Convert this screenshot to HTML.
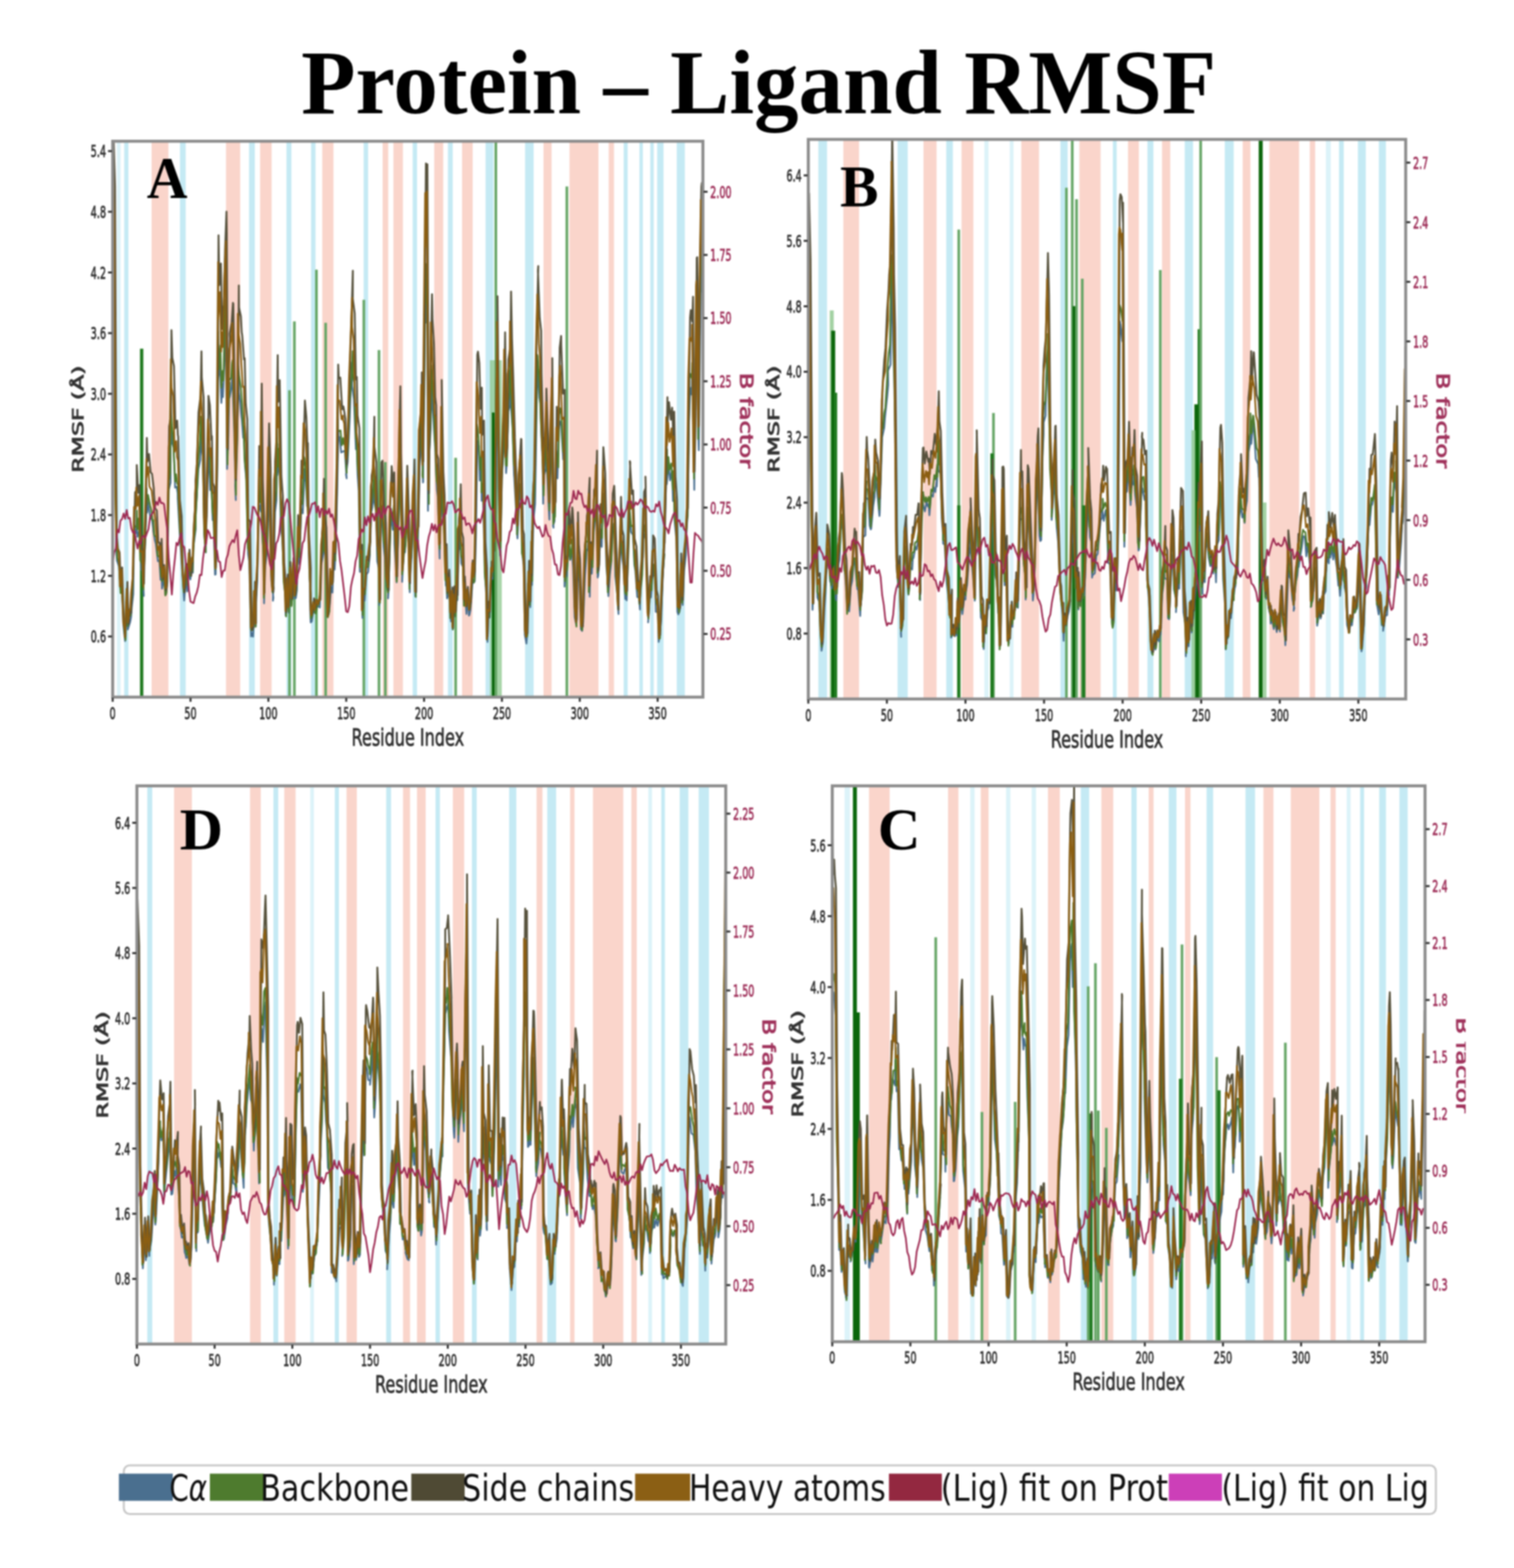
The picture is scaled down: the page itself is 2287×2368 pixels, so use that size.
<!DOCTYPE html><html><head><meta charset="utf-8"><title>Protein – Ligand RMSF</title>
<style>html,body{margin:0;padding:0;background:#fff;}svg{display:block;filter:blur(1.3px);}.t{font-family:"DejaVu Sans","Liberation Sans",sans-serif;}.b{stroke-width:1.1px;}.s{font-family:"Liberation Serif",serif;font-weight:bold;}</style></head><body>
<svg width="2287" height="2368" viewBox="0 0 2287 2368">
<rect width="2287" height="2368" fill="#fff"/>
<text class="s" x="455" y="171" font-size="137" textLength="1382" lengthAdjust="spacingAndGlyphs" fill="#000">Protein – Ligand RMSF</text>
<clipPath id="clipA"><rect x="170.2" y="213.3" width="891.6" height="839.5"/></clipPath>
<g clip-path="url(#clipA)">
<rect x="176.6" y="213.3" width="5.6" height="839.5" fill="#dcf3f9"/>
<rect x="187.6" y="213.3" width="6.4" height="839.5" fill="#c5eaf4"/>
<rect x="229" y="213.3" width="25.4" height="839.5" fill="#fad5cb"/>
<rect x="271.8" y="213.3" width="8.7" height="839.5" fill="#c5eaf4"/>
<rect x="341.4" y="213.3" width="21.4" height="839.5" fill="#fad5cb"/>
<rect x="376.2" y="213.3" width="8.7" height="839.5" fill="#c5eaf4"/>
<rect x="392.9" y="213.3" width="17.4" height="839.5" fill="#fad5cb"/>
<rect x="432.7" y="213.3" width="7.5" height="839.5" fill="#c5eaf4"/>
<rect x="469.8" y="213.3" width="6.8" height="839.5" fill="#c5eaf4"/>
<rect x="486.8" y="213.3" width="16.9" height="839.5" fill="#fad5cb"/>
<rect x="549.3" y="213.3" width="6.8" height="839.5" fill="#c5eaf4"/>
<rect x="578" y="213.3" width="8.5" height="839.5" fill="#fad5cb"/>
<rect x="594.3" y="213.3" width="14.3" height="839.5" fill="#fad5cb"/>
<rect x="623.4" y="213.3" width="6.6" height="839.5" fill="#c5eaf4"/>
<rect x="655.9" y="213.3" width="13.6" height="839.5" fill="#fad5cb"/>
<rect x="676.6" y="213.3" width="7.3" height="839.5" fill="#c5eaf4"/>
<rect x="698" y="213.3" width="16" height="839.5" fill="#fad5cb"/>
<rect x="733.5" y="213.3" width="12" height="839.5" fill="#c5eaf4"/>
<rect x="793.2" y="213.3" width="12.9" height="839.5" fill="#c5eaf4"/>
<rect x="821" y="213.3" width="12.2" height="839.5" fill="#fad5cb"/>
<rect x="860.3" y="213.3" width="43.7" height="839.5" fill="#fad5cb"/>
<rect x="919.5" y="213.3" width="8" height="839.5" fill="#fad5cb"/>
<rect x="942.1" y="213.3" width="6.1" height="839.5" fill="#c5eaf4"/>
<rect x="965.9" y="213.3" width="5.2" height="839.5" fill="#c5eaf4"/>
<rect x="982.3" y="213.3" width="5.2" height="839.5" fill="#c5eaf4"/>
<rect x="992.7" y="213.3" width="9.6" height="839.5" fill="#c5eaf4"/>
<rect x="1022.3" y="213.3" width="12.2" height="839.5" fill="#c5eaf4"/>
<rect x="211.5" y="526.6" width="5" height="526.2" fill="#1f7a1f"/>
<rect x="435.3" y="589.4" width="4" height="463.4" fill="#66a666"/>
<rect x="442.7" y="485.4" width="4" height="567.4" fill="#66a666"/>
<rect x="476" y="407.3" width="4" height="645.5" fill="#66a666"/>
<rect x="489.9" y="487.5" width="4" height="565.3" fill="#66a666"/>
<rect x="547.6" y="452.8" width="4" height="600" fill="#66a666"/>
<rect x="570.5" y="528.7" width="4" height="524.1" fill="#66a666"/>
<rect x="580.1" y="697.9" width="4" height="354.9" fill="#66a666"/>
<rect x="686.3" y="691.4" width="4" height="361.4" fill="#66a666"/>
<rect x="740" y="544" width="18" height="508.8" fill="#8cc78c" opacity="0.75"/>
<rect x="743" y="623" width="6" height="429.8" fill="#0b660b"/>
<rect x="747" y="213" width="4" height="839.8" fill="#66a666"/>
<rect x="854.3" y="281.6" width="4" height="771.2" fill="#66a666"/>
<polyline points="169.5,427.9 171.7,434.4 172.2,478.6 175.2,763.6 175.4,828.7 176.7,846.7 179.7,855.2 182.5,893.7 183.7,882.3 186.3,944 188.4,963.5 189,968.3 190.7,909.9 193.1,950.7 196.6,939.4 198,932.3 199,917.6 201.3,897 202.4,807.9 205,805.3 206.4,786.6 207.6,810.6 210.8,800.7 213.3,860.5 214.5,861 217.2,899.9 216.4,880.8 219,818.2 222,748.4 222.3,774.2 223.6,758.4 227.3,783.8 229,780.8 231.5,799.1 231.5,801.2 233.8,815.7 235.4,821.5 238.5,847.5 240.8,847.4 242.6,875.6 243.4,850 244.8,889 247.5,872.5 249.9,898.1 250.9,897.4 252.9,879.1 254.1,742.5 257.7,728.9 257.7,636 260.1,669.5 262.3,675.9 264.5,736.4 266.9,735.2 268.4,744.9 268.5,753 272,814.4 273.1,829.3 276.7,885.5 277.4,895.3 278.2,906.9 281.1,871.6 282.8,893.1 285,862.1 287.5,875.1 290,859.6 291.3,865 291.8,827.9 295.6,799.6 295.3,786.1 296.6,760.3 299.7,708.5 302.6,694.3 304,654.3 304.3,671.3 306.6,691.7 308.4,805.2 311,834.3 310.8,809.1 314.2,709.6 315.2,687.4 316.4,708.3 317.6,740.2 319.7,738.5 321.2,785.4 322.7,784.1 324.8,867.9 325.8,867.4 327.4,714.7 329.8,518.3 329.4,573.5 332.1,548.3 334.4,608.5 336,580.2 336.7,599.6 340.1,518.8 341.4,477.5 341.2,498 343,708.2 344.9,657.8 346.1,602.2 347,599.4 349.2,586.8 351.3,565.2 350.9,567.5 353.7,648.1 356.2,755.3 355.3,733.3 357.9,670.8 360.4,569.7 360.8,592.1 362.8,606.2 364.7,628.9 365.4,634.5 367.3,661.1 368.4,656.7 370.2,704.9 372.3,725.7 374.8,836.5 376.4,847.7 379.3,961.1 380.1,955.9 382.3,961.5 384.5,914.1 386.3,945.8 386.3,916.7 388.7,876.9 390.7,760.2 394.1,772.7 394.6,698.6 395.7,799.1 398.8,846.7 398.9,911.1 400,860 403.7,830.4 405.5,738.8 405.9,741.1 407.3,777.3 409.8,875.5 413,902.7 412.3,907.2 415.5,773.5 417.7,755.6 419.1,670.3 419,717.9 422.6,692.5 424.1,796.7 426.2,812.1 429.6,883.1 431.2,909.4 431.6,929.7 433.5,892.6 436.2,925.4 438.5,872.9 440.4,913.4 443.5,874.1 445,903.4 446.9,903.4 448.5,891.3 450.1,825.7 452.5,852.1 454.8,767.6 457.4,775.3 460.2,709 460.2,708.3 462.3,728.3 463.9,764.5 464.7,748.1 466.4,835.9 468,880.6 468.2,909.1 469.3,940 471,938.5 473,924.3 476.1,925.5 478.5,914.9 479.9,916.6 482.8,915.4 483.1,917.5 485,854.2 488.3,837.1 488.6,797.1 490.5,831.6 492.5,847.6 494.3,931.7 496,927.4 497.4,922.3 500.1,886.6 502.2,894.9 504.2,840.6 505.5,860.2 507.1,832.5 509.2,747 511.1,650.5 511.5,661.2 512.9,660 515.4,683.3 517.8,682.1 518.8,681.2 521,681.8 523.6,722.4 522.7,716.5 525.2,697.3 528.4,630.2 529.3,602.9 531.5,547.2 531.8,582.9 534.6,602.7 537.6,678.4 538.9,674 540.2,717.5 541.9,741.4 543.6,863.5 546.2,863.2 547.5,933.2 548.4,906.8 550.9,906.9 553.5,867.6 556.1,863.9 558.7,838.1 558.4,839.5 560.5,774.7 562.4,766.5 565.5,719.6 565.4,758.8 568,771.2 569.9,847.9 572.4,858.7 572.9,913.7 575,809.4 576.1,777.2 577.2,774.3 579.6,826.2 581.2,840.5 584.1,886.6 586.9,893.8 586.2,903.6 589,815.9 590.5,777.2 590.6,776 593.4,800.1 595.4,776.3 595.9,820.8 597.7,850.3 599.1,879.5 601.2,820 603.3,733.2 604.1,694.7 605.5,758.3 608.2,833.8 607.5,878.8 609.7,835.3 611.7,834.2 614.9,776.7 614.6,782.6 617.8,827.5 619,894.4 619.2,874.2 621.6,840.3 623.5,788.4 625.7,777.6 626,816.1 627.3,900.6 628.9,842.8 631.3,817.3 633.9,700.7 635.6,678.8 636.4,643 639,728.6 639.2,728.1 639.9,614.2 642.2,425.1 642.9,487.5 645.2,436.1 646.5,771.4 647.2,710.1 650.6,646.6 651.8,573.8 652.4,599.4 654.1,624.3 657.7,682.8 658,694.5 660,740 661.2,749.8 664.1,843.5 664.1,836.7 666.7,715.9 666.3,681 668.5,778.5 671.1,800.9 673.5,884.4 673.3,855.4 675.3,903.7 678.6,893.5 681.2,938.5 682.2,911.6 683.9,950.8 684.7,910.6 687.8,931.2 689.9,887.4 690.9,906.4 692.4,833.1 695.1,820.6 694.6,803.5 696.9,850.9 699.8,857.2 701.9,913.4 701.9,894.1 704.7,927.3 705.8,899.6 708.4,929.6 709.2,928.6 710.6,921.8 714.1,875 715.6,879.9 717.1,878 719,806.9 721.1,665.8 720.6,667.9 723.3,673.6 724.8,725.7 726.9,700.4 727.6,756.2 729.4,743.2 732.6,868.4 734.5,899.1 736.4,969.4 737.5,934.3 739.9,932.3 741.5,871.6 744,874.5 746.7,802.6 746.3,833.2 749.1,719.7 750.9,607.1 751.9,585.9 753,737.8 756,833 755.5,838.9 757.5,726.3 761,677.9 762.8,597.2 763.2,639.8 764.5,714.5 765.1,705.2 767.9,621.1 770.4,612 770.2,559.5 772.1,617.1 774.3,647.5 776.4,716.9 776.8,721 779.4,768.4 781.2,807.1 781.7,813.2 784.1,758 786.4,737.9 786.9,744 789.1,837.6 791.1,854.9 792.8,959 795.2,972 796.4,958.7 797.8,881.7 801,917 803.4,845.3 803.5,883.4 805.6,787.9 808.3,761.1 810.7,615.9 812,557.7 812.9,558.3 814.7,600.4 816.7,611.7 817.7,655.7 819.8,701.5 820.5,760.8 821.1,718.9 824.8,708 824.4,663.1 826.6,715.7 828.5,758.2 829.9,784.8 831,720.2 834.2,656.6 833.8,639.7 836.1,796.9 835.3,793.8 837.6,787.3 840.1,693.7 842.1,722.4 844.6,639.8 846.3,636.5 847.8,644 850.7,693.8 852,694.1 852.8,885.9 855,867 856.4,870.3 858.7,822.3 861.1,845.6 864.8,827 863.6,830.2 865.7,856.8 868.1,932.3 870.5,943.4 871.4,934.8 872.3,834.8 872.7,864.5 875.2,880.3 877.5,950.2 879.3,952.9 880.9,940.2 883.6,870.5 885.6,843.5 886.1,832.5 888.2,828.1 889.8,790.3 890.9,901.3 891.5,848.3 894,866.5 897,802.9 898.5,788.9 901.3,757.1 901.8,804.4 902.9,872.3 903.7,868.7 906.9,810.6 909,825.9 910.6,753.8 911.2,762.9 913.9,782.6 916,855.3 918.1,881.7 919,900.3 921.2,868.3 923.2,850.4 924.7,803.6 926.5,802.2 928.2,798.7 929.4,870 932.3,897.1 934.3,927.3 934.1,897.3 936.3,846.8 937.4,813.2 940,844 941.5,854.3 944.5,904.6 945.9,877 946.7,906.8 948.3,834 951.2,776.5 950.9,776 953.4,803.7 956.1,807.9 958.3,853.2 959.7,861.5 962.6,901.5 965.4,902.7 966.7,920.4 966.9,891.7 969.3,871.9 971.5,815.2 974.8,804.8 975.1,796.8 977.6,886.4 979.3,936 979,940 981.6,901.6 983.3,902.2 986.8,858 987.1,868.3 989.3,870.7 990.6,924 994,924.4 995,969.4 996,962.3 998.7,935.7 1000.7,875.2 1003.4,837.1 1002.9,835.5 1004.9,771.1 1007.1,696.5 1007.2,731.2 1010.1,699.4 1012.1,725.4 1015.1,710.2 1016.6,756.6 1018.8,722.9 1018.8,784.4 1021.8,816.2 1023.2,924 1024.7,927.8 1027,921.1 1028.9,878.5 1031.2,913.8 1033.3,862.7 1036.1,837.9 1037,799.7 1038,787.6 1040.6,639 1042.5,593.8 1043.5,585.8 1044.9,595.9 1045.4,563.8 1048.2,681.6 1048.8,739.8 1049.2,670.3 1052,520 1053,508.8 1054.5,640 1055.6,680 1057.4,513.5 1059.1,394.6 1059.7,391.5 1060.8,440.6 1061.7,431.9" fill="none" stroke="#4a6f8f" stroke-width="2.6" stroke-linejoin="round"/>
<polyline points="169.5,397.8 170.9,396.4 172,443.5 174.2,750.3 176.3,822.6 177.1,842.8 179.9,849.8 182.2,895.8 183.6,881.2 187.2,945.1 188.3,958 189.7,966.4 191.2,901.6 192.9,945.4 195.9,926.7 197.3,929.5 198.5,915.4 200.5,883.2 202.9,794.5 206.2,795.8 206.7,771.1 207.3,799.7 209.6,782.9 211.9,846.6 214.5,850.7 216.8,890.3 217.1,868.4 219.7,810.8 221.5,737.9 221.9,762.5 223.7,747.5 226.9,763.7 228.5,770.2 230.6,786.7 231.6,785.5 233.1,808.2 236.3,811.7 238,839.1 241.2,841.2 243.4,870.6 242.9,837.7 244.7,877.6 247.5,864 249.8,899.3 251.3,894.9 252.7,871.5 255.2,726.1 257.2,713.8 257.8,612.2 259.6,643.4 261.2,658.5 264.7,727.4 265.9,716.2 267.7,730.2 268.9,732.4 271.9,802.3 273.6,819.8 276.7,884.1 277.5,894.1 278.4,894.4 281.1,861.2 283.1,884 284.9,847.7 287.3,869.6 290,855 290.8,863.1 293.1,812.6 295.4,795.9 295.8,774.9 297.4,748.8 299.4,695.9 301.5,673.8 303.6,629.3 304.7,659.8 306.3,683.8 308.5,805.8 310.6,833.9 311.1,804 313.4,698.9 314.1,675 316.7,686.8 318.1,722.2 318.5,720.2 321.2,774.4 322.6,780.5 325.1,857.9 325.6,859.5 328.2,700 329.6,500.6 330.7,557.6 333.1,521.7 334.3,585.4 336.6,559.8 337.4,574.4 339.3,489.4 340.7,452.8 342.1,476.8 343.7,701.3 344.2,640.2 346.7,578 346,574.7 349.1,570.5 350.5,548.8 351.4,544.1 354,639.9 356.4,747.4 356.5,728.2 358.4,662.4 359.6,548.4 361.3,568.3 363.8,584.2 365,602.3 365.6,610.7 367.1,641 368.2,646.5 369.3,692.2 371.7,713.7 374.3,827 377.6,837.3 379.1,951.1 379.7,951.8 381.5,951.4 384.4,905.5 386.1,946.5 386,919.5 388.2,867.1 390.7,748.1 393,758.7 394.5,685.3 395.9,788.3 397.5,830.3 398.7,903 400.1,850.9 403.7,822.1 405,721.1 405.1,727.5 408.4,764.5 410.1,869 411.5,893.7 412.3,894.9 414.7,764.2 417.6,742 418,648.4 419.8,704.6 421.3,677.5 424.7,780.6 426.3,798 428.5,878.5 431.8,904.8 432.2,930.9 433.4,887.3 435.9,924.2 437.8,874.3 440.3,915.3 443.3,867.7 445.5,900 446.9,894.8 447.5,889.5 449.8,821.5 452.2,841.4 455.3,756.5 456.8,761.1 458.7,688.9 460.1,692.7 461.3,704.6 463.9,752 463.5,730.1 467.3,831.7 467.8,872 469.3,898.5 469.5,934 471.8,928.4 473.5,918.7 476.7,926.5 479.1,915.6 481.2,912.5 481.6,910.5 482.8,905.9 485.3,840.5 487.8,831.7 488.3,786.8 489.4,826.9 493,841.3 494.4,926.6 495.3,932.2 497.4,923.8 499.1,875 501.1,881.8 503.8,832.7 506.5,846.4 505.9,827.7 508.4,729.7 510,632.4 510.5,651.4 514.4,650.1 516.4,672.5 518.4,661.5 519.4,670.3 521,672 523.7,713.9 523.3,706.3 525.1,684.2 527.8,611.3 530.4,579.6 532.8,530.4 532.6,564.8 535.3,577.9 537.6,662.5 538.3,657.6 540.2,704.2 542.1,720.8 543.9,856.8 545.9,852.8 547.9,928.9 548.6,899 551.3,897.1 552.9,857.7 555.7,856 558.7,828.7 558.3,838.1 561,761 562.5,751.9 565.3,711.3 566,743.7 567.5,763.2 570.8,838.5 573.2,858.4 574,910.5 574.5,808.5 574.8,761.8 577.2,767.6 579.5,816.7 581.3,825.3 584.3,884.2 586.1,894.7 586.8,892.2 589.6,808.1 590.2,771.2 590.7,768.4 593.3,786.9 595,763.2 596.5,807.3 598.1,835 599.2,878.3 601.3,809.7 602.8,723.2 603.2,680.1 604.6,747 607.4,817.6 607.4,867.5 610.4,834.7 612.6,823.2 615,757.1 614,772.8 617.1,819.5 618.7,889.7 618.8,868.9 621.5,835.1 624.9,777.6 626.1,762.2 627,802.6 628.1,901.4 628.4,828.9 630.6,811.3 633.4,688.6 635.9,664.1 636,627.5 638.8,721.4 638.1,718.4 640.9,594.4 642.9,398.5 643,459.2 645.2,399.4 647.9,761.1 648.1,694.3 650.6,630.4 651.2,551.9 652.5,572.5 655.3,611.6 656.9,663.5 657.7,672.3 659.4,725.5 661.9,734.8 663.9,827 664.1,828.9 667.1,702.8 667.4,663.5 668.1,760.6 670.4,795.1 672.8,876.4 673.7,850.1 675.5,896.5 678.5,879.8 680.1,933.8 683.2,905.3 684.1,950.1 685,904.7 687.7,930.7 690.4,888.5 690.5,904.6 691.6,827.3 694.2,808.7 695.3,787.9 696.3,838.9 699,844.9 700.8,914.9 701.2,890.7 704.7,915.1 705.9,899.9 709.6,918 709.9,915.6 710.6,917 713.1,870.8 715.7,880 716.8,874.9 718.1,798.5 720.1,640.3 721.1,644.8 722.5,657.7 725.5,709.2 727.4,686.5 727.1,743.7 730.5,726.8 732.2,865.6 734.7,891.4 735.3,965.7 736.6,927.7 739.2,931.5 741.5,871.1 743.3,870.1 746.5,794.1 747.3,831.6 748.1,707.8 751.7,582.9 751,561.1 754.1,727.2 755.7,827.5 756,827.2 758.1,718.3 761.2,664 762.7,578 762.5,631.5 764,702.6 765.7,703.2 768,607.4 769.6,592.7 771,542.6 772.5,599.1 774.1,638.5 776.3,702.8 777.6,700.4 780,754.2 781.7,798.7 780.9,806.9 783.3,747.5 786.2,731.9 786.9,729.6 788.4,835.1 791.9,849.6 794,956.7 795.1,961.2 796.4,960.7 797.8,881.4 800.4,913.7 802.6,835.3 803.9,877.5 804.6,775.4 807.1,748.4 810.7,599.3 811.5,535.9 812.1,537.9 814.9,577.3 815.7,595.5 816.7,631.6 819.6,688.4 821.2,748.3 822.2,705.3 823.7,689.1 824.8,649.5 826.3,703.6 829.2,741.3 829.8,770.8 831.5,706.1 833.9,636.6 833.2,625.8 835.8,791.3 836.4,787 838.4,779.8 840.2,680.2 843.4,705.7 844.5,627.2 846.3,616.6 847.5,618.4 850.7,682.4 852.6,680.4 853.3,877.7 855.3,862.3 856.6,860.8 859.8,816.3 861.7,844.4 864.4,822.2 863.5,814.7 867,850.7 869.4,926 870.8,946.3 870.7,932.4 872.3,830.7 874.2,864 876.5,875.5 877.6,943.9 879.3,951.6 880.3,936.5 882.7,858.5 885,836.4 885.1,818.1 887.9,817.9 889.4,781.1 889.5,894.2 891.9,842.3 895.1,856.7 897,789.4 899,784.4 901.2,743.4 902.4,794.2 902.4,865.2 903.5,859.5 906.9,799.1 909.4,812.6 911.3,745.8 911.6,749.3 913.1,772.6 916.4,839.8 917.5,875.3 918.1,894.5 921.1,857.2 923.5,846.3 926,797.6 927.3,791.5 928.1,789.3 929.8,856.5 931.8,886.3 934,920.7 933.8,886.7 936.4,830.6 938.4,801.7 940,834 942.4,849.7 944.3,896.3 946.7,869.6 946.7,898.6 949.4,828.6 951.5,762.9 950.3,760.7 953.3,794.6 956,793.6 958.7,852.1 959.9,858.7 963.6,892.4 964.6,891.2 966,912.3 968,887.7 970.1,868.5 972.3,804.4 974.1,794.1 975,791.5 977,872.2 979,930.5 979.6,933.9 981.8,890.2 984.2,891.6 985.6,851 988.2,854 988.3,860.8 991.4,910.4 994.2,917.6 996.3,964.8 996.9,963.9 998,930.7 1001,868.1 1003.4,837.4 1002.1,832.6 1004.8,761 1007.6,678.8 1008.1,715.8 1009.7,690.4 1011.5,709.4 1014.1,699.9 1016.4,738.9 1017.4,711.4 1019,781.8 1021.7,799.3 1023.9,917.5 1024.6,916.3 1026,924.9 1028.1,866.1 1030.5,910.4 1032.9,851 1035.2,821.9 1037.8,786.6 1038.8,779.9 1041,622.8 1041.4,567.1 1042.5,564.6 1044.9,571.3 1045.7,548.1 1047.9,665.4 1048.3,722.8 1049.1,657.1 1052.5,497.5 1053.5,494.5 1054.8,617.8 1054.6,663.1 1056.1,496.4 1059.3,367.3 1059.9,366.2 1061,418 1061,409.8" fill="none" stroke="#4e7b2e" stroke-width="2.6" stroke-linejoin="round"/>
<polyline points="171.1,212.6 171.8,214.7 173.7,281.3 175.7,712 176.4,809.1 178.2,828.8 180.6,834.2 182.6,885.1 184.5,856.9 186.9,936.6 189.4,959 189.2,960.6 192.5,878.8 194.1,942.1 196.9,918.9 198.2,925.4 199.1,893.3 201.1,865.1 204.1,743.7 206.6,740.3 206.6,702.4 208.9,744.4 210.8,732.7 213.7,824.4 215.5,829.8 217.5,881.5 217.9,855.4 220.5,766.1 221.8,661.5 222.7,697.2 225.1,685.7 227.6,713.3 229.6,715.7 232.3,737.6 232.5,744.7 234.3,767.5 236.9,770.8 239.1,819.2 241,819.4 243.6,856.6 244.1,813.9 246.4,874.8 248.1,853.3 250.6,891.5 251.9,885.5 252.8,849.2 255.5,644.1 258.2,627.9 259,498.7 260.3,540.2 262.8,553.1 265,646.8 267.6,635.2 268.7,657 269.2,659.4 271.7,755.5 274.4,779.3 276.2,870.3 278.3,885.6 278.9,894.3 281.6,851.3 283.6,874.6 286.3,830.1 288.9,869.7 290.9,844.3 291,850 293.1,789.5 295.6,751.9 295.4,725.3 297.4,700.7 299.9,622.6 303.1,597 304.3,530.7 304.8,569.8 307.6,600.8 309.8,780.4 310.5,816.3 312.3,779.7 314.8,623 314.9,597.8 317,611.6 319.5,664.5 320.1,658.6 321.4,729.2 323.6,734.9 326,857.3 326.4,847 328.8,634 330.1,355.5 331.3,430.6 333.7,398 335.6,497.2 337.1,462.8 337.5,486.3 340,377.5 342.1,319.7 342.6,353.8 344.2,678.4 344.6,600.4 347.4,511 347,503.8 349.9,487.4 351.9,457.5 352.4,458.8 354.4,576.2 356.5,725.1 356.7,702.9 359.5,596.8 360.8,431.2 361,464.2 363.9,477.9 365.1,501.6 365.9,506.7 368.6,542.9 369.6,540.9 371.2,609.2 373.6,633.4 375,783.9 377.7,787.3 380.5,951.6 380.6,950 383,948 385.3,878.6 386.8,941.3 386.9,901.2 389.8,832.2 391.6,673.7 394.5,692.6 395.4,579.5 397,726 399.4,792.1 399.4,895.1 401.2,817.4 403.9,786 406.5,639.5 406.6,644.3 408.7,705.2 410.5,851.5 413.4,888.3 412.9,894.1 415.6,696.1 417.8,661.9 419.5,536.4 420.1,606.8 422.5,574.1 425,718.7 427.2,748.9 429.5,851.2 431.9,884.8 432.1,924.9 434.7,867.7 436.5,915.4 438.6,848.6 441.5,904.7 443.4,842.6 446.1,897.8 447.6,883 448.4,881 450.3,778 453.4,814.5 455.4,695.6 458,702.5 460.6,605 460.7,606.3 462.7,629.5 465.2,694.8 465.1,669.2 466.8,804.6 469.4,858.2 469.2,891.3 470.3,928.4 472.2,923.8 474.3,903.7 476.8,917.6 479.2,906.6 481.2,910.4 483,900.2 484.1,905.6 486.5,805.4 488,786.3 489.5,723.1 490.4,775.8 493.1,796.7 495.9,928.4 495.6,917.6 497.4,917.4 500.6,863.3 502.8,879.7 505,817 506.6,835.9 507.6,806 509.9,683.4 510.9,550.6 511.8,571.1 514,570.2 516.9,618.1 518.7,613.8 520.1,621.9 521.7,633 524,700.7 523.9,689.7 525.7,649.8 528.9,546.5 530.5,493.7 533,409 532.9,451.1 535.8,473.1 537.6,573.1 539,569.4 540.1,627.5 542.9,646.4 544.9,829 547,822.8 547.9,919.1 549.5,889.4 551.4,889.3 553.9,840.5 557.1,847.1 559.3,817.3 559.4,819.4 561.4,718.2 564,704.2 565.5,629.5 565.6,674.8 568.6,698.2 570.6,808 573.1,828.8 574.5,905.4 575.1,749.5 576.2,698.3 577.8,695.8 580.4,765.6 582.8,788.8 584.8,864.2 586.9,878.5 587.2,891.7 589.3,766.3 591.5,708.8 591.6,704 594.2,737.1 595.5,713.4 596.5,770.6 598.8,814.4 600,870.5 600.9,770.2 603.2,649.8 604.8,583.3 605.7,685.4 608.6,791.1 608.6,856.8 611,801.3 613.5,793.9 615.2,703.3 615.9,722.2 618,786 619.4,880.9 620.2,855.2 622.2,805.5 625.3,721.9 626.1,693.8 626.9,755 628.7,894.2 629.4,806 632.3,794.8 634.2,637 636.9,609.1 637.2,562.5 638.8,697 639.5,696.5 641.1,525.6 643.4,246.8 643.3,335.2 645.6,248.1 647.9,745.1 648.8,657.9 650.4,553.9 652.6,444.3 653.3,481.6 655.6,520.6 657.4,599.1 658.9,612.2 659.8,685.4 662,692.9 664.7,820.4 664.7,814.3 667.7,626.8 667.2,574 669.7,712.4 671.6,748 673.9,867.6 674.7,821.9 676.1,894.7 678.8,860.5 681.6,931.6 683.5,887.2 684.2,948.2 686.5,885.4 688.7,923.4 690.9,868.5 691.2,898.7 693.3,784.1 695,764.4 696,731.4 697.3,802.7 699.8,812.5 701.8,907.8 702.2,870.6 704.5,915.7 706.8,886.4 709.3,920.7 710.9,908.8 711.5,909.2 714.1,846.5 716.3,868.3 717.4,861.7 718.8,764.7 721,535.6 722,531 724,547.8 726,617.4 727.8,585.5 728.3,656.8 731,635.1 733.3,818.1 735.6,858.1 736.6,960.7 738.1,908.7 740,924 742.9,848 744.8,860.9 747.1,764.3 747.5,813.4 749.1,639.7 751.8,476 751.5,447.4 753.8,675 756.3,816.1 756.1,817.1 759.2,669.3 761.6,604.8 763,502 763.9,573 764.6,688.6 766.4,674 768,543.2 771.1,522.4 772,440.3 773.4,511.9 775.2,567.3 777.8,660.3 777.7,659.6 780.4,731.7 782,786.5 782.2,792.9 784.5,704.8 787.1,662.8 787.6,663.6 789.9,799.6 791.5,807 794.4,951.1 795.2,957.5 796.9,956.7 799.3,846.8 801.2,908.1 803.5,801.8 803.6,869.1 805.8,734.5 807.9,701.4 810.8,496.4 813.1,401.8 812.6,408.7 815.3,480.2 817.5,499.9 818.1,564.3 820.1,643.7 821.5,729.7 822.2,670.3 825,644.1 825.4,587 827.6,656 829.7,716.3 830.1,759 831.6,657.3 834.3,567.5 834.3,540.8 836.2,774 836.5,770 839.3,757.4 841,614.3 843.9,646.6 845.5,525.1 847.6,507.3 847.8,521.8 850.6,594.5 853,588.7 853.8,867.4 855.4,840.2 857.2,844.1 859.6,770.8 862.4,808.8 864.4,766.4 865,770 867.4,813.6 869.4,918 870.9,936.1 871.8,918.7 873.1,773.7 874.3,822 876.2,845 879.3,938.2 880.3,946.2 880.8,931.7 883.5,824.6 886.1,800.5 886.6,779.3 888.2,769.7 890.8,721.6 890.6,884.9 893.3,818.8 895.1,837.3 897.5,740.1 900.2,734.4 901.9,680.7 901.9,751.4 903.9,862 905.2,852 907.3,761.4 909.6,778.8 911.4,675.5 912,683.9 914.2,714.8 916.4,815.3 918.8,861.3 918.7,886 921.4,837.7 923.9,812.9 925.6,745.6 927.8,733.7 927.9,735 931,825.9 932.9,866.5 934.2,920.8 935.1,866.4 937.4,790.8 938.1,750.5 939.9,800.3 942,808.7 944.9,884.3 946.6,855.8 947.2,892.3 949.6,788.2 952,698.2 951.4,696.5 954.6,746.2 956.3,740.6 958.6,813.7 961.4,825 964,877.8 965.9,878 966.4,910.5 968.4,863.1 970.9,841.3 973.1,742.8 975.4,736.6 975,720 977.2,847.8 979.7,923.1 979.6,931.1 982.2,870.1 985.2,871.5 986.6,808.7 988,811.2 989,813.5 991.9,891.4 993.9,899.6 996.3,958.3 997.1,959.1 998.7,921.2 1001.5,862.4 1003.5,822.5 1004,819.1 1006.1,726 1008.2,600 1008,647.6 1010.6,607.5 1013.4,633.8 1015.3,615.7 1017.6,670.1 1018.4,621.7 1020.4,719.8 1022.7,755.2 1024.4,914.3 1025.4,914.5 1027.3,918.1 1029,835.8 1031.6,906 1033.7,832.5 1036.4,813.3 1038.1,772.6 1039.1,767.1 1041.4,545.7 1042.4,479.6 1043.5,468.5 1045.7,485.5 1046.9,448.2 1047.8,615.8 1049.1,712.1 1050.9,624.6 1052.5,389.4 1053.3,388.4 1055.1,585.3 1055.7,643.3 1057.2,427.1 1059.4,282.4 1060.1,276.5 1062.6,385 1062.7,366.3" fill="none" stroke="#57523d" stroke-width="2.8" stroke-linejoin="round"/>
<polyline points="169.7,259.7 170.9,266.3 172.4,327.9 174.4,721.7 175.3,806.4 177.2,826.7 179.5,834.2 181,885.8 183.5,859.8 186.2,940.9 188.8,952.4 188.4,962 191.2,889.2 193.1,940.4 195.3,921.4 196.6,921.5 198,895.1 200.3,873.3 202.4,765.5 205.4,768.6 205.8,736.4 207.6,763.9 209.9,748.9 211.9,833.1 214.7,832.2 216.2,886.3 216.8,854.1 218.9,781.5 221.1,692.9 221.4,721 224.1,705.2 225.8,734.8 229,740.6 230.9,758.5 232,763.2 233.5,776.1 235.1,788.8 238,830.7 240.1,825.4 242.3,855.6 242.6,824.1 244.9,872.2 247.7,855.6 250.1,888.3 251.2,886.5 251.8,855 254.9,675.1 256.4,661.4 257.9,542.5 259.2,586 261.7,598 263.8,682.3 266.2,666.1 267.3,689.6 268.8,695.5 271.3,769.7 272.7,797.2 275.9,867 277.7,887.4 277.6,888.4 280.7,852.6 283,874.5 285,835.3 287.2,862.1 289.9,842 290.7,848.1 292.5,801.5 294.3,772.3 294.6,745.8 296.4,722.1 299.1,655.7 301.8,628 303.3,576 303.9,602.7 305.8,635.8 308.1,781.6 310.2,820.9 311,787.2 313.6,650.2 314,633.4 315.1,640.2 317.6,689 318.9,677.1 320.7,741 322.9,746.5 325.3,858.3 324.7,846.6 327.3,660.5 329.4,395.7 329.6,482 332.4,441 334.1,531 335.3,501.7 336.6,524.2 338.9,419.5 341.2,364.1 340.9,402 342.8,676.2 344.2,618.7 346.1,531.2 346.1,528.9 348.8,515.8 350.7,490.3 350.9,488 353.3,594.6 355.8,722.4 355.9,699.8 358.2,615.7 359.2,473.9 360.3,503.8 362.9,518.6 364.2,540.4 364.5,548.1 366.8,584.5 368.4,583.8 369.5,639.2 371.7,669.8 374.8,796.2 376.2,811.3 378.8,948.1 379.4,944.9 381.8,945.4 383.5,892.5 385.9,942.1 385.7,898.6 388.6,847 391.2,709.6 393.3,718.6 393.9,621.6 395,749 398.2,806.1 398.7,898.1 400.4,829.8 402.5,800.6 404.8,677.8 405,675.4 406.9,729.6 409.3,857.1 411.3,891.1 411.6,890.1 414,724.1 416.9,699.6 418,583 419.1,645.7 420.9,615.1 423.7,744.6 425.7,774.3 428.3,856.5 430.4,894.4 431.1,922.6 433.5,873.1 435.3,917.2 438.2,857.1 439.8,903.1 442.6,849.9 444.8,899.7 446.3,882.9 447.4,884.6 449.8,795.9 451.8,826.2 454.6,718.1 456.5,722.2 458.5,639.1 459.8,641.5 461.6,658.6 463.8,713.8 463.3,693.9 466.1,817.8 467.7,855.7 468.6,892.6 469.1,921.4 470.3,929.2 473,909.3 475.3,921.1 477.6,905.5 480.3,912.8 482.2,903.4 482.7,907.3 485,822.6 487.5,798.2 488,745.1 490.1,796.5 491.5,821.3 494.6,930.9 494.9,924.9 496.4,914.3 498.7,859 501.5,882.8 503.3,818.6 505.9,833.9 505.7,806.9 508.5,698 509.8,581.5 510.4,603.8 513,605.2 515.9,633.3 518.2,627.7 518.3,634 519.9,639 522.5,692.9 522.9,683.7 525.2,659.5 527.2,571.7 529.1,522.7 531.9,449.8 531.8,493.3 534.1,512.5 536.5,613 538.7,610 538.5,653.5 541.5,677.5 544.1,835.6 546.1,831.9 546.5,921.7 548.5,891.1 551.1,887.8 553.5,845.8 555.1,843.6 558,819.5 558,824.2 560.1,734.1 562.5,720.5 564.7,661.4 564.9,703 567,723.6 569.6,821.9 571.6,834.3 573.2,908.7 574.4,773.6 574.9,726 576.4,724.6 578.6,782.6 581.5,802.4 583.2,871.9 586.4,885.7 585.7,887 588.2,781 590.2,728.5 590.9,729.4 593.4,750.3 594.6,729.6 595.5,783.5 597.8,819.1 598.5,869.8 599.9,781.1 602.6,676.7 603.4,619.3 604.6,710.7 607.1,804.2 608,861.6 609.7,811.6 612.1,805.9 614.5,722.5 614.3,739.1 616.3,794.4 618.1,878.5 619.2,862 621.2,810.7 623.2,744.8 625,717.6 625.5,778.7 626.8,893.7 628.2,817.7 630.7,796.3 632.6,649.7 635.2,629.9 636.2,581 638.2,702.3 638.1,701.1 639.6,545.2 642.2,291.5 642.2,373.3 644.9,288.8 646.9,739.5 647.4,665.9 649.7,582.2 650.6,486.7 652.1,512.3 653.9,556.7 656.4,626.2 657.9,629.6 659.1,697.3 661,713.5 663.1,822.4 664.2,814.8 666,660.5 666.4,614.4 668.4,730.5 670.5,761.2 672.3,864.8 672.6,825 675.8,892.5 677.8,872.4 679.9,925 682.6,891.8 683.3,947.2 684.9,897.7 687.2,924.9 689.8,869 689.6,890.3 691.4,798.7 694.4,789.3 694.5,752.8 696.5,818.7 698.7,825.9 700.6,904.5 701.2,880.3 703.5,915.4 705.5,890.4 708.5,921.1 709.5,909.8 710.3,908.6 713.4,850.3 714.9,871.8 716.1,861 717.6,774.7 719.9,577.1 720.5,577.8 722.5,597.7 724.9,654 726.8,629.2 727.4,689.9 729.4,681.7 731.8,831.2 734.4,872.8 735.2,965.3 736.7,920.9 739.1,923 741.7,857.6 744,863.5 745.9,769.5 746.5,817.7 748.5,667.5 751.1,523.5 750.6,486.1 753.4,698.9 755,817 755.4,817.7 757.7,687.9 760.1,623.5 761.5,527.7 762.3,590 763.4,690.4 765.1,674.2 766.7,564.9 769.9,546.2 770.3,485.3 772.2,539.5 773.9,594.7 776.6,671.6 776.7,671.8 778.5,733.5 780.8,787.1 781.2,793.8 783.2,716.3 785.6,688 786,694.3 788.2,807.3 790.5,828.2 792.7,951.3 794.7,961.9 795.4,953.6 798.1,862.8 800.2,906.9 802.5,817.9 802.4,865.3 804.9,746.5 806.6,721.8 809.3,536.5 811.6,444.5 812.2,453.4 814,518.9 815.7,540.9 816.7,584.9 818.7,662.7 820.7,731.9 821.3,684.6 823.4,655.3 825,607.1 825.6,674.6 828.3,724 829,758.3 830.2,674.1 833.1,593.5 833.5,571 834.9,774.5 835.2,772.9 837.9,761.3 840.1,645.5 842.6,665.7 844.8,568.7 846.1,552.4 846.6,562.1 849.2,632.7 851.7,630.5 852.4,871.5 854.6,846 856.7,848.4 858.7,793.9 861.6,821.3 863.1,792.2 863.9,793.8 865.9,821.9 867.9,916.3 870,939.4 870.8,924.3 872.3,789.3 872.5,832.5 875.7,858.4 877.3,940.4 878.3,946.4 880,933.3 882.5,837.9 885.1,809.4 885.5,788.9 887.2,791 889.3,745.7 889.4,884.7 892,821.9 894.4,844.9 896.9,754.6 898.4,746.7 900.1,702 900.9,763.1 902.4,856.1 903.3,854.8 906.3,777 907.7,789.7 911.1,704.4 910.9,712.3 912.7,742.9 915.4,825.1 917.6,869.5 917.4,882.2 920.4,849.2 921.9,823.9 924.6,761.9 926,756.6 927.5,758.6 929.1,835.6 931.3,876.3 933.1,914 933.9,875.3 936.5,809.6 937.3,775.4 939,815.6 940.9,822.5 943.1,883.2 945.9,854.7 945.5,893.2 948.4,797.9 950.2,731.8 950.3,723.3 952.8,768.4 955.5,762.5 957.9,828.4 959.5,832.3 961.9,889.2 964.2,879.6 965.7,906.6 967.2,867.6 969.1,845.1 971.5,767.7 974.2,764.4 974.4,752.6 976,852.8 978.1,925.6 978.8,929.6 981.6,883.1 983.1,876.9 985.4,831.8 986.8,832.3 988.7,829.1 990.5,902.6 992.7,908 995.2,964.1 996.3,954.2 997.3,928.4 1000.2,862.3 1002.6,822.3 1002.5,818.6 1004.4,735.7 1006.3,630 1007.4,672.4 1009.4,638.1 1011.3,667.4 1014.4,646.7 1016.6,703.9 1017.5,658.9 1019,746.4 1021.1,776.2 1023.4,916.2 1023.8,910.1 1026,918.2 1028.5,850.3 1030.3,900.8 1032.7,838 1035.3,812.1 1037,772.3 1037.4,767.3 1039.6,570.2 1041.4,512.1 1042.2,509.7 1044.9,515.6 1045.5,490.2 1046.6,628.8 1047.5,713 1049.4,637.2 1051.4,431 1052,424.2 1053.6,592.5 1054.8,644.7 1056.3,449.9 1058.6,307.8 1058.6,301.8 1060.7,386 1061.5,374.1" fill="none" stroke="#8b5e12" stroke-width="2.6" stroke-linejoin="round"/>
<polyline points="170.2,850.9 172.6,833.9 174.9,828.9 177.3,799.6 179.6,804 182,786.4 184.3,784 186.7,775.5 189,783.6 191.4,770.3 193.7,782.9 196.1,782.1 198.4,798.2 200.8,804.4 203.1,802.1 205.5,816.8 207.8,828.5 210.2,816.8 212.5,821.2 214.9,810.9 217.2,809.1 219.6,812.1 221.9,805.3 224.3,799 226.6,781.4 229,776.7 231.4,773.7 233.7,766.1 236.1,757.9 238.4,762.5 240.8,751.4 243.1,759.6 245.5,759.5 247.8,761.5 250.2,781.4 252.5,798.3 254.9,843.2 257.2,867.2 259.6,898 261.9,864.7 264.3,843 266.6,819.7 269,823.3 271.3,813.1 273.7,805.4 276,823.7 278.4,826.3 280.7,851 283.1,860.7 285.4,891.1 287.8,908.6 290.2,909.8 292.5,910.8 294.9,900.8 297.2,895.1 299.6,885.2 301.9,868.1 304.3,868.6 306.6,844.1 309,826.2 311.3,821.3 313.7,800.5 316,804.3 318.4,812.6 320.7,812.3 323.1,811.9 325.4,828.7 327.8,831.3 330.1,847.7 332.5,848.8 334.8,871.4 337.2,861.9 339.5,861.7 341.9,843.9 344.2,837.8 346.6,824.6 349,819.8 351.3,815.6 353.7,819.1 356,809.3 358.4,800.8 360.7,837.9 363.1,861 365.4,852 367.8,842.1 370.1,821.9 372.5,815 374.8,810.4 377.2,801.9 379.5,790.2 381.9,765.4 384.2,766.2 386.6,772.5 388.9,778.2 391.3,780.7 393.6,786.8 396,799.5 398.3,806.7 400.7,810.9 403,823.4 405.4,837.5 407.8,852 410.1,859.7 412.5,845.9 414.8,844.4 417.2,820.6 419.5,816.7 421.9,806.1 424.2,782.1 426.6,781.2 428.9,779.2 431.3,759.9 433.6,753.9 436,759.6 438.3,779.2 440.7,807 443,830.3 445.4,857.9 447.7,882.2 450.1,866.6 452.4,859.2 454.8,840.2 457.1,820 459.5,816.3 461.8,796.3 464.2,780.3 466.6,779.1 468.9,771 471.3,760.8 473.6,760.6 476,758.4 478.3,774 480.7,764.5 483,781.1 485.4,768.3 487.7,769 490.1,778.1 492.4,771.1 494.8,775.9 497.1,768.2 499.5,780.5 501.8,776.8 504.2,786.4 506.5,800.1 508.9,810.7 511.2,819.7 513.6,846.9 515.9,860.8 518.3,881 520.6,900.7 523,923.4 525.4,924.5 527.7,915.2 530.1,886.3 532.4,874.8 534.8,865.7 537.1,847.5 539.5,839.2 541.8,813.7 544.2,808.6 546.5,799.7 548.9,803 551.2,781.4 553.6,793.3 555.9,779.8 558.3,789.2 560.6,781.1 563,776.1 565.3,786.2 567.7,775.2 570,779.5 572.4,767.2 574.7,780 577.1,782 579.4,765.6 581.8,776.4 584.2,767.2 586.5,764.3 588.9,767.5 591.2,773.3 593.6,783.9 595.9,789.9 598.3,795.2 600.6,793.8 603,799.6 605.3,796.1 607.7,811.5 610,804.2 612.4,794.5 614.7,798 617.1,780.1 619.4,771.8 621.8,770.8 624.1,781.9 626.5,801.1 628.8,816.2 631.2,816 633.5,837.5 635.9,856 638.2,873 640.6,859.1 643,847.3 645.3,823.7 647.7,810.4 650,802.8 652.4,791 654.7,801.1 657.1,792.6 659.4,803.9 661.8,794.2 664.1,792.3 666.5,793.1 668.8,784.1 671.2,775.8 673.5,776.1 675.9,758.9 678.2,759.6 680.6,759.7 682.9,757 685.3,762.1 687.6,773.9 690,772.3 692.3,768.9 694.7,771.1 697,775.5 699.4,783.9 701.8,781.3 704.1,793.1 706.5,790.8 708.8,790.5 711.2,796 713.5,805.4 715.9,794.7 718.2,790.2 720.6,788.2 722.9,783.8 725.3,789.6 727.6,781.3 730,771.3 732.3,760.7 734.7,752.7 737,748.2 739.4,763.1 741.7,768.9 744.1,769.4 746.4,787.3 748.8,790.3 751.1,812.5 753.5,823.5 755.8,833.4 758.2,859.1 760.6,864.4 762.9,845.4 765.3,823.9 767.6,817.7 770,803.4 772.3,800.4 774.7,783.1 777,790.7 779.4,769.7 781.7,769.2 784.1,768 786.4,760 788.8,753.6 791.1,760 793.5,761.1 795.8,749.5 798.2,753.5 800.5,766.1 802.9,763.3 805.2,775.1 807.6,789.7 809.9,794.5 812.3,797.8 814.6,795.5 817,803.2 819.4,810.5 821.7,808.4 824.1,792.9 826.4,803.4 828.8,809.5 831.1,810.4 833.5,828.8 835.8,836.2 838.2,852.4 840.5,852.8 842.9,867.5 845.2,868.5 847.6,854.2 849.9,820 852.3,797.9 854.6,775.3 857,777.4 859.3,769.6 861.7,759.4 864,758.6 866.4,741.2 868.7,752.8 871.1,753.9 873.4,741.1 875.8,746.1 878.2,745.5 880.5,759.3 882.9,766 885.2,763.5 887.6,772.1 889.9,768 892.3,775.9 894.6,769.7 897,781.5 899.3,771 901.7,762.4 904,763.2 906.4,773.8 908.7,779.2 911.1,781 913.4,778.2 915.8,797 918.1,792 920.5,777.6 922.8,778.9 925.2,780.8 927.5,766.4 929.9,764.7 932.2,768 934.6,776.7 937,780.1 939.3,769.1 941.7,780.9 944,773.7 946.4,768.7 948.7,757.2 951.1,758.8 953.4,757.1 955.8,766.6 958.1,763.9 960.5,758.6 962.8,762.1 965.2,759.1 967.5,754.1 969.9,756.7 972.2,762.7 974.6,767.6 976.9,764.5 979.3,766.6 981.6,771.9 984,773.1 986.3,771.3 988.7,772.9 991,761.4 993.4,764.8 995.8,757.4 998.1,772.7 1000.5,780.9 1002.8,791.7 1005.2,796.3 1007.5,798.8 1009.9,805.5 1012.2,792.5 1014.6,784.6 1016.9,777.6 1019.3,774.1 1021.6,780.4 1024,787.1 1026.3,785.7 1028.7,794.9 1031,790.3 1033.4,799.3 1035.7,802.3 1038.1,811.9 1040.4,842.7 1042.8,879.6 1045.1,879.6 1047.5,837.2 1049.8,804.8 1052.2,807.5 1054.6,809 1056.9,813.1 1059.3,816.1 1061.6,820.6" fill="none" stroke="#9e2a52" stroke-width="2.6" stroke-linejoin="round"/>
</g>
<rect x="170.2" y="213.3" width="891.6" height="839.5" fill="none" stroke="#8c8c8c" stroke-width="4.5"/>
<rect x="163.2" y="959.7" width="6" height="3" fill="#333"/>
<text class="t b" x="137.1" y="970.2" font-size="25" fill="#333" stroke="#333" textLength="23.1" lengthAdjust="spacingAndGlyphs">0.6</text>
<rect x="163.2" y="868.1" width="6" height="3" fill="#333"/>
<text class="t b" x="137.1" y="878.6" font-size="25" fill="#333" stroke="#333" textLength="23.1" lengthAdjust="spacingAndGlyphs">1.2</text>
<rect x="163.2" y="776.4" width="6" height="3" fill="#333"/>
<text class="t b" x="137.1" y="786.9" font-size="25" fill="#333" stroke="#333" textLength="23.1" lengthAdjust="spacingAndGlyphs">1.8</text>
<rect x="163.2" y="684.8" width="6" height="3" fill="#333"/>
<text class="t b" x="137.1" y="695.3" font-size="25" fill="#333" stroke="#333" textLength="23.1" lengthAdjust="spacingAndGlyphs">2.4</text>
<rect x="163.2" y="593.2" width="6" height="3" fill="#333"/>
<text class="t b" x="137.1" y="603.7" font-size="25" fill="#333" stroke="#333" textLength="23.1" lengthAdjust="spacingAndGlyphs">3.0</text>
<rect x="163.2" y="501.6" width="6" height="3" fill="#333"/>
<text class="t b" x="137.1" y="512.1" font-size="25" fill="#333" stroke="#333" textLength="23.1" lengthAdjust="spacingAndGlyphs">3.6</text>
<rect x="163.2" y="410" width="6" height="3" fill="#333"/>
<text class="t b" x="137.1" y="420.5" font-size="25" fill="#333" stroke="#333" textLength="23.1" lengthAdjust="spacingAndGlyphs">4.2</text>
<rect x="163.2" y="318.3" width="6" height="3" fill="#333"/>
<text class="t b" x="137.1" y="328.8" font-size="25" fill="#333" stroke="#333" textLength="23.1" lengthAdjust="spacingAndGlyphs">4.8</text>
<rect x="163.2" y="226.7" width="6" height="3" fill="#333"/>
<text class="t b" x="137.1" y="237.2" font-size="25" fill="#333" stroke="#333" textLength="23.1" lengthAdjust="spacingAndGlyphs">5.4</text>
<rect x="1062.8" y="955.9" width="6" height="3" fill="#333"/>
<text class="t b" x="1072.8" y="966.4" font-size="25" fill="#a0335c" stroke="#a0335c" textLength="32.3" lengthAdjust="spacingAndGlyphs">0.25</text>
<rect x="1062.8" y="860.5" width="6" height="3" fill="#333"/>
<text class="t b" x="1072.8" y="871" font-size="25" fill="#a0335c" stroke="#a0335c" textLength="32.3" lengthAdjust="spacingAndGlyphs">0.50</text>
<rect x="1062.8" y="765.1" width="6" height="3" fill="#333"/>
<text class="t b" x="1072.8" y="775.6" font-size="25" fill="#a0335c" stroke="#a0335c" textLength="32.3" lengthAdjust="spacingAndGlyphs">0.75</text>
<rect x="1062.8" y="669.7" width="6" height="3" fill="#333"/>
<text class="t b" x="1072.8" y="680.2" font-size="25" fill="#a0335c" stroke="#a0335c" textLength="32.3" lengthAdjust="spacingAndGlyphs">1.00</text>
<rect x="1062.8" y="574.3" width="6" height="3" fill="#333"/>
<text class="t b" x="1072.8" y="584.8" font-size="25" fill="#a0335c" stroke="#a0335c" textLength="32.3" lengthAdjust="spacingAndGlyphs">1.25</text>
<rect x="1062.8" y="478.9" width="6" height="3" fill="#333"/>
<text class="t b" x="1072.8" y="489.4" font-size="25" fill="#a0335c" stroke="#a0335c" textLength="32.3" lengthAdjust="spacingAndGlyphs">1.50</text>
<rect x="1062.8" y="383.5" width="6" height="3" fill="#333"/>
<text class="t b" x="1072.8" y="394" font-size="25" fill="#a0335c" stroke="#a0335c" textLength="32.3" lengthAdjust="spacingAndGlyphs">1.75</text>
<rect x="1062.8" y="288.1" width="6" height="3" fill="#333"/>
<text class="t b" x="1072.8" y="298.6" font-size="25" fill="#a0335c" stroke="#a0335c" textLength="32.3" lengthAdjust="spacingAndGlyphs">2.00</text>
<rect x="168.7" y="1053.8" width="3" height="6" fill="#333"/>
<text class="t b" x="165.6" y="1085.8" font-size="25" fill="#333" stroke="#333" textLength="9.2" lengthAdjust="spacingAndGlyphs">0</text>
<rect x="286.3" y="1053.8" width="3" height="6" fill="#333"/>
<text class="t b" x="278.6" y="1085.8" font-size="25" fill="#333" stroke="#333" textLength="18.4" lengthAdjust="spacingAndGlyphs">50</text>
<rect x="403.9" y="1053.8" width="3" height="6" fill="#333"/>
<text class="t b" x="391.6" y="1085.8" font-size="25" fill="#333" stroke="#333" textLength="27.7" lengthAdjust="spacingAndGlyphs">100</text>
<rect x="521.5" y="1053.8" width="3" height="6" fill="#333"/>
<text class="t b" x="509.2" y="1085.8" font-size="25" fill="#333" stroke="#333" textLength="27.7" lengthAdjust="spacingAndGlyphs">150</text>
<rect x="639.1" y="1053.8" width="3" height="6" fill="#333"/>
<text class="t b" x="626.8" y="1085.8" font-size="25" fill="#333" stroke="#333" textLength="27.7" lengthAdjust="spacingAndGlyphs">200</text>
<rect x="756.7" y="1053.8" width="3" height="6" fill="#333"/>
<text class="t b" x="744.4" y="1085.8" font-size="25" fill="#333" stroke="#333" textLength="27.7" lengthAdjust="spacingAndGlyphs">250</text>
<rect x="874.3" y="1053.8" width="3" height="6" fill="#333"/>
<text class="t b" x="862" y="1085.8" font-size="25" fill="#333" stroke="#333" textLength="27.7" lengthAdjust="spacingAndGlyphs">300</text>
<rect x="991.9" y="1053.8" width="3" height="6" fill="#333"/>
<text class="t b" x="979.6" y="1085.8" font-size="25" fill="#333" stroke="#333" textLength="27.7" lengthAdjust="spacingAndGlyphs">350</text>
<text class="t b" x="531" y="1125.8" font-size="36" fill="#333" stroke="#333" textLength="170" lengthAdjust="spacingAndGlyphs">Residue Index</text>
<text class="t b" font-size="23" fill="#333" stroke="#333" textLength="162" lengthAdjust="spacingAndGlyphs" transform="translate(126.2,633) rotate(-90)" x="-81" y="0">RMSF (Å)</text>
<g>
<text class="t b" font-size="26" fill="#a0335c" stroke="#a0335c" textLength="144" lengthAdjust="spacingAndGlyphs" transform="translate(1117.5,635) rotate(90)" x="-72" y="0">B factor</text>
</g>
<text class="s" x="221.8" y="298" font-size="89" textLength="61.5" lengthAdjust="spacingAndGlyphs" fill="#000">A</text>
<clipPath id="clipB"><rect x="1221" y="210.5" width="902.4" height="845.1"/></clipPath>
<g clip-path="url(#clipB)">
<rect x="1236.2" y="210.5" width="13.1" height="845.1" fill="#c5eaf4"/>
<rect x="1273.9" y="210.5" width="23.7" height="845.1" fill="#fad5cb"/>
<rect x="1355.8" y="210.5" width="15.4" height="845.1" fill="#c5eaf4"/>
<rect x="1395" y="210.5" width="19.7" height="845.1" fill="#fad5cb"/>
<rect x="1429.4" y="210.5" width="10" height="845.1" fill="#c5eaf4"/>
<rect x="1452.5" y="210.5" width="17.8" height="845.1" fill="#fad5cb"/>
<rect x="1486.9" y="210.5" width="6.4" height="845.1" fill="#dcf3f9"/>
<rect x="1525.3" y="210.5" width="5.7" height="845.1" fill="#dcf3f9"/>
<rect x="1542.7" y="210.5" width="26.8" height="845.1" fill="#fad5cb"/>
<rect x="1601.8" y="210.5" width="10.9" height="845.1" fill="#c5eaf4"/>
<rect x="1630.5" y="210.5" width="32" height="845.1" fill="#fad5cb"/>
<rect x="1681.1" y="210.5" width="5.7" height="845.1" fill="#c5eaf4"/>
<rect x="1703.9" y="210.5" width="16.4" height="845.1" fill="#fad5cb"/>
<rect x="1733.3" y="210.5" width="9" height="845.1" fill="#c5eaf4"/>
<rect x="1755.4" y="210.5" width="12.3" height="845.1" fill="#fad5cb"/>
<rect x="1789.6" y="210.5" width="12.6" height="845.1" fill="#c5eaf4"/>
<rect x="1850.1" y="210.5" width="13.5" height="845.1" fill="#c5eaf4"/>
<rect x="1877.2" y="210.5" width="11.6" height="845.1" fill="#fad5cb"/>
<rect x="1917.5" y="210.5" width="44.9" height="845.1" fill="#fad5cb"/>
<rect x="1978.5" y="210.5" width="8.1" height="845.1" fill="#fad5cb"/>
<rect x="2002.8" y="210.5" width="7.4" height="845.1" fill="#dcf3f9"/>
<rect x="2022.7" y="210.5" width="7.1" height="845.1" fill="#c5eaf4"/>
<rect x="2051.2" y="210.5" width="11.9" height="845.1" fill="#c5eaf4"/>
<rect x="2082.8" y="210.5" width="10.7" height="845.1" fill="#c5eaf4"/>
<rect x="1253.4" y="468.8" width="6" height="586.8" fill="#8cc78c" opacity="0.8"/>
<rect x="1255.6" y="499.4" width="6" height="556.2" fill="#0b660b"/>
<rect x="1259.6" y="593.1" width="5" height="462.5" fill="#1f7a1f"/>
<rect x="1446.3" y="346.7" width="4" height="708.9" fill="#66a666"/>
<rect x="1445.8" y="763.2" width="5" height="292.4" fill="#1f7a1f"/>
<rect x="1498.7" y="623.7" width="4" height="431.9" fill="#66a666"/>
<rect x="1496" y="684.7" width="5" height="370.9" fill="#1f7a1f"/>
<rect x="1608.9" y="283.5" width="4" height="772.1" fill="#66a666"/>
<rect x="1617.7" y="211" width="4" height="844.6" fill="#66a666"/>
<rect x="1620.2" y="462.3" width="6" height="593.3" fill="#0b660b"/>
<rect x="1624.2" y="300.9" width="4" height="754.7" fill="#66a666"/>
<rect x="1632.9" y="420.9" width="4" height="634.7" fill="#66a666"/>
<rect x="1634.6" y="763.2" width="5" height="292.4" fill="#1f7a1f"/>
<rect x="1750.7" y="407.8" width="4" height="647.8" fill="#66a666"/>
<rect x="1809.1" y="497.2" width="5" height="558.4" fill="#1f7a1f"/>
<rect x="1811.7" y="211" width="4" height="844.6" fill="#66a666"/>
<rect x="1804.2" y="610.6" width="6" height="445" fill="#0b660b"/>
<rect x="1799.8" y="649.8" width="6" height="405.8" fill="#8cc78c" opacity="0.8"/>
<rect x="1901.4" y="211" width="6" height="844.6" fill="#0b660b"/>
<rect x="1907.1" y="758.9" width="6" height="296.7" fill="#8cc78c" opacity="0.8"/>
<polyline points="1221.5,501.7 1221.2,505.6 1222.9,565.8 1226.2,792.8 1227.3,913.9 1227.4,921 1230.2,844 1232.1,833.7 1232.7,830.3 1234.8,902.5 1237.5,908.7 1240,962.9 1241,982.8 1243.1,969.2 1245.5,917.1 1247,894.6 1249.4,839.1 1250.1,837.7 1252.1,848.3 1254,878.5 1254.9,879.6 1256.5,888.8 1258.3,873 1262.1,898 1262.3,903.2 1263.2,906.5 1266.8,851.9 1268.2,845 1270.4,792 1271.5,790.2 1273.4,800.8 1276.3,863.3 1277.5,880.7 1279.9,922.4 1280.8,920.3 1282.8,923.3 1285.1,886.6 1287.2,877.8 1289.7,847.3 1291.8,848.6 1291.8,851.7 1295.1,889.8 1296.2,889.5 1299.4,930.2 1299.8,919.8 1301.6,896.1 1303.4,811.1 1307.2,808.7 1308.4,736.9 1308.2,751.3 1311.7,754.4 1313.7,793.6 1315.3,799.5 1316,798.3 1319.1,764 1321.2,750.6 1321.8,720.5 1323.8,731.6 1325,742.8 1328.5,779.3 1328.9,774 1329.6,747.9 1332.5,664.1 1332.4,661.2 1335.7,646 1336.8,631.2 1340.4,596.8 1341.8,581.2 1341.4,559.7 1345.2,550.7 1346,423.2 1346.7,413.7 1348.9,513.1 1350.7,570.3 1351.6,622.4 1354.4,822.4 1354.2,855.6 1357,886.6 1358.9,873.9 1361.3,961.8 1360.8,956 1362.9,945.9 1365.6,854.2 1368,837.4 1368.7,839.7 1371.3,881.3 1372.1,896.7 1372.3,898.2 1374.7,856.3 1377.9,860.2 1378.9,842.9 1379.8,843 1383,825.9 1384.6,829.9 1387.2,813.6 1388,813.2 1390,906.2 1389.9,902.6 1391.7,790.4 1393.6,756.7 1394.2,761.2 1397.1,772.3 1399.6,757.5 1401.6,765 1402.9,761.5 1403.9,778.2 1406.5,747.2 1409.3,750 1410.5,735.7 1412.9,743.2 1415.7,719 1415.1,734.8 1417.4,684.7 1417.3,709.6 1421.1,715.9 1422.5,782.7 1424.3,805 1424.7,821 1427,822.7 1430.1,881.1 1432,895.9 1434.8,930.3 1436.3,921.8 1436.7,963 1439.7,957.5 1442.5,960.9 1444.3,944.1 1445.5,959.7 1447,921.3 1448.9,946.6 1452,900.4 1453.8,927.4 1456.4,904 1458.4,905.4 1459,893.9 1460.9,883 1463.8,837.9 1466.1,822.6 1465.1,813.4 1468,849.6 1470.2,876.5 1472.5,907.1 1472.3,873.4 1473.9,748.5 1475.4,749.8 1477.4,832.7 1479.3,839.1 1481.7,932.4 1484.8,938.8 1485.9,980.1 1487.4,942.7 1489.5,956.6 1491.5,923.4 1493.5,917.2 1493.4,918.3 1496.7,841.7 1497.9,771.5 1498.5,795.6 1500.5,801.4 1503.2,868.4 1505.6,877.5 1507.8,925.6 1509,914.3 1510,975.5 1509.9,972.6 1512.8,865.6 1513.7,800 1515,801.5 1515.9,800.4 1517.7,884 1520.8,870.8 1523.2,971.7 1524,971.8 1524.1,968.6 1526.9,929.4 1529.4,946.8 1529.6,935.5 1531.6,929.1 1534,895.5 1537,915.2 1537.6,918 1539.5,855.2 1540.4,766 1540.7,782.8 1544.3,785.4 1546.6,850.7 1548.9,871.8 1549.3,905.4 1551.2,820.2 1551.8,775.4 1553.6,784 1556.4,838 1558.7,854 1560.2,907 1561.2,897.9 1562.3,856.9 1565,764 1566.7,734.4 1567.6,725.6 1570.1,808.9 1571.4,817.1 1572.8,815.7 1574.6,692.3 1576.4,656.1 1576.5,637.8 1579.4,627.8 1581.3,541.9 1582.2,532.1 1583.5,580.7 1587.2,714.6 1588.8,758.7 1588.6,785.1 1591.6,744.3 1593.7,720.6 1593,717.3 1596.2,795.9 1598.3,818.3 1601.3,888.3 1602.2,898.2 1603.9,917 1605.1,928.6 1606.7,967.8 1607.5,939.3 1610.9,944.8 1612.4,931.1 1614.6,923.3 1615.9,913.6 1616.9,877.2 1619.3,789.4 1619.3,805.6 1621.9,821.6 1625.2,888.5 1626.4,884.8 1629.1,920.3 1629.7,888.3 1631.1,914 1634.5,900.1 1635.7,900 1637.7,899.6 1639.1,871.9 1641.3,805.4 1643.5,772 1643.9,754.3 1646.5,811.3 1648.2,818.3 1649.7,872.4 1650.3,868.7 1653.8,865.7 1656,839.7 1658.1,836.3 1659.2,821.8 1659.9,815.3 1662.6,786 1664.7,782 1664.9,767.8 1667.3,786.6 1670,770.9 1671.8,780.9 1671.7,781.2 1674,849.6 1676.6,852.4 1679.9,940.4 1681.1,945.7 1681.4,941.2 1684.2,867.8 1686.4,892 1687.6,875.4 1689.1,806.4 1691.6,496.6 1691.6,485.2 1692.7,491.1 1695.4,515.6 1696.3,492.8 1698.4,825.8 1699.9,744.9 1702.4,742.2 1705,699.3 1705.1,715.7 1707.6,759.1 1707.9,762.8 1709.7,726.7 1712.5,732.1 1712.7,710.4 1714.8,747.9 1717.3,767.1 1719.8,831.5 1720.5,830.2 1721.4,810.3 1724.7,732.6 1724.6,736.4 1725.9,737.9 1728.9,755 1731.2,747.7 1732,805.6 1732.8,875 1734.1,890 1735.5,904.4 1739.2,972.4 1739.7,985.3 1740.2,987.2 1743.1,965 1745.4,981 1747.4,963.1 1751.1,968.7 1752.9,953.4 1753.1,958.1 1755.5,898.2 1757,886.9 1758.4,856 1759.2,873.7 1762.8,874.1 1764.5,933.9 1766.1,935.2 1766.6,922.2 1770.1,849.2 1769.7,837.6 1771.9,841.1 1773.4,890 1777.3,908.8 1776.4,924.5 1779,879.9 1781.3,889.2 1783.4,820.4 1785.4,812.1 1785.4,825.3 1787.7,924.8 1791,945.5 1791.2,991.1 1792.7,948.5 1795.5,976.1 1797.9,927.1 1800.1,955.2 1803.3,912.8 1802.3,934.8 1805.4,900 1807,878.6 1809.2,798.6 1812.9,801.6 1813.8,751.4 1816.5,897 1816.4,874.5 1819.9,879.2 1821.2,828.4 1824.1,819.2 1823.8,817.4 1825.9,842.7 1828.3,854.9 1829.3,852.5 1830.7,851.4 1832.7,866.1 1835.7,847.6 1836.9,879.5 1838.1,823.2 1841.1,815.8 1843.4,739 1844.1,743.7 1845.5,764.8 1847.6,874.4 1850.7,917 1851.3,980.6 1852.5,958.1 1854.3,964.4 1856.8,932.6 1859.4,933.6 1862.5,899.5 1862.8,906.9 1865.1,888.1 1866.1,885.1 1866.7,872.3 1869.8,863 1871.2,786.4 1874.6,761.1 1873.2,750 1876.6,781.7 1878.5,775.9 1880,789.7 1880.4,774.8 1883.7,756.1 1885.8,682.4 1888.3,671.1 1889.6,643.2 1890.2,670.1 1892.5,640.5 1893.4,640.2 1895,660.5 1896.9,693 1900.5,700.9 1901.5,720.8 1901.9,719.2 1904.1,821.4 1906,876 1907.3,876.7 1909.2,875.2 1912.6,904.4 1914.9,896 1917.3,923.2 1918.9,928.3 1919.4,941.8 1921.2,933.9 1924.1,950.1 1925.9,936.1 1928.6,954.6 1930.5,937 1933.5,954 1932.5,946.1 1934.7,914.6 1935.3,916 1937.8,940.3 1940.5,946.8 1941.6,974.5 1943.4,933.3 1945.4,879.6 1945.7,852.1 1947.7,870.4 1949.7,874.6 1952.2,904.7 1955.2,918.7 1954.1,922.5 1956.6,883.3 1959.7,869.3 1961.7,848 1961.8,856.6 1964.3,839.3 1966.5,826.3 1968.3,811.3 1969.2,809.7 1971.1,811.2 1973.3,840.2 1975.6,821.1 1978.4,850.5 1978.8,837.5 1981.1,915.1 1980,916.6 1983.3,904.1 1985.1,873.1 1988,864.2 1989.4,939.4 1989.7,945 1993.1,923.8 1994.9,934.1 1997.4,916.2 1998.8,926.6 1999.6,898.7 2002.5,892.6 2003.7,841.8 2007.2,850.8 2007.7,825.6 2009.5,842.2 2012,826.8 2013.9,845 2015.1,828.5 2016,834.5 2019.4,857.5 2021.7,884.4 2022.7,878.7 2024.2,900 2026.1,877 2028.3,864.4 2029.3,852.3 2031.1,886.7 2033.2,895.8 2034.9,943.9 2037.8,955 2038.4,953.5 2040,937.7 2042.2,944.4 2045.2,917.9 2047.4,924.3 2048.1,921.5 2049.8,919 2052.6,871.4 2052.9,869.1 2054.1,899.9 2056.6,983.8 2057.7,978.3 2059.7,947.7 2061.1,902.6 2064.1,885.9 2063.5,876 2065.5,830.6 2068.1,778.5 2068.8,793.2 2071.5,762.7 2072.7,762.4 2075.7,747.1 2077.3,745.6 2078,792 2080,914.2 2080.3,914.4 2082.6,928 2085.6,913.1 2087.2,944.2 2089.6,943.6 2089.3,952.6 2092.7,929.4 2095.3,929.1 2097.4,887.8 2098.2,899.5 2099.2,824.2 2101.4,770.9 2102,758.6 2104.1,773.1 2106,723.6 2109.5,745.1 2109.4,708.5 2111.7,872.6 2111.3,872.5 2113.7,856.4 2116.6,818.2 2117.8,792.1 2119,788 2119.9,756.5 2120.9,730.4 2122.7,635.4 2123,626.8" fill="none" stroke="#4a6f8f" stroke-width="2.6" stroke-linejoin="round"/>
<polyline points="1221.3,480.3 1221.5,475.8 1223.1,549 1225.6,779.2 1228.2,908 1228.3,911.8 1230.6,840.6 1231.8,821.8 1232.5,825.9 1234.5,893.7 1237.2,899.9 1239.8,961.2 1241.2,976.6 1242,963.6 1244.5,912.4 1246.7,887.8 1249.8,833.3 1250.1,828.5 1251.3,837.9 1254.3,875.9 1254.4,864.3 1255.8,883.9 1258.2,869.5 1262,897.3 1263.3,891.1 1264.2,896.5 1265.7,842.5 1268.3,831.2 1270.9,780.8 1271.9,777.4 1273.3,794.5 1275.5,860.6 1277.8,869.6 1279.6,927.2 1280.9,916.8 1283,913 1284.7,878.7 1287,870 1289.7,844.8 1291.2,842.9 1292.2,843.3 1294.8,885.2 1297.2,885.4 1299.8,921.1 1299.3,920.9 1302.5,892.2 1303.7,797.7 1306.5,794 1308.7,726.7 1308.1,737.8 1311.2,739.7 1314.3,779.7 1315.7,792.2 1315.3,795.7 1319,747.2 1321.5,740.5 1322,702.6 1322.3,717.7 1325.6,727.1 1328.2,769.2 1328.1,760 1329.9,730.8 1332.4,644.6 1333.5,647.5 1335.7,623.5 1337.4,615.7 1339.9,574 1340.8,553.5 1342.5,533.8 1344.4,520.3 1346.1,391.7 1347.6,384.7 1350,489.1 1350.5,551.1 1351.6,602.2 1354.5,823.6 1355.1,852.2 1357,881.2 1358.9,866.2 1361.5,951.1 1361.1,952.9 1363.2,944.8 1365.3,848.5 1367.1,825.3 1367.7,837.8 1370.8,880.1 1372.3,897.3 1373.3,891.8 1375.8,846.8 1377,846.3 1378.1,834.3 1380.4,834 1382.3,819.7 1385.6,816.8 1387.4,803.7 1387.9,806.6 1390.2,893.2 1389.1,905 1392.6,784.5 1394.6,743.4 1394,743.1 1397.3,758.1 1398.9,750.9 1400.7,757.4 1403,750.3 1404.6,767.2 1406.8,739.2 1408.7,741.9 1411.4,717.5 1413.2,723.8 1415.9,701.2 1416,720.1 1417.4,665.1 1418.8,701.6 1420.1,699.7 1422.9,772.3 1424.8,799.2 1424.4,815.1 1427.4,817.1 1430.4,867.7 1432.1,890.2 1435.1,932.9 1436.9,914.4 1437.1,960.6 1440.1,947.7 1441.4,955.6 1444.8,945.7 1445.4,956.8 1446,920.1 1449,946.9 1451.1,890.1 1453.2,921 1455.6,892.4 1458.6,898.8 1459.1,890.3 1460.6,877.9 1462.9,821.2 1465.1,812.1 1465.7,797.1 1468.1,838.2 1470.4,864.8 1473,904.5 1472.7,861.9 1474.1,739.2 1474.8,735.2 1477,825.5 1479.7,832.8 1481.5,921.8 1485,932.9 1485,977 1487.7,940 1489.7,956.4 1491.4,911.1 1494.6,911.6 1494.7,910.1 1496.1,840.4 1498.7,760.1 1499.2,775.2 1500.5,783.6 1504,868.4 1505.8,875.5 1507.5,917.7 1507.6,910.9 1510,980.9 1511.3,968.1 1513.6,859.3 1513.4,786.2 1515.1,786.9 1515.1,791 1517.5,878.2 1519.9,864.5 1523.3,975.2 1523.8,966.4 1524.8,964.1 1527.2,918.9 1529,942.6 1530.4,934.4 1532,934.6 1535.1,889.9 1536.3,917 1536.2,906.2 1539.1,850.1 1540.7,756 1541.6,774.1 1543.3,767.4 1545.8,842.5 1548.1,865.9 1549.8,902.2 1550.9,813.1 1552.9,766.5 1554.1,767.6 1556.1,828.7 1558.3,844.1 1559.7,895.8 1561.3,889.9 1563.2,856.7 1565.3,748.6 1566.5,717.7 1568.1,717.7 1570.4,798.1 1572.1,808.3 1572.7,809.7 1575.1,677.3 1575.3,640 1576.9,613.6 1579.2,605.2 1582.6,525.4 1582.6,504.3 1584,554.3 1586.1,708.7 1589.2,754 1588.5,780.5 1591,736.1 1592.9,703.3 1593.3,701.4 1595.3,780.9 1599.2,807.8 1601.6,890.6 1601.8,895.9 1603.5,913.1 1605.6,920.3 1606,955.3 1607.2,932.8 1610.6,944 1612.5,924.1 1615.8,912.2 1615.8,906.6 1617.5,861.8 1619.6,769 1619.1,800.9 1622.6,808.2 1624.2,888.4 1627,883.4 1628.8,917.9 1630.1,885.5 1632.2,915.5 1633.5,898 1636.6,903.6 1636.5,896.8 1638.2,866.9 1641.3,788.6 1643.7,755.7 1644.2,742.9 1645.7,794.8 1648.6,805.4 1650.3,865 1650.6,863.1 1653.1,856.7 1654.7,830.9 1658.5,829.6 1658.4,822.9 1660.3,807.6 1661.9,774.6 1665.6,769.2 1665.8,753.4 1667,767.5 1669.7,759.3 1672.3,768.2 1671.5,769.5 1674.8,845.6 1677.4,837.5 1679.9,943.1 1680.7,948.1 1682.3,939.8 1684.4,866.5 1686.5,879.9 1687.7,873.5 1688.4,802.4 1690.8,467.4 1691.3,460.9 1692.9,465.6 1695.6,485 1696.3,462.2 1698.2,817.1 1700.4,732.7 1702.5,725.6 1704.6,687.5 1705.7,708.2 1707.2,744.8 1708.3,755.1 1710.2,717.6 1711.7,716.5 1713,702.7 1714.9,740.4 1717.7,754.6 1718.8,819.6 1720.7,827.4 1721.5,801.5 1724.9,721.2 1724.1,722.6 1727.3,720.1 1729.4,743.2 1730.8,737.7 1730.8,792.3 1733.6,865.8 1733.3,886 1736.9,899 1738,968.5 1739.8,980.9 1741.2,989.1 1742.9,963.1 1746.2,978.8 1748.4,956.6 1750.9,958.7 1752.2,948.8 1753,953.4 1755.4,893.9 1757.7,880.2 1758.9,843.1 1760.6,863.8 1762.8,861.9 1765,931.6 1766.3,933.1 1767,909.9 1769.2,839.4 1769.5,826.4 1772.3,832.7 1773.7,888.2 1776.2,902.9 1776.4,917.9 1779.4,865.8 1781.1,881 1784.3,801.3 1784.7,802.9 1785.4,807.2 1788.9,910.3 1790.2,945.4 1792.2,986.2 1792.8,949.5 1795.6,971.2 1797.6,922.8 1800.5,952.7 1802.6,905.4 1802.4,929.5 1804.2,893.6 1807.5,868 1810.2,792.5 1812.6,792.1 1815,740.2 1815.6,886.8 1817.2,874.8 1819.3,873.3 1821.4,820.7 1823.1,807.4 1823.4,805 1826.5,840.7 1828.1,846.8 1828.6,852 1830.7,841.8 1832.7,863 1835.2,846.2 1836.3,864.7 1838.4,811.3 1840.6,805.8 1842.5,727.6 1843.5,732.9 1844.7,749.2 1848,866.3 1850.7,907.7 1851.8,980 1853.2,958.4 1855.2,962.4 1856.5,932.3 1859.5,924.6 1862,898.1 1863.7,906.4 1863.9,886 1866.4,881.4 1867.3,866.2 1869.5,851.4 1871.9,774.5 1874.4,750.4 1873.2,737.6 1875.8,768.1 1879,769.7 1880.1,788.2 1881.4,764.1 1882.6,744.3 1885.8,669.4 1888.2,653.4 1888.9,624.3 1890.6,654.5 1892.8,627.6 1893.5,628.9 1894.5,638.8 1898,676.6 1900.2,681 1902.5,709.9 1903.1,704.2 1904.1,811.4 1906.5,870.4 1907.5,871.5 1909.7,864.3 1911.5,902.1 1914.5,888.8 1917.4,922 1919.5,925.9 1920,937.6 1921.1,927.2 1924.5,946.4 1926.1,932.1 1928.9,949.5 1931.1,943 1933.4,950.7 1933.1,940.6 1935.4,912.6 1935.1,904.5 1938.3,943.3 1939.5,948.4 1941.7,967.5 1942.3,932.2 1944.3,876.5 1946.1,844.2 1947.6,862.5 1949.6,869.5 1952.6,898.7 1954.2,908.7 1953.9,913.7 1957.3,881.9 1958.6,866.6 1961,846.2 1961.3,847.8 1964.4,828.3 1965.9,813.7 1968.3,800 1969.1,802 1971.8,803.8 1974.2,824.3 1975.8,820.5 1978.2,842.3 1978.8,820.9 1980.5,916.2 1981.3,908.7 1982.5,907.5 1985.4,865.9 1987.1,857.4 1990,937.7 1989.6,940.5 1993,914.2 1994.8,930.8 1996.8,911.3 1997.8,925.3 1999.6,895.5 2001.8,886.6 2003.8,841.4 2006.6,842.6 2006.6,821.9 2008.9,836.7 2011.1,821.4 2014.4,834.2 2015.6,817.6 2016.6,826.3 2019.3,848.1 2021.6,872.6 2023.8,881.2 2023.9,889 2025.6,871.9 2027.4,858.2 2029.3,843.9 2029.8,876.2 2032.4,883.6 2035,934.8 2037.9,949.4 2038.2,955.8 2039.7,934.6 2042,938.8 2044.7,917.1 2046.4,925.5 2048.1,919.2 2050.1,916.3 2051.6,861.8 2053.2,864.3 2054.8,890.4 2057.2,979.4 2056.8,977.8 2058.4,944 2062.2,897.5 2063.2,879.7 2064.3,870.3 2066,824.4 2068.3,762.9 2068.9,778.8 2071.5,751.7 2073.6,755.9 2075.9,738.4 2076.7,732.1 2077.5,781.4 2080,912.8 2081.7,907 2082.6,917 2085,906.2 2087.6,940.9 2089.9,945.5 2090.2,942.8 2092,924.9 2094.8,919.3 2097.4,881.7 2098.5,891.3 2099.8,816 2100.9,754.2 2102.1,751 2103.6,762.1 2106.1,713.5 2108.3,727.1 2108.8,695.7 2110.7,870.2 2111.3,869.6 2113.2,843.7 2115.4,810.3 2118,789.5 2117.8,782.8 2120.6,749 2120.9,715.8 2122.5,614.4 2123.6,612.5" fill="none" stroke="#4e7b2e" stroke-width="2.6" stroke-linejoin="round"/>
<polyline points="1221.6,290.2 1222.1,292.8 1224.4,392.2 1226.8,720 1228.4,906 1228.7,911.1 1230.9,801.2 1233,774.5 1233.2,776.8 1235.7,869.8 1238.4,865.7 1240.4,949.7 1242.1,972.7 1242.9,962.1 1245.5,891.9 1248,861.6 1249.7,792.2 1250.3,795.1 1252.6,807.8 1255,863 1255.4,861.7 1257.7,869.7 1260,854.9 1261.7,884.8 1264,883.6 1264.8,886.4 1267.1,812.9 1268.7,799.8 1271.6,714.3 1272.2,718.5 1273.4,740.3 1276.7,831.5 1278.7,845.4 1281.1,916.9 1281.4,912.1 1283.3,908.2 1286.2,857.1 1288,851.8 1291,798.4 1291.6,803.9 1293.3,802.9 1295.2,865.2 1297.9,863.9 1299.9,914.5 1300.4,913.3 1302.3,877.6 1304.9,760.3 1307.1,757 1309.2,659.9 1310,679.9 1311.6,692.8 1314.6,752.4 1315.6,777.2 1316.7,777.2 1319,721.6 1321.2,709.7 1322.1,663.8 1323.4,683.3 1326.4,696.3 1329,753 1329.5,743.9 1330.6,703.3 1333.1,585.1 1333,586 1335.7,544.5 1337.6,525.9 1340.1,468.3 1342.2,438.5 1343.2,414.3 1345.3,393.5 1347.7,204.9 1347.8,199.3 1350,343.7 1350.5,414.5 1352.2,493.7 1354.9,797.1 1355.6,838.7 1357.3,873.7 1359.3,839.7 1361.3,950.5 1361.5,945.4 1364.6,934.6 1366,802.4 1368.8,779 1368.9,789.5 1371.6,855.2 1373,888.7 1373.3,882.8 1375.6,821.5 1378,823 1379.1,795.9 1380.4,802.9 1383.1,777.4 1385.5,777.5 1387.5,760.1 1387.9,760.4 1390.6,890.8 1390,897.4 1392.5,728.9 1394.1,676.6 1395.1,675.8 1396.9,700.1 1399.3,681.9 1402.3,697.4 1403.2,692.6 1404.7,716 1406.6,680.8 1409,685.7 1412,655.2 1414,671 1416.6,643.2 1416.2,662.6 1418.1,590.9 1419,636.3 1421.1,651 1423.4,743.9 1425.3,786.8 1426,798.6 1428.2,791.3 1430.2,860.7 1433.3,872.4 1435.4,928.8 1438,890.3 1438,957.5 1440.3,943.4 1442.9,956.3 1445.4,936.5 1446.8,950 1446.8,903.4 1449.4,936.5 1451.5,873 1454.6,916.9 1457.1,887.3 1459.1,891.6 1460,878 1461.9,861 1464.2,791.8 1466.4,766.3 1466.1,752.5 1468.8,809.5 1471.2,840.1 1472.7,900.2 1473.5,838.2 1475.6,653.7 1475.4,649.9 1478.4,770.5 1480.1,782.4 1482.9,900.6 1485,906.4 1486.2,969.5 1488.1,930.2 1490.3,946 1491.9,905.2 1494.8,910.8 1494.8,902.6 1496.7,798.9 1499.4,693.8 1499.3,716.4 1502.1,725.2 1504.2,832.6 1506.5,845 1507.9,913.5 1508.7,901.8 1511.4,974.4 1511.5,969.3 1513.7,806.6 1514.2,705.2 1515.6,704.6 1516.3,708.5 1518,835.7 1520.9,809 1522.8,967.3 1524.1,960 1525.8,964.5 1528.3,908.6 1529.8,933.3 1530.8,923 1533.1,921.7 1535.1,864.4 1537.9,907 1537.9,899.3 1540.3,814.8 1542.2,679.7 1542.6,711.8 1544.3,712 1546.9,813.8 1549.8,843.7 1550.9,887.2 1551.3,767.8 1552.5,702.6 1553.8,707.8 1556.9,787.1 1558.3,818.2 1561.3,891.8 1561.5,881.6 1563.5,839.5 1566.1,697.1 1567.6,658.9 1568.6,647 1570.5,766.8 1572.7,801.5 1573,793.6 1575.6,612.9 1576.3,552.6 1578.1,526.5 1579.8,509.9 1582.6,401.2 1583,382.2 1584.7,445 1586.8,656.9 1589.3,726.2 1589.4,765.9 1592.4,698.6 1594.1,643.6 1594.7,642.9 1596.4,748.7 1598.9,777.8 1601.8,878.7 1603,884.8 1604.4,911.1 1606.3,910.5 1607.1,955.1 1608.5,926.4 1611.5,938.1 1613.4,915.4 1616.2,907.9 1615.6,902.1 1618.6,839.7 1620.4,709.9 1620.6,744.3 1623,755.6 1625.8,862.6 1628,857.4 1629.6,907.6 1629.6,864.2 1632,908.2 1634.9,887.7 1636.8,891 1638.3,883.4 1639.6,853.2 1642.2,743.1 1644.3,700.5 1643.9,676.6 1646.7,752.4 1648.6,771.1 1650.6,858.1 1651.5,855 1653.3,846.7 1656.3,817.6 1658.9,814.4 1659.2,806.5 1661.3,793 1663.4,732 1665.8,720.9 1666.4,703.4 1667.8,725.7 1670.6,705 1672.5,710.2 1672.3,708 1675.4,805.2 1677.9,803.2 1679.6,932.2 1681.4,934.5 1681.8,936.4 1685,842.9 1686.9,876.5 1687.6,861.2 1689.5,763.4 1691.3,302.5 1692.5,293.3 1694.4,297.5 1696.4,335.7 1696.4,306.1 1699.3,805.2 1701.2,697.9 1703.8,692.2 1705.5,637 1706.4,665.5 1707.6,726.4 1708.7,735.7 1710.8,675.6 1712.8,677 1713.8,649.3 1715.1,705 1717.7,718.7 1720.5,807.4 1721.2,816.8 1722.3,772.8 1725.4,653.6 1724.8,660.6 1727.3,664.6 1729.3,686.1 1731.6,680.5 1732.4,752.2 1733.4,861.2 1734.3,881.6 1736.4,889.5 1739.2,963.7 1740,982.1 1742,984.6 1744.4,952.5 1746,973.8 1748.4,952 1750.9,960.4 1753.4,946.6 1753.8,948.9 1755.5,863.5 1758.5,847.7 1760.3,794.3 1760.6,824 1763.2,831 1765.7,926.1 1766.5,922.3 1767.2,900.5 1770.4,799.7 1771,770.3 1772.7,782.1 1774.7,869.5 1777.6,885.4 1777.3,915.3 1779.3,842.5 1781.5,851.3 1784.1,736.9 1786.5,741 1786.9,741.4 1789.4,889.7 1791.7,921.1 1792.6,979 1793.9,932.9 1796.4,966.3 1798.9,907.4 1800.8,945.6 1803,887 1803.8,922 1805.6,867.1 1808.3,843.9 1810.5,729.2 1812.4,738.8 1815.5,666.7 1816.8,881 1817.1,858.3 1819.5,862.8 1822.3,788.7 1824.7,777.9 1825.2,771.9 1827.1,826.5 1829,834.8 1829,842 1831.4,834.8 1834.2,858.8 1836.4,825.6 1837.5,858.1 1839,776.1 1840.9,755.6 1843.4,646.1 1844.4,641.6 1846.3,668.4 1848.9,826.1 1850.6,876.3 1853,972.1 1853.2,945 1855.5,960.6 1858.4,920 1859.8,926 1862.5,888.6 1863.4,890.2 1865.1,872.7 1867.3,873.4 1868.4,863 1869.4,837 1871.9,735.5 1874.5,700.9 1874.7,685.9 1877.4,743.5 1879.1,738 1881.1,770.8 1881.5,739.2 1883.9,707.7 1885.9,601.3 1889.2,566.9 1890,530.4 1891.2,573.1 1893.7,532 1894.1,532.7 1895.5,553.9 1898.1,595.8 1901.1,606.3 1902.9,637 1902.8,636.5 1905.6,785.5 1907.1,861 1907.4,865.2 1910,845.1 1912.3,897.1 1914.8,871 1916.8,918.7 1919.8,914.7 1920.7,928.9 1921.9,922 1924.8,936 1927.1,924.4 1929.3,950.5 1931.7,926.6 1933.8,946.6 1933.8,924.5 1935.9,884.5 1936.6,885.5 1938.5,925.3 1941.1,931.1 1942.6,967 1943.2,912.1 1945.9,837.1 1946.1,801 1948.5,826.5 1950.3,837.4 1952.6,887.7 1955.4,904.2 1955.2,906.4 1957.2,860.4 1960.4,841.8 1961.4,806.4 1962.3,816.5 1964.7,780.3 1966.8,771.5 1969.5,745.8 1970.2,744.5 1972.3,744 1974,779.7 1976.2,767.6 1979.3,800.2 1979.7,781.7 1980.9,904.3 1981.1,902.2 1984.1,892.3 1985.9,832.1 1988.9,827.3 1990.3,927.7 1991,930.8 1993.7,904.6 1995.5,931.1 1998.4,892.7 1998.6,920 2000.3,875.2 2003,862 2005.2,792.6 2007.5,802 2007.3,773.3 2009.9,796.5 2012.4,774.6 2015.1,798.5 2016.6,777.7 2017.1,791 2019,814 2022,857.6 2024,861 2025.5,882.9 2026.3,856.1 2028.6,830.2 2029.3,814.2 2031.1,855.6 2033.4,860.8 2035.6,931.2 2038.3,949.7 2038.1,953.6 2040.3,929.5 2043.2,933.1 2045.6,900.8 2048.2,917.2 2048.9,914.3 2050.7,905.8 2053,820.5 2053.7,822.5 2054.8,858.1 2057.3,975.8 2057.3,971.8 2060.1,943.9 2062.2,887.9 2064.1,865.6 2064.8,858.5 2067,790.1 2068.8,707.8 2069.7,728.6 2071.5,687.1 2073.7,686.1 2076.6,658.5 2076.9,655.5 2079,725.4 2081.6,901.1 2081.7,900.7 2083.9,919.6 2085.9,898.1 2088,934.3 2090.4,940.3 2090.1,945 2093,921.1 2095.6,914.5 2097.3,869.1 2099.3,887.5 2099.7,770.4 2101,695 2102.2,683.4 2104.8,709.6 2106.7,636.6 2109.4,661 2110.4,613.3 2112.1,855.8 2112.2,856.8 2114.3,834.8 2116.9,802.5 2119.2,774.6 2119.1,760.9 2120.6,719.1 2121.3,675.7 2122.7,524.2 2123.4,528.2" fill="none" stroke="#57523d" stroke-width="2.8" stroke-linejoin="round"/>
<polyline points="1221,339.2 1221.3,343.3 1222.8,433.5 1225.6,750.1 1227.5,901.8 1227.5,910.8 1230.4,811.8 1232,794.4 1232.1,797.8 1234.7,882.5 1237.4,874.6 1239.1,951.3 1241.2,969.2 1242,964.1 1244.1,903.4 1246.6,867.6 1249.5,810.8 1249.6,805.6 1251.3,821.4 1253.7,868.6 1253.9,855.2 1256.4,872.5 1258.9,857.9 1260.6,890.7 1262.9,888.4 1263.4,888.9 1265.8,824.2 1268.2,814.7 1270.8,741.5 1270.8,738.8 1272.5,763.5 1275.3,842.7 1277.2,860.1 1279.9,920.8 1280,908.7 1281.8,910.3 1284.3,863.5 1287.2,854.2 1288.9,818.5 1290.8,815 1291.9,819.1 1294.6,864 1296.2,870.3 1299,915.4 1299.1,915.9 1301.2,880.9 1303.5,776.5 1305.7,765.4 1308.2,679.1 1308.1,706.2 1310.3,709.5 1313.3,757.4 1315,781.5 1315.2,780.2 1317.7,726.2 1320.3,712.3 1321,672.5 1322.7,695.9 1325.1,701.6 1327.7,750.7 1328.2,745.5 1329.8,709.5 1331.9,604.4 1332.1,602.5 1334.2,573.1 1337.1,560.9 1339.3,512.1 1341.4,483.6 1341.5,456.7 1343.6,431.7 1346.8,249.2 1346.6,244.1 1348.5,389.7 1349.6,466.4 1351.2,535.4 1353.1,802.6 1353.8,841.6 1355.7,873.2 1358.4,853.2 1360.9,947.5 1360.3,948.4 1363,935.5 1365.3,824.5 1367,796.6 1368,811.2 1370.3,865.9 1371.3,887.2 1372.8,878.2 1375.1,831.6 1376.8,831.7 1377.6,807.2 1379.4,813.1 1382.4,797.8 1384,790.2 1386.9,781.1 1387.2,782.4 1389.3,888.8 1389,894.5 1391.5,754.5 1393.4,703.4 1393.7,700.3 1396,728.3 1398.7,711.4 1400.5,720.7 1401.7,712.9 1403.4,731.6 1405.2,699.7 1407.9,706.9 1410.5,680.7 1413.1,691.6 1415.1,667.7 1414.8,682.5 1416.9,614.5 1417.6,655.5 1419.4,671.6 1422,750.3 1423.7,789.2 1425.1,805.7 1426.7,796.3 1429.4,860.3 1432.2,873.2 1433.8,928.8 1436.3,898.8 1436.9,958.2 1439.4,949.8 1441.4,959.9 1443.4,933 1445.1,945.6 1446,907.6 1448.4,940.1 1450.6,876.9 1453,917.1 1456,882.7 1458.3,892.6 1458.6,880.2 1459.8,869.1 1462.4,801.4 1465,780 1465.7,772.9 1467.8,825.4 1469.5,848.7 1471.6,902.9 1471.7,844.1 1473.7,689.7 1474.2,685.3 1476.8,793.5 1479.1,803.5 1481.9,910.7 1483.8,914.7 1484.4,969.2 1486.2,928.1 1488.4,944.6 1490.7,905.4 1493.5,906.4 1493.7,905 1496.2,809 1497.9,717.4 1498.3,741.1 1500.9,750.7 1503.2,848.8 1505,858.4 1507.1,910 1508.1,901 1510,974.6 1510.4,970.1 1512.2,827.1 1513.5,739.6 1514.7,737.3 1515.2,740.4 1516.8,856.8 1519.4,831.8 1521.6,967.7 1523,959.4 1524.6,962.7 1527.1,913.9 1529,935.4 1529.4,929.2 1531.4,929.8 1533.9,876.1 1536.1,909.8 1536.5,901.3 1538.7,821.3 1540.7,713.9 1540.7,736.9 1543.7,739 1545.8,831.3 1547.9,851.2 1549,891 1550.7,783.4 1551.6,732.4 1553.4,730.2 1555,803.6 1557.1,828.3 1559.7,894.3 1560.1,886.4 1562.8,844.3 1564.5,723.6 1567.2,682.6 1566.6,670.8 1570,775.6 1571.7,793.9 1572.3,796.5 1574,638.3 1575.4,584.1 1576.3,562 1579,544.2 1581.2,438.9 1581.7,421.2 1583.5,489.7 1586.5,673.6 1588.6,734.3 1589,767.3 1590.7,712.4 1593.3,665.2 1593.3,664 1595.7,761.8 1598,785.5 1600.6,879.8 1601.5,888.1 1603,904.8 1604.9,910.2 1606.1,954 1607.5,930.5 1609.9,943.2 1611.8,917.7 1614.4,910 1615.1,904.9 1616.7,845.2 1618.8,734.1 1619.8,764.9 1621.7,773.1 1624,871.4 1626.1,864.6 1628,907.4 1628.4,872 1631.1,905.8 1634,889.1 1635.6,894.4 1636.4,889 1638.6,856.6 1640.6,765.8 1643.2,717.6 1643,704.4 1645.7,770.1 1647.3,786.4 1650,861 1650.2,856.4 1652.3,849.1 1655.1,818.3 1657,816.1 1658.7,805.2 1660.1,791.2 1662.5,746.9 1664.9,740.3 1664.7,722.5 1666.6,743.3 1669.2,728.7 1671.6,731.9 1672,730.5 1674.3,820.2 1676.3,817.6 1678.9,932.8 1680.1,933.4 1681.4,929.3 1683.3,843 1686.3,873.7 1687.2,862.4 1687.9,772.9 1690.1,353.3 1691.1,343.3 1692.5,347.4 1695.2,377.8 1695.5,352.5 1697.6,805 1700.3,711.1 1702.8,700.5 1704.5,655.7 1704.9,672.9 1706.1,724.6 1706.8,744.3 1709.2,691 1712,686.4 1712.7,671.3 1714.7,714.5 1716.4,735.3 1719.1,805.6 1719.5,810.7 1721,781 1724,678.2 1724.3,685.6 1726.3,686.8 1728.3,701.7 1730.4,701.3 1730.8,761.8 1732.9,859 1733.2,877.9 1735.4,890.6 1737.8,967.5 1738.7,981.5 1740.1,980.6 1743,957.4 1744.8,969.3 1747.8,952.8 1749.9,963.1 1751.8,944.6 1752.6,952.3 1754.9,870.9 1757,860.7 1759.1,816.9 1759.6,837.1 1762.2,837.9 1764.6,923.5 1765,928 1767,901.1 1768.6,818 1769.1,791.1 1771.3,797.7 1773.7,870.4 1776.3,894.5 1775.9,916.1 1778.6,850.1 1780.5,863.7 1782.8,770.9 1785.4,764.6 1785.1,771.3 1788,895.7 1789.9,933.2 1791.8,982.6 1792.9,939.1 1795,969.5 1797,909.6 1800.2,940.6 1802,888.7 1802.2,919.7 1804.7,874 1807.3,856.9 1809.7,758.2 1811.3,766.4 1814.3,700 1815.7,878 1816.1,863.8 1819.1,859.8 1821.2,800.7 1823.2,788.6 1823.7,780.2 1825.5,831.5 1827.7,830.5 1828.3,836.7 1831.1,831.5 1832.9,856.8 1835.4,824.9 1836.8,854.6 1838.2,792 1840.6,773.2 1842,677.7 1843.3,685.3 1845.1,698.7 1847.6,848.1 1850,888.4 1851.3,973.2 1852.5,943.6 1854.8,959.7 1856.4,922.3 1859.2,924.1 1861.8,890.9 1862.5,893.6 1864.2,871.9 1865.7,867.4 1867.1,854.7 1868.2,844.1 1871.1,748 1873.6,718.4 1873.7,698.8 1876,751.5 1878.5,747.2 1880.2,775.8 1880.7,738.8 1882.9,715.6 1884.7,630.3 1887.7,601.6 1888.3,567.6 1889.5,603.4 1892.2,567.6 1892.7,574.7 1894.8,586.6 1897.3,627.6 1899.8,636.3 1901.6,662.8 1901.7,669.1 1903.8,787.3 1906.5,863.9 1907,869.8 1909.2,857.6 1911.3,892.6 1914.2,875.4 1915.9,913.5 1918.4,910.8 1919.1,928.8 1921.3,923.3 1923.6,940.2 1925.8,920.7 1928.4,943.4 1930.6,929.8 1932.4,949.7 1932.6,926.6 1934.6,891.2 1935,895.1 1937.7,929.9 1939.9,938.1 1941.1,958.9 1941.7,916.2 1944.7,849.7 1944.9,823.7 1947.2,840.1 1949.5,854.7 1951.5,892.2 1953.8,900.1 1954,913.3 1956.5,867.9 1958.8,847.2 1960.6,821.3 1961.4,829.3 1963.9,800 1965.7,783.9 1967.9,764.6 1969.7,762.9 1970.9,772.3 1972.8,796.3 1975.2,791.5 1977.6,817 1978.2,801.4 1979.8,907.4 1980.3,906.4 1982.7,895.8 1984.7,840.6 1987.5,838.4 1988.8,932.2 1990.1,929.7 1992.2,908.9 1994.3,926.1 1996.9,900.8 1998,921.4 1998.8,888 2001.4,867.2 2003.6,813.8 2005.9,814.4 2006.8,788.9 2008.3,810.1 2011.3,796.2 2013.9,815.6 2015.5,791.8 2016.1,806.6 2018,825.9 2020.4,863.8 2023.1,864.5 2024.1,884.4 2025.5,856 2027.9,840.7 2028.1,823.2 2030.4,860.9 2032.5,872.5 2034.6,932.9 2036.8,942 2037.1,955.4 2039.2,928.9 2042.4,932.5 2044,901.5 2046.5,919.1 2047.6,911.8 2049,907.5 2051.9,838 2052.3,834.8 2054,869.6 2055.7,979.7 2056.3,973.6 2058.5,939.4 2061,893.3 2062.6,871 2063.4,858.2 2065.8,794.2 2067.3,725.9 2068.4,744.2 2070.6,710.7 2072.5,716.3 2075.6,693.4 2076.3,688.1 2078,745.5 2079.7,906.7 2080.9,907.2 2082.4,913.3 2084.8,894.4 2087.5,932.8 2089.3,939.9 2089.4,942.7 2092.1,917.2 2094.4,914.3 2096.9,869.5 2097.5,888.7 2099,786.8 2100.3,717.1 2101.4,707.4 2104.1,727.7 2105.9,669.8 2108.3,686.4 2108.6,640.3 2110.4,859.6 2110.7,861.1 2113.5,834.2 2115.4,799.2 2118,768.3 2117.6,765.7 2119.6,721.9 2120,688 2121.9,557.3 2123,560" fill="none" stroke="#8b5e12" stroke-width="2.6" stroke-linejoin="round"/>
<polyline points="1221,863 1223.4,858.5 1225.7,851.2 1228.1,844.4 1230.5,836.9 1232.9,843.8 1235.2,832.7 1237.6,825.5 1240,832.1 1242.4,836.1 1244.7,845.1 1247.1,840.1 1249.5,841.1 1251.9,858.4 1254.2,853.6 1256.6,871.4 1259,872.2 1261.4,870.4 1263.7,878.9 1266.1,875.7 1268.5,858.1 1270.9,863.6 1273.2,839.7 1275.6,833.6 1278,833.9 1280.3,827.7 1282.7,825.5 1285.1,830.6 1287.5,816.9 1289.8,813.4 1292.2,821.6 1294.6,817.6 1297,820.6 1299.3,825.4 1301.7,838.9 1304.1,836.6 1306.5,853.4 1308.8,860.4 1311.2,855.3 1313.6,866.6 1316,854.8 1318.3,855.6 1320.7,854.2 1323.1,864.5 1325.5,865.5 1327.8,860.8 1330.2,871.2 1332.6,898.8 1335,913.1 1337.3,934.9 1339.7,944.7 1342.1,940.9 1344.4,942.2 1346.8,941.8 1349.2,928.5 1351.6,900.2 1353.9,888.4 1356.3,882.2 1358.7,881.2 1361.1,863.5 1363.4,867.6 1365.8,855.6 1368.2,873.8 1370.6,862.1 1372.9,874.4 1375.3,881.8 1377.7,878.1 1380.1,882.4 1382.4,873.1 1384.8,884.7 1387.2,880.4 1389.6,865.1 1391.9,870.1 1394.3,868.8 1396.7,852.1 1399,853.7 1401.4,862.9 1403.8,861.8 1406.2,870.3 1408.5,867.3 1410.9,874.7 1413.3,876.8 1415.7,885.5 1418,892.8 1420.4,878.2 1422.8,886.1 1425.2,877.5 1427.5,860.2 1429.9,842.4 1432.3,823.9 1434.7,820.2 1437,830.6 1439.4,830.5 1441.8,828.3 1444.2,826.7 1446.5,849.2 1448.9,850.9 1451.3,855.2 1453.7,860.2 1456,853.9 1458.4,846.6 1460.8,841 1463.1,842.5 1465.5,848.6 1467.9,854.8 1470.3,846.6 1472.6,846.3 1475,834.6 1477.4,827 1479.8,836.1 1482.1,824.1 1484.5,814.6 1486.9,811.9 1489.3,825.6 1491.6,822.8 1494,839 1496.4,836.1 1498.8,849.6 1501.1,849.9 1503.5,846.1 1505.9,837.9 1508.3,846.8 1510.6,846.8 1513,852.2 1515.4,865.7 1517.8,858.3 1520.1,839.4 1522.5,834.5 1524.9,824 1527.2,829.1 1529.6,821.3 1532,825.7 1534.4,833.1 1536.7,838.1 1539.1,846.2 1541.5,834.4 1543.9,828.4 1546.2,835.3 1548.6,844.9 1551,832.7 1553.4,842.2 1555.7,845.6 1558.1,851.8 1560.5,853.3 1562.9,871.4 1565.2,890.6 1567.6,903.8 1570,907.6 1572.4,914.6 1574.7,931.3 1577.1,943.8 1579.5,954 1581.8,951.1 1584.2,934 1586.6,928.1 1589,909.7 1591.3,897.9 1593.7,886 1596.1,884.6 1598.5,869.8 1600.8,868.2 1603.2,864.9 1605.6,862.7 1608,860.6 1610.3,868.3 1612.7,857.9 1615.1,855.9 1617.5,850.9 1619.8,851.1 1622.2,853.6 1624.6,845.9 1627,843.4 1629.3,838.7 1631.7,835 1634.1,834.7 1636.5,831.6 1638.8,834.4 1641.2,829.2 1643.6,837.2 1645.9,841.7 1648.3,835 1650.7,848.1 1653.1,844.2 1655.4,849.7 1657.8,850 1660.2,860.4 1662.6,862.1 1664.9,855.9 1667.3,859.2 1669.7,847.5 1672.1,849.5 1674.4,836.1 1676.8,829.8 1679.2,835.9 1681.6,862.5 1683.9,856.4 1686.3,868.3 1688.7,891.9 1691.1,888.7 1693.4,907.9 1695.8,897.3 1698.2,886.3 1700.5,872.8 1702.9,863.1 1705.3,849.7 1707.7,843.9 1710,844.7 1712.4,839.3 1714.8,842.5 1717.2,851.4 1719.5,861 1721.9,851.5 1724.3,859.3 1726.7,861.2 1729,846.3 1731.4,833.4 1733.8,818 1736.2,812.3 1738.5,816.1 1740.9,824.3 1743.3,815.2 1745.7,824.1 1748,832.3 1750.4,820.4 1752.8,828.4 1755.2,833.5 1757.5,840.3 1759.9,847.3 1762.3,851 1764.6,851.4 1767,854.4 1769.4,859 1771.8,852.1 1774.1,856.6 1776.5,845.4 1778.9,842.5 1781.3,840 1783.6,833.6 1786,830.6 1788.4,830.5 1790.8,826.2 1793.1,830.2 1795.5,819.2 1797.9,827.4 1800.3,840.7 1802.6,842.6 1805,854.6 1807.4,867.9 1809.8,883.5 1812.1,901.3 1814.5,901.5 1816.9,901.6 1819.2,898.4 1821.6,902 1824,892.3 1826.4,872.4 1828.7,871.1 1831.1,860.6 1833.5,842.9 1835.9,839.1 1838.2,830.5 1840.6,833.6 1843,833.2 1845.4,824.7 1847.7,824.1 1850.1,820.6 1852.5,808.7 1854.9,816.8 1857.2,832.9 1859.6,848 1862,851.2 1864.4,853.6 1866.7,857.4 1869.1,857.6 1871.5,867.8 1873.8,870.9 1876.2,865.2 1878.6,860.4 1881,863.9 1883.3,871.6 1885.7,872.8 1888.1,866.1 1890.5,881.1 1892.8,883.2 1895.2,887.7 1897.6,894.4 1900,908.3 1902.3,905.9 1904.7,882.1 1907.1,873 1909.5,862.3 1911.8,851.2 1914.2,830.3 1916.6,838.9 1919,828.7 1921.3,820.7 1923.7,813.4 1926.1,819.9 1928.5,823.4 1930.8,820.3 1933.2,823.6 1935.6,824.7 1937.9,821.7 1940.3,811.6 1942.7,819 1945.1,828.6 1947.4,830.3 1949.8,831.5 1952.2,829.6 1954.6,843.9 1956.9,840.4 1959.3,833.7 1961.7,836.8 1964.1,846.4 1966.4,840.4 1968.8,856.3 1971.2,856.3 1973.6,867.1 1975.9,859.5 1978.3,856.5 1980.7,840.6 1983.1,837.4 1985.4,833.1 1987.8,832.7 1990.2,842.6 1992.6,842 1994.9,841.3 1997.3,838.6 1999.7,829.9 2002,831.8 2004.4,832.2 2006.8,818.9 2009.2,823.1 2011.5,821.9 2013.9,813.6 2016.3,815.9 2018.7,822.8 2021,814.6 2023.4,817.8 2025.8,818.3 2028.2,818.3 2030.5,834.3 2032.9,837.5 2035.3,833.3 2037.7,826.4 2040,829.6 2042.4,827.6 2044.8,823.2 2047.2,824.6 2049.5,817.6 2051.9,819.6 2054.3,832.9 2056.6,850.3 2059,872.8 2061.4,882.4 2063.8,896.9 2066.1,894.1 2068.5,878.2 2070.9,866.7 2073.3,855 2075.6,843.3 2078,847.4 2080.4,852.4 2082.8,851.6 2085.1,841.2 2087.5,845.8 2089.9,848.5 2092.3,853.2 2094.6,872.4 2097,896.4 2099.4,910.1 2101.8,921.2 2104.1,918.6 2106.5,896.4 2108.9,871.8 2111.2,845.7 2113.6,861 2116,868.7 2118.4,869.7 2120.7,881.5 2123.1,882.5" fill="none" stroke="#9e2a52" stroke-width="2.6" stroke-linejoin="round"/>
</g>
<rect x="1221" y="210.5" width="902.4" height="845.1" fill="none" stroke="#8c8c8c" stroke-width="4.5"/>
<rect x="1214" y="955.3" width="6" height="3" fill="#333"/>
<text class="t b" x="1187.9" y="965.8" font-size="25" fill="#333" stroke="#333" textLength="23.1" lengthAdjust="spacingAndGlyphs">0.8</text>
<rect x="1214" y="856.4" width="6" height="3" fill="#333"/>
<text class="t b" x="1187.9" y="866.9" font-size="25" fill="#333" stroke="#333" textLength="23.1" lengthAdjust="spacingAndGlyphs">1.6</text>
<rect x="1214" y="757.6" width="6" height="3" fill="#333"/>
<text class="t b" x="1187.9" y="768.1" font-size="25" fill="#333" stroke="#333" textLength="23.1" lengthAdjust="spacingAndGlyphs">2.4</text>
<rect x="1214" y="658.7" width="6" height="3" fill="#333"/>
<text class="t b" x="1187.9" y="669.2" font-size="25" fill="#333" stroke="#333" textLength="23.1" lengthAdjust="spacingAndGlyphs">3.2</text>
<rect x="1214" y="559.9" width="6" height="3" fill="#333"/>
<text class="t b" x="1187.9" y="570.4" font-size="25" fill="#333" stroke="#333" textLength="23.1" lengthAdjust="spacingAndGlyphs">4.0</text>
<rect x="1214" y="461.1" width="6" height="3" fill="#333"/>
<text class="t b" x="1187.9" y="471.6" font-size="25" fill="#333" stroke="#333" textLength="23.1" lengthAdjust="spacingAndGlyphs">4.8</text>
<rect x="1214" y="362.2" width="6" height="3" fill="#333"/>
<text class="t b" x="1187.9" y="372.7" font-size="25" fill="#333" stroke="#333" textLength="23.1" lengthAdjust="spacingAndGlyphs">5.6</text>
<rect x="1214" y="263.4" width="6" height="3" fill="#333"/>
<text class="t b" x="1187.9" y="273.9" font-size="25" fill="#333" stroke="#333" textLength="23.1" lengthAdjust="spacingAndGlyphs">6.4</text>
<rect x="2124.4" y="964.1" width="6" height="3" fill="#333"/>
<text class="t b" x="2134.4" y="974.6" font-size="25" fill="#a0335c" stroke="#a0335c" textLength="23.1" lengthAdjust="spacingAndGlyphs">0.3</text>
<rect x="2124.4" y="874.1" width="6" height="3" fill="#333"/>
<text class="t b" x="2134.4" y="884.6" font-size="25" fill="#a0335c" stroke="#a0335c" textLength="23.1" lengthAdjust="spacingAndGlyphs">0.6</text>
<rect x="2124.4" y="784.1" width="6" height="3" fill="#333"/>
<text class="t b" x="2134.4" y="794.6" font-size="25" fill="#a0335c" stroke="#a0335c" textLength="23.1" lengthAdjust="spacingAndGlyphs">0.9</text>
<rect x="2124.4" y="694.1" width="6" height="3" fill="#333"/>
<text class="t b" x="2134.4" y="704.6" font-size="25" fill="#a0335c" stroke="#a0335c" textLength="23.1" lengthAdjust="spacingAndGlyphs">1.2</text>
<rect x="2124.4" y="604.1" width="6" height="3" fill="#333"/>
<text class="t b" x="2134.4" y="614.6" font-size="25" fill="#a0335c" stroke="#a0335c" textLength="23.1" lengthAdjust="spacingAndGlyphs">1.5</text>
<rect x="2124.4" y="514.1" width="6" height="3" fill="#333"/>
<text class="t b" x="2134.4" y="524.6" font-size="25" fill="#a0335c" stroke="#a0335c" textLength="23.1" lengthAdjust="spacingAndGlyphs">1.8</text>
<rect x="2124.4" y="424.1" width="6" height="3" fill="#333"/>
<text class="t b" x="2134.4" y="434.6" font-size="25" fill="#a0335c" stroke="#a0335c" textLength="23.1" lengthAdjust="spacingAndGlyphs">2.1</text>
<rect x="2124.4" y="334.1" width="6" height="3" fill="#333"/>
<text class="t b" x="2134.4" y="344.6" font-size="25" fill="#a0335c" stroke="#a0335c" textLength="23.1" lengthAdjust="spacingAndGlyphs">2.4</text>
<rect x="2124.4" y="244.1" width="6" height="3" fill="#333"/>
<text class="t b" x="2134.4" y="254.6" font-size="25" fill="#a0335c" stroke="#a0335c" textLength="23.1" lengthAdjust="spacingAndGlyphs">2.7</text>
<rect x="1219.5" y="1056.6" width="3" height="6" fill="#333"/>
<text class="t b" x="1216.4" y="1088.6" font-size="25" fill="#333" stroke="#333" textLength="9.2" lengthAdjust="spacingAndGlyphs">0</text>
<rect x="1338.2" y="1056.6" width="3" height="6" fill="#333"/>
<text class="t b" x="1330.5" y="1088.6" font-size="25" fill="#333" stroke="#333" textLength="18.4" lengthAdjust="spacingAndGlyphs">50</text>
<rect x="1456.9" y="1056.6" width="3" height="6" fill="#333"/>
<text class="t b" x="1444.6" y="1088.6" font-size="25" fill="#333" stroke="#333" textLength="27.7" lengthAdjust="spacingAndGlyphs">100</text>
<rect x="1575.6" y="1056.6" width="3" height="6" fill="#333"/>
<text class="t b" x="1563.3" y="1088.6" font-size="25" fill="#333" stroke="#333" textLength="27.7" lengthAdjust="spacingAndGlyphs">150</text>
<rect x="1694.3" y="1056.6" width="3" height="6" fill="#333"/>
<text class="t b" x="1682" y="1088.6" font-size="25" fill="#333" stroke="#333" textLength="27.7" lengthAdjust="spacingAndGlyphs">200</text>
<rect x="1813" y="1056.6" width="3" height="6" fill="#333"/>
<text class="t b" x="1800.7" y="1088.6" font-size="25" fill="#333" stroke="#333" textLength="27.7" lengthAdjust="spacingAndGlyphs">250</text>
<rect x="1931.7" y="1056.6" width="3" height="6" fill="#333"/>
<text class="t b" x="1919.4" y="1088.6" font-size="25" fill="#333" stroke="#333" textLength="27.7" lengthAdjust="spacingAndGlyphs">300</text>
<rect x="2050.4" y="1056.6" width="3" height="6" fill="#333"/>
<text class="t b" x="2038.1" y="1088.6" font-size="25" fill="#333" stroke="#333" textLength="27.7" lengthAdjust="spacingAndGlyphs">350</text>
<text class="t b" x="1587.2" y="1128.6" font-size="36" fill="#333" stroke="#333" textLength="170" lengthAdjust="spacingAndGlyphs">Residue Index</text>
<text class="t b" font-size="23" fill="#333" stroke="#333" textLength="162" lengthAdjust="spacingAndGlyphs" transform="translate(1177,633) rotate(-90)" x="-81" y="0">RMSF (Å)</text>
<g>
<text class="t b" font-size="26" fill="#a0335c" stroke="#a0335c" textLength="144" lengthAdjust="spacingAndGlyphs" transform="translate(2170.4,635) rotate(90)" x="-72" y="0">B factor</text>
</g>
<text class="s" x="1269" y="311.1" font-size="89" textLength="58" lengthAdjust="spacingAndGlyphs" fill="#000">B</text>
<clipPath id="clipD"><rect x="206.8" y="1186.8" width="889.5" height="843"/></clipPath>
<g clip-path="url(#clipD)">
<rect x="222.5" y="1186.8" width="7.5" height="843" fill="#c5eaf4"/>
<rect x="262.9" y="1186.8" width="27" height="843" fill="#fad5cb"/>
<rect x="377.7" y="1186.8" width="16.2" height="843" fill="#fad5cb"/>
<rect x="413" y="1186.8" width="7.3" height="843" fill="#c5eaf4"/>
<rect x="429.4" y="1186.8" width="17.1" height="843" fill="#fad5cb"/>
<rect x="468.6" y="1186.8" width="5.6" height="843" fill="#dcf3f9"/>
<rect x="505.7" y="1186.8" width="6.3" height="843" fill="#c5eaf4"/>
<rect x="523.5" y="1186.8" width="15.5" height="843" fill="#fad5cb"/>
<rect x="583.4" y="1186.8" width="7.3" height="843" fill="#c5eaf4"/>
<rect x="608.8" y="1186.8" width="10.6" height="843" fill="#fad5cb"/>
<rect x="629.9" y="1186.8" width="13.1" height="843" fill="#fad5cb"/>
<rect x="657.9" y="1186.8" width="6.6" height="843" fill="#c5eaf4"/>
<rect x="684.1" y="1186.8" width="17.1" height="843" fill="#fad5cb"/>
<rect x="712.8" y="1186.8" width="7.3" height="843" fill="#c5eaf4"/>
<rect x="769.1" y="1186.8" width="10.8" height="843" fill="#c5eaf4"/>
<rect x="810.5" y="1186.8" width="8.9" height="843" fill="#fad5cb"/>
<rect x="826.7" y="1186.8" width="13.4" height="843" fill="#c5eaf4"/>
<rect x="861.2" y="1186.8" width="6.6" height="843" fill="#fad5cb"/>
<rect x="895.7" y="1186.8" width="45.8" height="843" fill="#fad5cb"/>
<rect x="953.7" y="1186.8" width="8.2" height="843" fill="#fad5cb"/>
<rect x="979.3" y="1186.8" width="5.6" height="843" fill="#dcf3f9"/>
<rect x="998.8" y="1186.8" width="5.6" height="843" fill="#c5eaf4"/>
<rect x="1026.7" y="1186.8" width="13.1" height="843" fill="#c5eaf4"/>
<rect x="1055.4" y="1186.8" width="15.5" height="843" fill="#c5eaf4"/>
<polyline points="207,1487.4 207,1514.9 209.1,1577.4 211.3,1800.5 213.5,1849.1 214,1872.3 215.5,1908.4 215.8,1915.4 218.4,1869 220.3,1903.5 223.1,1864.8 225.6,1896.8 225.6,1889.6 228.7,1873.5 230.9,1835.8 232.2,1814 232.1,1814.6 234.7,1849.5 235.5,1842.3 237.1,1807.6 240.1,1733.4 241,1712.4 242.5,1708.1 243.9,1722.2 246.8,1713.3 247.9,1807.3 249.1,1790.8 251.3,1769.1 254.5,1738.4 255.5,1725 256.2,1710.2 258.6,1796 258.7,1804 260.3,1803.1 263.7,1768.5 265.1,1775.9 267,1761 268.6,1781.9 270.3,1806.5 272.5,1855.4 272.4,1849.3 274.6,1869.2 277.3,1867.2 279,1891.3 280.1,1893.9 281.3,1899.9 284.2,1897 286.1,1909.9 287.5,1906.1 289.3,1884.2 291.9,1780.8 293.3,1753.6 293.6,1736.5 296.6,1889.5 296.4,1863 299,1860.7 300.7,1791.9 302.9,1765.5 302.7,1774.9 305.8,1813.2 307,1827.4 309.3,1850.9 309.8,1850.5 312.9,1869.9 314,1874.9 314.2,1876.9 317.9,1851.9 319,1858.2 322,1832.3 322,1845.3 324.4,1810.7 326.2,1784 328.2,1734.9 328.7,1748.5 331.3,1740.7 334.1,1762.8 335.1,1754.8 335.3,1814.4 337.2,1872.9 338.3,1870.6 341,1850.6 343.5,1840.1 344.7,1819.9 347.2,1815 347.7,1809.8 350.3,1779.7 351.2,1766.7 352.2,1786.7 355.1,1789.2 357.6,1805 356.9,1786.5 360.1,1761.1 360.8,1715.5 362.3,1725.8 363.4,1735 366.8,1776.2 368.1,1793.9 368.4,1763.9 369.7,1715.4 371.3,1700.6 372.9,1668.2 375.1,1645.5 377.2,1628.4 378.9,1660.5 381.3,1667.1 383.4,1737.6 383.8,1726.4 385.2,1713.9 388.1,1666.5 388,1678 389.8,1732.1 391.3,1787.2 391.7,1734 394.2,1559.8 395.1,1553.2 397.3,1573.6 399.1,1529.4 401.1,1513.5 401.5,1548.5 403.5,1628.2 405.3,1832.7 406.3,1847.8 408.2,1865.7 411.6,1908.1 414.2,1916.7 413.8,1940.1 416.2,1893.6 418,1926.7 420,1896.6 422.3,1909.3 422,1874.7 424.9,1874.3 427.8,1808.2 429.6,1804.3 430.7,1765 432.5,1804.2 434.2,1844.7 435.2,1885.8 437.6,1793.5 437,1763.9 438.5,1758.5 441.1,1809.9 444.7,1814.3 444.6,1824.7 446.7,1716.8 448.2,1646.2 448.5,1648.1 450.7,1648.9 453.5,1637.6 454.9,1645.7 457.6,1788.8 457.4,1800 461,1759.9 461,1770.5 463.5,1795.7 465.6,1866.7 468.2,1907.1 468.6,1942.1 469.5,1917.2 471.8,1923.5 474.9,1896.4 477,1893.5 478.9,1869 478.7,1880 482,1807.8 483.6,1774.2 483.5,1742.8 486.3,1697 488,1613.6 488.4,1653.8 491.1,1665.5 492.4,1692.9 493.6,1703.9 495.3,1763.4 498.6,1770.7 500.1,1804.6 500.1,1821.1 500.9,1922.1 502.1,1916.6 505.6,1930.2 506.5,1927.1 508.1,1935.3 508,1927.1 510.1,1901.1 512.7,1856.6 515.2,1851.7 515.6,1832 517.2,1886.9 516.9,1896.6 518.6,1870.1 521.4,1787.5 524.1,1772.1 524.3,1755.6 525.5,1904 526.5,1902.4 528.8,1881.7 530.3,1805.1 532.8,1793.7 533.1,1790.7 534.4,1909.3 535.3,1887.1 538,1902.7 540.6,1881.2 542.3,1898.1 543.8,1894.9 545.1,1830.2 547.9,1709.5 548.7,1678.1 549,1725.3 550.1,1745 551.8,1618.1 552.7,1609.4 554.8,1615.5 556.2,1630.9 559,1631.6 559,1638.2 561.7,1608 562.8,1586.5 563,1588.9 565.3,1687.6 566.8,1664.6 568.2,1628.2 569.6,1570.9 570.2,1600.6 572.9,1630.9 575.6,1697.7 577,1809.4 578.5,1829.2 580,1845 582.4,1889 585.6,1897 584.8,1917 587.8,1863.9 589.9,1841.8 591.8,1782.4 591.6,1796.6 593.3,1818.3 594.5,1824 596.4,1781 599.1,1758.7 599.8,1729 600.6,1767.3 603.1,1797.7 605.3,1847.8 606.5,1850.7 608.4,1871.8 610.1,1868.4 613.1,1888.3 612.6,1891.8 615.6,1901.9 618.1,1892.4 617.5,1903.3 619.7,1790.2 622.8,1721.4 621.7,1716.1 625.4,1759.5 626.6,1739.3 629.5,1774.8 630.8,1854 631.6,1858.6 634.3,1845.2 636.1,1865.9 637.3,1859.6 639.1,1768.6 639.6,1702 641.4,1723.7 643.3,1738.6 645.2,1789.6 648.7,1816.2 647.9,1814.7 650,1780.7 650.2,1781.5 653.6,1801 655.6,1852.8 657.9,1854.8 658.7,1879.7 660.3,1853.9 663,1815.1 663.3,1787.3 664,1779.2 667.2,1745.5 668.4,1746.7 668.9,1657.1 671.2,1584.2 672.4,1532.5 673.5,1528.2 677,1514.8 677,1511.4 678.3,1557.2 681.2,1594.9 681.8,1593.4 684.1,1677.3 685.3,1707.9 686.3,1718.4 688.6,1662.6 689.2,1640.3 691.3,1662.8 692.3,1724.4 692.9,1711.6 694.8,1690.5 698.2,1660.8 699.2,1654.8 699.4,1685.4 700.9,1708.4 701.9,1604.9 705.1,1529.6 704.5,1485.9 707,1795.5 706.7,1789 710,1833 712.1,1831.9 713.6,1913.8 715.6,1934.3 716.2,1938.4 718.4,1875.2 721.5,1902.2 722.7,1830.5 725.2,1866.2 726.8,1850.6 728.6,1773.4 728.8,1676.2 731.1,1746.9 732.6,1756.3 735.5,1857.6 735,1854 736.8,1729.5 737.5,1697.2 740.4,1753.4 742.5,1759.2 743.9,1806.5 744,1787 747,1708.9 749.8,1583.7 750,1539 751.2,1586.1 752.7,1792.3 753.2,1752.5 756.8,1789.7 758.5,1740.3 760.2,1752 761.1,1748.7 762.5,1810 766.1,1819.5 765.9,1854.7 767.9,1846.5 769.9,1915.5 772.6,1944.9 772.6,1948.3 775.1,1915.4 777,1913.1 779,1864.6 780.9,1874.9 782.1,1840.4 784.3,1852.5 786.2,1804 787.5,1825.6 789.3,1719.7 791.5,1622.5 792,1517.7 793.5,1548.9 794.7,1514.2 795.8,1639.3 797.5,1732.1 798.8,1730.4 800.7,1714.2 801.5,1729 803.9,1653.9 805.6,1619.4 805.2,1620.8 805.5,1618.9 807.1,1669.6 810.1,1776.5 810.7,1769.6 813,1756.2 814.5,1727.3 815.4,1734.9 816.8,1735.2 820,1756 820.6,1854.8 821.9,1862 824.4,1866 826.9,1901.9 828.3,1889.2 831.5,1939.7 831.7,1939.9 833.9,1937.6 835.4,1884.1 838,1893.6 837.9,1890.7 841.1,1871.3 843.5,1808.6 845.2,1805.6 845.1,1786.1 847.9,1700.4 847.1,1708.9 850.7,1744.1 852.1,1735.1 852.2,1765.1 854.1,1803.3 856.6,1835.3 856.9,1784.8 860.1,1738.5 860.7,1703 861.4,1706.2 864.8,1681.6 865.8,1702.1 869.1,1661.3 868.7,1664.8 871.3,1674.9 872.9,1764 876.2,1786.5 877.1,1840.8 878.4,1822.3 881.1,1771.7 881.5,1712.6 882.8,1733.9 884.9,1733.8 887.5,1779.7 889.3,1795.1 890.3,1806.1 892.9,1805.7 895.2,1826.2 897.2,1820.2 899.5,1833.8 899.2,1825.8 902.3,1884.5 904.1,1912.6 903.6,1915.4 907.1,1912.8 908.3,1929.4 910.7,1933.7 913.9,1949.5 915.1,1958.2 916.3,1952.7 918.8,1930.6 921.2,1942.5 921.2,1933.7 922.5,1910.4 925.7,1841.3 926.2,1834 927.2,1838.2 929.7,1873.7 930.3,1874.8 932.8,1832 934.7,1766.2 936.5,1730.1 937.3,1733.5 938.7,1769.6 939.5,1771 942.2,1772.6 943.5,1766.3 945.6,1763.3 946.4,1779 949.3,1829.7 951.4,1846.6 952.7,1869 952.7,1860.2 956.4,1885.3 958.8,1881.2 961.1,1901 961.2,1902 962.1,1850.6 965.5,1777.9 965.4,1789.3 966.8,1858.8 968.7,1925.4 970.1,1902.4 973,1877.1 973.6,1845.6 974,1853.5 977.5,1859.9 979.3,1873.6 981,1876.9 981.8,1892.4 984,1860.4 986.6,1852.6 987,1833.9 988.6,1854.1 991.1,1841.6 993.3,1851.3 995.8,1840.1 998.3,1841.2 998.1,1840.8 999.7,1924.8 999.8,1913.4 1002.2,1930.6 1005.3,1927.4 1007.8,1930 1009.3,1923.1 1010.8,1925.2 1012.8,1881.3 1012.4,1865.8 1014.6,1863.2 1016.5,1866.8 1019.3,1858.6 1021.3,1871.7 1022.5,1901.7 1023.1,1910.9 1025.6,1913 1028.9,1933.9 1030.4,1939.4 1031.6,1942.1 1034,1886.5 1034.9,1876.2 1037.2,1852.3 1038,1839.1 1040.3,1722.1 1041.1,1686.2 1042.2,1689.3 1044.4,1711.4 1047.6,1714 1050.1,1737.5 1050.1,1733.6 1051.9,1796.1 1054.3,1830.8 1057.2,1893.8 1057.1,1883.9 1059.4,1835.4 1058.7,1833.9 1061.7,1880.9 1064.6,1882.7 1065.3,1919 1065.7,1897.5 1068.3,1899.4 1071.3,1863.7 1073.3,1845.1 1074.7,1908.4 1075.3,1899.7 1078.2,1871.8 1080.5,1866 1082,1839.1 1084.2,1829.9 1085,1868.7 1087.1,1856.7 1089.9,1794.3 1091.5,1808.8 1092.7,1726.6 1093.6,1521.4 1096.4,1331.3 1096.4,1365.9 1097.5,1371.4" fill="none" stroke="#4a6f8f" stroke-width="2.6" stroke-linejoin="round"/>
<polyline points="207.2,1457.3 206.4,1494.6 209.9,1556.5 211.8,1789.6 212.7,1839.4 214.3,1871.4 215,1910.1 215.7,1908.4 218.2,1859.4 220.7,1897 223.5,1862.7 226.2,1889.5 226.1,1886 228.2,1870.4 229.9,1833.8 233.3,1813.9 233,1798 234.5,1846 234.8,1834.7 237.5,1792.7 240.3,1720.5 241.9,1693.3 241.9,1699.6 243.6,1717.8 246.7,1702.9 248.1,1799.4 248.8,1775.4 251.4,1762.9 254.4,1724.9 256.5,1715.8 256.8,1690.3 258.3,1786.5 259.2,1793.5 261.4,1786.3 263,1752.8 266.2,1762.3 267,1747.3 268.5,1773.9 270.3,1798.6 271.7,1851.9 272.4,1844.4 275.7,1862.7 276.7,1859.2 280.1,1886.5 280.2,1883.2 282.4,1895.5 284,1883.8 287,1911.6 287,1902.8 288.3,1878.5 290.6,1773 293.2,1739.3 294.4,1719.4 295.8,1885 295.5,1861.5 298.9,1858.4 300.8,1773.8 303,1754.2 302.4,1761.1 305.8,1801.8 307.1,1821 309.5,1846.3 309.7,1851.6 313.1,1870.9 313.7,1865.6 314.1,1869.9 317.6,1845.9 320,1852.1 321.1,1826.4 321.7,1845.6 324.6,1805.5 326.7,1773.1 328,1724.4 329.5,1733 330.5,1727.7 333,1751 334.9,1739 335.4,1798.3 336.9,1872.7 338.2,1864.6 341.1,1846.2 342.5,1834.6 345,1812.1 347.3,1813.2 348.6,1799.8 350.2,1772.6 350.1,1756.8 352.2,1775.9 355.4,1782.1 356.8,1792.2 356.5,1777.4 360.1,1749.1 361.9,1698.7 362.4,1711.7 363.6,1720.3 366.5,1773.3 367.6,1778.4 369.5,1755.5 370.3,1701.7 371.1,1693.9 373,1650.9 375.8,1625.1 377.2,1608.1 378.1,1641.6 380.6,1659.9 382.7,1724.9 383.9,1720.8 385.6,1704.5 387.8,1655.5 387,1666.9 389.5,1722.2 392.5,1786 391.7,1723.9 394.7,1541.4 393.9,1529.9 396.9,1547.6 398.9,1497.2 401,1491.9 402.2,1527.2 403.9,1617.9 405.8,1818.7 406.6,1842.3 408,1862.4 411.8,1901.8 412.9,1917.7 414.4,1934.8 416.4,1888.7 418,1925.5 420.4,1893.6 422.4,1904 422.2,1869 424.4,1870.9 427.7,1798.9 429.1,1798.2 430.4,1758.4 431.8,1794.7 435.3,1836.4 436.1,1881.1 437.2,1786.7 437.1,1756.1 438.7,1748.5 441.9,1804 443.5,1797.9 444.7,1822.9 446.8,1705.2 449.1,1633.2 448.4,1627.7 450.2,1636.6 452.6,1620.2 455.9,1626.4 457.2,1779.5 457.6,1789.8 460.6,1747.3 462,1757.5 462.9,1783.2 465.4,1858.1 467.5,1910.2 468,1943.1 469.8,1907.1 472.8,1922.9 474.2,1898.1 477.1,1892.9 479.3,1868.4 479.5,1875 481.1,1797.5 483.6,1765.3 483.8,1724.8 486.3,1687.5 488.5,1598.7 488.7,1639.9 491.5,1645.8 492,1673.6 493.2,1688.4 496.4,1753.5 497.3,1768 499.9,1792.3 501,1815.1 501.4,1913.6 502.3,1911.8 504.3,1924.7 506.4,1928.9 507.7,1926.5 508.2,1922 509.1,1901.3 511.7,1851.2 514.3,1845.5 515.3,1821.9 517.4,1880 517.6,1894.4 519.7,1868.5 522.2,1781.3 524.5,1756 523.8,1733.6 525.5,1896.7 525.7,1894 529.2,1871.1 530.5,1787.1 532,1783.7 534,1785.1 535.3,1904.2 535.9,1879.3 538.3,1898.8 539.6,1870.1 542.4,1894.5 543.8,1888.9 545.2,1819.9 546.5,1695.5 548,1668.6 548.9,1714.4 550.8,1744.1 552.2,1598.9 552.6,1595.1 555,1601.1 555.9,1608.5 558.3,1615.5 558.7,1622.5 560.9,1588.3 562.7,1574.7 564.1,1573.3 564.9,1673.7 565.4,1651.3 568.7,1610.1 570.2,1547.9 570,1586.2 572.6,1610.4 574.7,1685.4 576.2,1802.5 577.6,1821.5 580.3,1836.6 582.7,1884.7 584.6,1893.8 585.3,1908.2 586.4,1861.6 590,1831.8 591.5,1775.3 591.1,1782.5 594.6,1814.2 594.8,1814.4 597.1,1763.6 599.2,1749 600.9,1724.6 600.9,1758.4 603.2,1793 604.2,1848.4 606.4,1848.8 608.2,1867.6 611.1,1866.9 612.5,1887 614.1,1883.2 615.1,1894.1 617.4,1894.7 617.3,1899.2 620.5,1786.2 622.6,1707.7 621.8,1701.7 624.8,1739.7 627.4,1733.4 629.8,1761.6 630.5,1851.5 632.3,1858.9 633.7,1838.9 637,1857.5 637.1,1857.1 638.3,1755.1 640,1687 641.3,1714.5 643.5,1727.2 645.7,1780.9 648.1,1801.7 647.5,1808.2 650.1,1767.7 650.5,1776.5 652.9,1801.8 655.6,1846.4 658.2,1855 659.4,1873.3 660.1,1855.8 661.8,1813.8 663.7,1781.6 665,1766.6 666.9,1739.1 667.4,1745.1 669.8,1648.2 671.8,1560.9 672.9,1507.9 673.8,1514.8 675.7,1491.8 676.3,1495.3 678.1,1535.5 681.6,1580.5 681,1575.2 683.1,1664.2 685.7,1694.4 686.2,1701.2 688.5,1650.7 690.4,1630.4 690.9,1651.4 692.4,1713.3 692.1,1695.9 695.5,1681.5 697.8,1646 698.8,1641.5 699.7,1671.7 700.6,1696.1 702,1588.2 705.3,1505.2 705.4,1458.9 706.7,1787.4 707.5,1777.1 710,1827 711.3,1817.6 713.7,1906.2 715.7,1938.7 715.8,1935.9 718.1,1862.9 720.9,1900.2 723.5,1827.2 726,1856.3 727,1839.9 728.6,1764 729.5,1660 730.1,1741 733.5,1745.6 734.8,1844.7 735.3,1843.5 737.9,1724.5 738.2,1679.3 740,1747.5 741.9,1748.2 744,1806.2 745.1,1778.4 747.5,1702.8 748.9,1564.8 751.2,1515.8 752.2,1558.7 753.3,1780.8 753.6,1743.5 755.6,1774.6 759,1729.2 760.2,1743.1 761.6,1731.2 762.9,1794.6 764.8,1809.9 765.9,1848.2 768.2,1840.3 770.5,1908.7 772.7,1934.7 772,1939 775.4,1909.6 777.3,1905.2 779.1,1856.5 781,1867 782.6,1831.3 784.6,1847.5 787.5,1792.2 788,1820.5 789.2,1709.2 791.3,1603.7 792.9,1498.8 794.2,1522.8 795.3,1487.9 796,1623.6 797.3,1722.8 798.2,1720.5 801.6,1704.8 801.4,1721.6 803.8,1638.8 804.7,1602.2 806,1597.3 806.5,1599.5 807.3,1661.7 810.1,1770.2 809.5,1762.1 813,1745 815.4,1710.2 814.6,1720.6 817.5,1727.3 820.2,1743.3 820.6,1843.4 821.8,1851.2 823.6,1860.8 826.5,1901 828.2,1886.8 832,1936.3 831.8,1935.3 834.3,1932.6 836.6,1878.6 838,1889.6 839,1883.2 840,1862.9 843.8,1809.6 844.8,1798 846,1785.2 846.7,1688.1 847.9,1697.1 850.6,1735.4 851.9,1724.6 852.2,1764.4 855.2,1798 856.7,1831.2 857.1,1774.4 859.9,1718.9 861.1,1685.8 862.6,1688.9 864.5,1668.3 866.2,1685.3 869.7,1647.1 868.8,1642.2 871.9,1657.9 873.8,1750.2 876.4,1785.6 877.4,1832.9 878.5,1807.3 880.9,1758.4 881.9,1701.7 883.4,1720.4 885.6,1717.8 887.9,1764.5 890.9,1782.7 890.9,1800.3 892.7,1801.3 894.1,1821.7 897.1,1806.8 899.3,1822.8 899.6,1815.5 901.7,1876.6 904.5,1905.5 904.6,1912.7 907.3,1907 908.4,1935.3 911.7,1931.2 912.8,1948.5 915.2,1953.5 915.7,1956.8 917.8,1923.8 921.3,1945.8 921.5,1939.6 923.6,1904.1 925.1,1835 926.4,1822.8 927.2,1827.4 930,1870.5 930.5,1869.5 933.1,1821.2 934.9,1760.9 936.4,1725.8 937.1,1719.3 939.2,1765.6 939.4,1758.8 941.2,1759 943.7,1762 945.5,1755.9 947.1,1764.7 948,1826.5 950.5,1837.2 952.8,1859.8 952.8,1855 956.5,1882.6 958.1,1870.7 961.2,1900.3 961.3,1901.7 963.6,1841.8 964.4,1769.7 964.4,1775.9 967.8,1850.3 970.2,1923.4 969.6,1899.6 972.4,1875.9 974.4,1837.1 974.7,1847.2 977,1856 979.9,1865.1 981.7,1874.6 982.4,1889.6 984.7,1855.9 986.2,1843.6 987.5,1827.3 989.1,1840 990.5,1824.9 993.7,1842.3 996,1833 997.3,1837.2 997.5,1833.6 1000.2,1923 999.8,1912 1003.5,1924.6 1005.6,1923.1 1008.1,1931.5 1010.3,1916 1011,1926.7 1012.9,1883.1 1012.7,1858.6 1014.2,1857.2 1017,1866.4 1018.6,1858.2 1022.3,1862.1 1022.5,1893.4 1023.3,1910.8 1026,1918.3 1028.5,1936.8 1030.3,1934.5 1030.8,1936.3 1033.1,1889.4 1035.7,1868.6 1036.6,1845.8 1037.8,1831.6 1039.7,1710.8 1041,1675.2 1042.9,1671.9 1045.8,1692.3 1047.7,1700.6 1049.6,1726.3 1050,1713.6 1052.6,1787.3 1054.8,1817 1057.3,1889.6 1056.3,1876.3 1058.7,1821.9 1059.9,1819.6 1061,1873.3 1063.8,1884.7 1065.4,1911.5 1065.8,1897.1 1068.6,1891.1 1070.3,1854.5 1072.7,1845.2 1073.7,1903.3 1075.7,1892.7 1077.5,1866.5 1079.7,1861.7 1082.7,1835.9 1085.4,1815.1 1085,1860.1 1087.8,1847.4 1090,1780.3 1091.5,1802.8 1092,1718 1093.7,1501.3 1096.2,1307.4 1096.8,1337.4 1096.5,1351.1" fill="none" stroke="#4e7b2e" stroke-width="2.6" stroke-linejoin="round"/>
<polyline points="207.4,1295.2 207.1,1341.5 210.2,1428 212,1759.5 213.9,1837.7 214.5,1866.1 216.1,1900.3 216.6,1906.8 219.1,1839 221.5,1898.1 223.9,1837 226.4,1887.4 226.7,1876.7 228.7,1862.3 231.2,1806.7 233,1783.9 233.7,1768.5 235.6,1833.8 235.5,1818.6 238.5,1773.7 240.7,1674.5 242.1,1631.7 242.5,1636 244.6,1660.3 247.2,1650.9 248.8,1786.6 250.1,1759.3 251.9,1738.9 254,1685.5 256.4,1667.5 257.4,1633.6 259.3,1775.3 260,1779.7 261.2,1776.7 264.2,1721.9 266.4,1730.6 268.8,1709.3 268.4,1745 270.9,1760.3 272.3,1844.8 273.4,1834.6 276.1,1862 278.1,1847.6 280.1,1879.5 281,1874.9 282.9,1887.6 284.7,1877.5 287.6,1904.7 288.1,1900.2 289.6,1858 292.4,1714.1 294.7,1668.5 294.4,1646.2 296.2,1871.2 296.7,1841.6 299,1842 301.8,1732.2 303.6,1701.1 303.4,1708.8 305.6,1780.5 308.6,1802.8 310,1832.3 311.2,1836.3 313.4,1863 314.5,1861.5 315.2,1864.4 318.3,1837.9 320.4,1846.3 322.8,1813.6 323.1,1831.9 325.2,1775.1 326.8,1723.5 329.7,1662.4 330,1677.6 331.6,1665 334.1,1692 335.7,1681.5 336.7,1768.1 338.1,1862.7 339.5,1860.3 341.2,1832.6 344,1832.7 346.2,1802.8 348.5,1800.3 348.6,1790.8 350.6,1743.4 350.9,1731.6 353.2,1750.4 355.4,1764.3 357.9,1785.5 357.7,1764.4 360,1716.8 362.1,1646.9 362.1,1673.4 365.1,1686.5 366.8,1752.9 368.2,1765.9 369.5,1734.7 370.5,1660 371.5,1639.5 374,1590.4 376.8,1562.6 377.2,1534.3 379.3,1584.3 381,1605.8 383.3,1708.6 384.3,1702.2 386,1676 388.5,1603.4 388.6,1617.5 390.8,1684.3 392.6,1766.6 392.9,1689.8 394.8,1425.8 394.9,1418.7 397.9,1432.8 400.3,1369.4 401.1,1352.3 402.2,1397.9 405.2,1522.3 405.4,1809 407.6,1839.7 409.5,1852.3 411.9,1901.7 414.5,1904 414.3,1927.7 416.3,1869.3 418.7,1919.9 420.9,1882.6 423.6,1900.3 423.3,1847.3 425.5,1854.4 428.2,1748 430.9,1749 432.1,1688.3 432.9,1751.3 435.7,1801.9 436.2,1869.6 437.3,1747.1 438.6,1697.1 440.4,1699 442.6,1780.1 444.9,1781.8 444.7,1806.3 446.7,1651.4 448.8,1548.1 449.7,1543.2 451.7,1559.8 453.9,1537.2 456.6,1546.4 458.3,1772.6 458.8,1776 460.8,1702.7 462.5,1714.4 463.2,1747.9 465.4,1836.6 467.7,1890.4 469.3,1930.6 470.1,1898.9 472.5,1916.9 475.4,1881 477.6,1881 479.4,1860.1 479.5,1861.2 482,1776.2 484.3,1745.7 484.1,1698.3 487,1634.6 488.6,1498.6 489.5,1556.1 491.6,1562.5 493,1595.3 493.8,1614.8 495.9,1696.7 498.3,1706.2 501.1,1744.2 501.4,1765.8 501.4,1909.5 503.1,1909.8 506.2,1924 506.9,1918.9 507.8,1929.7 508.3,1918.9 510,1890.9 512.6,1812 514.9,1810.4 516.3,1778.1 517,1867 518.2,1881.7 519.4,1845.9 521.7,1726.4 525,1692.7 524.4,1666 526.8,1889.6 526.4,1889.5 529.4,1860 531.3,1743 533.1,1729.6 534.4,1727.7 536,1895.7 535.8,1857.7 538.5,1893.3 540.6,1860.3 543.2,1883.7 544.4,1873.9 545.3,1804.4 548.1,1630.5 549.2,1601.5 550.2,1686 551.2,1726.5 552.6,1526.2 553,1518 554.8,1526.5 557.7,1551.6 559.9,1553.5 560,1573.5 562.4,1527.4 563.6,1506.6 564,1515 565.6,1661.6 566.3,1624.3 569.6,1550 570,1461.1 571.9,1501 573.9,1533.9 575.9,1629 577.1,1788.1 578.5,1812 580.7,1822 582.9,1879 585.1,1879.2 585.7,1906.5 587.9,1841.7 590.1,1809.5 592.4,1737.8 593.1,1753.1 594.1,1798.3 595,1800.4 597.6,1734.7 599.7,1710.3 600.6,1663.1 601.6,1717.2 604,1754.1 605.6,1835 606.4,1837.9 609.2,1857.9 611.1,1856 613.6,1883.4 614.5,1873.8 616.2,1891.2 618.3,1878.1 618.5,1899.2 620.8,1734.9 623.2,1616.9 622.7,1618.5 625.4,1684.5 627.9,1667.5 630,1712.4 631.5,1844.1 632.2,1849.6 634.4,1818.8 637.4,1847.3 638.1,1846.7 639.2,1710.5 640.6,1610.1 641.6,1653.2 644.5,1678.3 646.4,1753.3 648.7,1789.5 648.7,1802.1 651.5,1735.9 651.6,1744.7 653.7,1765.5 656.2,1833.7 658.4,1841.2 659.5,1867.6 661.1,1835.3 663,1788.5 664.6,1758.4 665.7,1745.3 667.7,1719.1 668.4,1726 670.3,1592.7 672.4,1481.4 672.6,1403.4 674.9,1401.7 676.9,1384.1 676.9,1382.3 679.8,1444.2 682,1507.6 681.8,1503.3 683.8,1628.9 685.7,1678.8 686.7,1690.8 688.5,1604.8 690.3,1575.9 691.3,1605.6 692.7,1696.8 693.7,1681.5 696.3,1649.3 698,1608.7 698.9,1603.1 700.6,1645.4 701.5,1677.7 702.9,1508.9 705.4,1389.2 705.5,1320.3 708.1,1771.3 707.5,1767.8 709.5,1815.5 711.9,1798 714.2,1901.2 716.1,1928.5 716.7,1932.4 718.9,1835.2 721.3,1887.2 724.4,1796.7 726.3,1849.3 727,1831.8 729,1717.5 729.3,1579.8 730.6,1680.3 733.3,1691.6 736.2,1843.8 736.2,1837.7 737.9,1660.2 738.3,1608.9 740.3,1707.7 743.2,1708 745.3,1792.1 745.5,1751.5 747.4,1650.6 750.3,1461.1 751.6,1387.9 752,1460.3 753.9,1766.5 754.8,1712.1 756.9,1761.9 759.2,1687.7 761.8,1708.1 762,1688.1 763.7,1772.7 766.2,1790.5 766.5,1834 769.1,1824.6 771.1,1906.1 773.7,1937.4 773.1,1939.4 775.9,1899 777.9,1903.1 780,1844.4 782.3,1862.1 782.8,1813.1 785.1,1841.8 787.8,1764.3 788.3,1814.9 789.5,1652.6 791.9,1507.3 793.3,1372.1 794.4,1414.8 796,1375.4 796.5,1566 798,1705.1 798.8,1712 801.7,1680.7 801.5,1706 803.9,1587 805.7,1526.4 806.4,1526.9 806.8,1533.2 808.5,1602.8 811.4,1751.3 811,1745.7 812.9,1719 815.5,1664.1 816,1676.1 818.3,1672.1 820.2,1701.7 821.5,1833.9 822.8,1849 824.8,1851.6 827,1888.1 830,1863.5 832,1931.1 833,1933.3 834.1,1929.9 836.3,1863.4 839.4,1881.9 839,1876.5 841.4,1858.7 844.3,1781 846,1787.5 846,1760.2 848.5,1633.6 848.8,1630.5 850.6,1689.3 851.9,1675.2 853.7,1722.6 855.6,1764.3 857.1,1818.5 857.7,1742.4 859.9,1663.1 861,1614.4 862.1,1624 864.5,1583.9 867.5,1613.8 869.3,1552.8 870,1559.1 871.7,1571.2 874.3,1704.5 877.1,1751.5 878.3,1824.4 878.5,1794.9 881.6,1720 883.2,1638.3 883.4,1664.8 885.9,1666.8 888.1,1743.1 891.3,1764.1 891.8,1793.2 892.8,1783 895,1799.1 897.8,1783.1 900.2,1797.4 900,1786.6 902.3,1862.5 904.2,1899.7 904.9,1903 907.1,1891.1 909.4,1924.9 912.2,1920.2 914,1949.4 915.6,1949.7 916.6,1953.8 918.8,1920.5 921.6,1940.3 922.6,1926.8 923.9,1893 926.2,1791.3 926.8,1787.9 928.8,1797.6 930.9,1867.6 930.7,1856 933.1,1809.2 935.8,1726.3 937,1685.3 937.9,1687.7 939.7,1744.3 939.9,1738.7 942.3,1742.9 945.1,1729.8 946,1726.2 947.1,1734.1 949.1,1807.3 952,1815.2 952.6,1854.9 954.2,1836.4 956.2,1879.5 958.4,1858.8 961.1,1899.3 961.6,1887.8 964,1809.5 965.9,1697.5 965.6,1717.1 968,1818.9 969.7,1919.3 970.4,1882.6 973.1,1846 974.4,1794.3 975.4,1814.9 977.9,1821.9 980.2,1849.4 982.7,1859.2 983,1878.2 984.6,1833.9 986.8,1819.9 987.4,1790.8 989.1,1814.7 991.8,1790.1 993.7,1808.8 996,1796.9 998.6,1797.6 998.5,1793.3 1000.8,1912.5 1000.7,1897.2 1003.4,1919 1006.1,1916.6 1008,1927.4 1010.7,1910.5 1011.1,1920.6 1012.4,1855.7 1014.2,1832 1015.2,1825.4 1017.6,1838.7 1020.2,1832.9 1022.7,1850.2 1022.6,1883.7 1024.5,1905.5 1026.6,1907.2 1029.6,1926.2 1031.1,1936.6 1032,1930.2 1034,1874.9 1036.2,1861.8 1037.3,1837.4 1038.3,1817.9 1041,1640.9 1041.7,1584.5 1042.9,1587.6 1045.5,1614.5 1048,1624.7 1050.5,1665.2 1051.2,1638.7 1053.2,1736.1 1055.6,1787.3 1057.6,1881.3 1057.1,1865.7 1059.9,1792.1 1059.6,1784.8 1062.6,1852.8 1064.7,1863.8 1065.8,1909.2 1066.5,1878.6 1069.6,1882.7 1071.4,1828.2 1073.6,1811.2 1075.2,1897.5 1076.2,1889.3 1078.3,1841 1081.4,1846.7 1083.6,1801.6 1085.7,1793.2 1086,1855 1088.3,1838.1 1090,1753.6 1092.7,1787.9 1092.5,1687 1095.3,1448.8 1096.5,1219 1097.1,1286.6 1098.2,1313.1" fill="none" stroke="#57523d" stroke-width="2.8" stroke-linejoin="round"/>
<polyline points="206.5,1333.1 206.1,1383.4 208.9,1473.4 211.3,1772.3 212.8,1833 213.1,1865.3 215.2,1899.7 215.7,1906.7 217.8,1850.3 220.6,1893.9 222.8,1844.1 224.7,1889.7 225.9,1877.6 227.5,1861.8 229.7,1812.9 232.2,1795.6 232.4,1778.5 234.9,1837 234.2,1826 236.6,1781.8 239.7,1690.3 240.5,1658.3 241.3,1654.7 244,1677.2 246.4,1668 247.9,1787.6 248.5,1760.7 250.7,1747.1 253.4,1695.4 255.9,1686.3 256.5,1653.3 258.3,1771.5 258.1,1786 259.9,1780.7 262.4,1734.2 264.8,1743 266.6,1722.9 267.5,1748.8 269.7,1775.3 271.6,1846.7 271.6,1838.8 274.1,1859.8 277.1,1852.2 278.7,1879.4 279.7,1878.1 281.5,1886.3 283.9,1881.7 286.6,1908.2 287.1,1902.3 288.6,1863.1 291,1731.6 292.8,1692.8 293.2,1676.8 295.9,1877 295.6,1849.2 298.3,1842.2 300.6,1749.6 301.8,1722.6 302.3,1730.5 305.1,1790.4 306.8,1810.2 309,1832 309.3,1832.6 311.8,1856.1 312.4,1865.1 313.8,1859 316.4,1834.8 318.9,1850.2 321.1,1814.4 321.6,1836 324.1,1784.2 325.9,1740.3 328.2,1686.6 328,1693.4 331,1697.1 333,1720 335,1707.5 335.3,1774 336.8,1860.5 337.7,1863.7 339.9,1828.8 342.6,1831.8 345.2,1806.7 346.7,1804.5 347.6,1791.3 349.2,1754.2 350,1736.1 351.6,1754.9 354.1,1762.6 356.7,1786.5 356.3,1760.4 358.5,1725.1 360.4,1668.8 361.3,1689.2 363.2,1698.5 366,1757.3 367.7,1770.4 368,1742.9 369.5,1672.9 370.8,1654.2 372.7,1611.1 375.6,1589 375.7,1559.6 377.8,1609.7 379.6,1628.1 382.9,1714.9 382.4,1703.5 385.1,1679.3 387.5,1617.7 386.6,1628.5 389.2,1692.8 391.2,1770.5 392.2,1700.2 393.2,1468.5 394.6,1463.8 396.7,1483.7 398.6,1412.5 400.5,1403.6 401.5,1444.4 404,1553.8 404.7,1814.5 405.4,1834.2 407.7,1850 410.3,1902.7 412.6,1909.3 412.9,1931 415.7,1879.9 417.8,1925 420.3,1886.2 421.8,1899.9 422,1859.1 424.6,1857.8 426.5,1765.7 429.3,1769.8 430.6,1711.9 431.5,1765.7 433.7,1816.4 435.1,1870.2 436.2,1766.5 436.7,1717.1 438.9,1715.8 440.8,1789.1 443.3,1789.9 443.7,1805.1 445.5,1675.8 447.7,1581.5 448.1,1579.5 450.5,1586.5 453,1564.7 455.2,1575.6 457.2,1770.8 457.8,1771.6 460.1,1716.2 461.6,1731.7 462.1,1756.3 464.6,1841.7 466.5,1901.2 467.9,1937.4 469.3,1898.9 471.3,1918.2 473.6,1881.8 475.9,1886.1 479,1860.9 478.9,1869.7 481,1777.7 482.9,1747.8 483.3,1701.8 485.3,1651.7 487,1537.7 488.1,1592.2 490.2,1599.6 491.6,1621.5 492.4,1647.5 494.8,1716 497.7,1726 500,1765.2 500.1,1788.4 500.2,1910.8 501.8,1912.7 504.4,1927.5 506.3,1926.2 506.4,1926.3 506.7,1924.8 509.5,1889.4 511.1,1827.2 513.9,1821.3 514.3,1792.1 516.1,1873.3 517.4,1885.1 518.9,1847.2 521.4,1753 523.4,1717.6 523.4,1693.2 525.9,1894.4 525.2,1889.9 527.6,1864 529.9,1762.8 531.9,1753.4 533,1747.5 534.9,1899.1 534.7,1868 537.6,1898.6 540,1864 542,1883.9 543.1,1881.4 544.2,1810.2 547,1650.5 547.5,1624.1 549.5,1692.2 549.6,1721.7 551.2,1549.7 551.6,1548.1 553.9,1557.4 556.1,1573.7 558,1579.7 558,1592.1 560.4,1547.9 563.2,1531.6 563.7,1530.3 565.3,1654.9 565.2,1630.8 567.5,1571.3 569.3,1499.4 569.9,1528.4 572.8,1568.3 574.6,1644.2 575.5,1791.4 577,1812.4 579.7,1826.4 581.5,1873.4 584.8,1883.6 584.9,1901.2 586.3,1843.2 588.7,1820.6 591.2,1756.2 591.5,1765.2 593.4,1801.8 593.5,1803 595.6,1743.9 598.4,1726.3 599.4,1682.7 600.4,1730 603.4,1769.3 603.7,1829.6 605.9,1838.4 608.3,1861.2 610.6,1857 612.3,1880 613.1,1876.2 615,1893.4 617.2,1882.2 617.4,1900.1 619.8,1748.9 621.4,1653.2 621.5,1651.9 623.8,1709.5 626.3,1688 629,1724.7 629.9,1840.9 630.8,1847.2 633.7,1824.6 635.8,1847.6 637,1845.2 638.2,1731.2 639,1647.5 640.4,1672.5 642.8,1695.4 645.8,1759.3 648.1,1793 647.7,1799.1 649.8,1746.4 650.1,1756.2 652.1,1778.4 654.7,1833.3 656.9,1841.7 658.8,1864.4 659,1843.6 662.2,1797.9 663.3,1759.3 664.4,1750.5 666.9,1723.9 667.8,1726.2 669.2,1614.5 670.8,1511 671.5,1451.9 674,1444.3 676.4,1425.5 675.8,1425.5 677.9,1478.9 680.7,1537.6 680.2,1533.8 683.2,1637.2 684.4,1677.4 685.1,1686.1 687.5,1620.4 688.8,1588.9 690.4,1618.6 691.1,1690.1 692.4,1683.7 695.1,1655.1 696.8,1615.2 698.3,1611.5 699.2,1648.8 700.5,1679.1 702.2,1537.7 703.8,1440.9 704.6,1365.2 705.9,1771.3 706.2,1764.3 709,1810.3 711,1802.7 713.1,1905.5 715.1,1932.6 715.9,1929.3 718.5,1849.9 720.2,1892.3 722.8,1805.3 725.3,1851.5 726,1835.1 727.4,1731.3 728,1611.4 730.4,1699.9 732.1,1716.6 734.1,1835.2 734.7,1831.1 736.8,1685.8 737.1,1637.4 739.3,1722.7 741.9,1718.8 743.6,1790.8 743.7,1754.7 745.9,1667.7 748.5,1506.7 750.2,1437.4 751.4,1500.9 752.5,1768.1 753.4,1719.1 756.1,1760.3 757.7,1704 760.3,1716.2 761.1,1709 762.7,1779.6 764.8,1791 765.6,1831.1 767.4,1825.5 769.9,1907.5 772.1,1932.4 772.3,1944.2 774.2,1897.2 776.4,1902.5 779.5,1841.3 780.8,1865.1 781.9,1816.8 783.9,1840.2 786.6,1773.3 787.3,1810 788.5,1674.1 791.4,1550.4 791.5,1417.6 793.7,1460.9 794.1,1419.9 795.2,1589.7 796.6,1705.5 797.7,1713.6 800.5,1686.6 800.5,1705.3 802.5,1598.8 805.2,1553.6 805.5,1555.2 805.6,1553.6 807.2,1622 809.8,1753.1 810.1,1751.2 811.8,1729.2 814.4,1683.5 814.7,1691.1 817.1,1692.4 819.1,1717.9 820.3,1833.8 821.1,1851.1 824.3,1854.2 826.1,1895.8 828.8,1873.4 831.2,1931.5 831.6,1931.8 833.4,1922 835.5,1871.7 838,1882.3 838.2,1878.4 840.4,1857.3 842.9,1789.1 844.6,1786.9 845.3,1765.3 846.7,1657.4 847.3,1656.8 849.6,1700.7 851.2,1692.2 852,1738.4 854.8,1777.4 855.5,1818.1 856.3,1756.1 858.9,1691.7 860,1641.4 861.4,1653.4 863.7,1615.1 866.2,1647.1 868.8,1590.7 868.3,1593.5 870.6,1606.8 872.9,1724.7 875.9,1758.2 877.3,1826.2 877.6,1796.6 880,1733.1 881.4,1659.6 882.1,1681.3 885.1,1683.6 887.1,1751.6 889.7,1768.7 890.1,1787.3 891.5,1791 894.2,1803.2 896.4,1793.9 898.6,1808.7 899.2,1794.4 901.3,1859.1 903.4,1899 903.5,1903.1 906,1893.9 908.5,1925.8 910.6,1918.4 913.2,1946.4 914.3,1943.8 915.2,1948.4 917.9,1922.2 920.3,1941.7 920.7,1933.8 922.6,1892.2 925.1,1806.4 925.2,1803.1 927.1,1806.7 929.5,1864.9 929.6,1856.4 931.8,1809.7 934.3,1736.7 935.7,1696.7 936.9,1702.2 938.3,1744.4 939,1740 941.6,1739.5 943.4,1739.1 945.2,1734.6 946,1743.5 947.9,1812.3 950.2,1817.6 951.9,1858.9 953.2,1840.1 955.6,1874.7 957.3,1864.4 959.9,1896 960,1886.7 961.9,1825.1 964.5,1724.8 964.5,1746.8 966.8,1831.4 969.4,1918.1 969.2,1890.1 971.7,1862 973.7,1813 973.8,1827.8 976.4,1834.2 979,1858.2 981.2,1858.6 981.6,1882.6 983.3,1836.9 985.8,1825.7 986.1,1803.2 987.7,1828.7 990.7,1807.4 993.3,1816.7 995.5,1806.7 997.1,1811 997.1,1814.6 999.2,1914.4 999.8,1896.1 1002.2,1918.7 1004.6,1916.2 1007.4,1923.4 1009,1908.6 1010.1,1925 1011.9,1867.1 1012.7,1843.7 1013.7,1837.6 1016.7,1851.5 1018.9,1835.7 1021.3,1856.3 1021.1,1889.2 1023.7,1907.5 1025.7,1909.8 1027.8,1927.5 1030.1,1930.5 1030,1929.9 1032.5,1877.6 1035.5,1861.5 1036,1834.8 1037.5,1826.6 1039.4,1664.5 1040.8,1622.5 1042.6,1631.2 1044.9,1648.9 1046.5,1656.7 1049.1,1690.4 1049.3,1675.1 1051.2,1758.3 1054.4,1797.2 1055.8,1876.9 1055.8,1867 1058.2,1800.3 1058.9,1796.2 1060.6,1859 1063.7,1871 1064.9,1907.5 1065.7,1887.2 1067.5,1884.9 1070.2,1837.8 1072.5,1823.3 1073.8,1894.5 1075.1,1892.6 1077.4,1852.3 1079.9,1851 1081.8,1808.5 1084.1,1805 1084.9,1857.3 1086.4,1836.6 1088.8,1766.2 1091,1792 1091.8,1693.1 1094.1,1465.2 1095.8,1244 1096.1,1295.7 1096.7,1312.1" fill="none" stroke="#8b5e12" stroke-width="2.6" stroke-linejoin="round"/>
<polyline points="206.8,1807.6 209.1,1805.8 211.5,1799.9 213.8,1806 216.2,1800.7 218.5,1786.1 220.9,1795.8 223.2,1776.2 225.6,1769.1 227.9,1770.9 230.3,1771.5 232.6,1785.5 235,1773.8 237.3,1794 239.7,1796.1 242,1798.3 244.4,1804.8 246.7,1818.1 249.1,1800.1 251.4,1798.9 253.8,1789.3 256.1,1789.6 258.5,1797.5 260.8,1791.1 263.2,1782 265.5,1780 267.8,1776 270.2,1775 272.5,1772 274.9,1770.7 277.2,1769.5 279.6,1762.4 281.9,1777.1 284.3,1768.3 286.6,1769.6 289,1787.2 291.3,1785.7 293.7,1810.1 296,1821 298.4,1817.8 300.7,1808 303.1,1812.9 305.4,1803.6 307.8,1808.3 310.1,1812.7 312.5,1799.1 314.8,1811 317.2,1836.8 319.5,1859.1 321.9,1881 324.2,1888.9 326.5,1890.6 328.9,1905.3 331.2,1890.8 333.6,1881.3 335.9,1864.4 338.3,1863.2 340.6,1849.6 343,1834.4 345.3,1820 347.7,1817.2 350,1806.8 352.4,1806.5 354.7,1809.2 357.1,1800 359.4,1807.9 361.8,1802.1 364.1,1826.6 366.5,1833.6 368.8,1831 371.2,1842 373.5,1847.1 375.9,1830.8 378.2,1814.3 380.6,1809.8 382.9,1805.4 385.2,1807.5 387.6,1800.1 389.9,1806.6 392.3,1815.9 394.6,1818.4 397,1828.5 399.3,1834.1 401.7,1833.8 404,1824 406.4,1817.1 408.7,1797.9 411.1,1791.1 413.4,1779.3 415.8,1775.9 418.1,1766.9 420.5,1761.3 422.8,1773.4 425.2,1774.8 427.5,1790.4 429.9,1790.4 432.2,1797.5 434.6,1798.3 436.9,1818.9 439.3,1811.5 441.6,1813.7 443.9,1822.6 446.3,1826.3 448.6,1828.3 451,1825.7 453.3,1809.1 455.7,1789.8 458,1795 460.4,1768.3 462.7,1772.7 465.1,1769 467.4,1755.2 469.8,1753.3 472.1,1743.8 474.5,1755.2 476.8,1773.7 479.2,1779.7 481.5,1777.2 483.9,1785.7 486.2,1778.4 488.6,1787.3 490.9,1780.7 493.3,1771.5 495.6,1771.5 498,1768.8 500.3,1764 502.6,1765.4 505,1752.4 507.3,1761.7 509.7,1765.1 512,1753.6 514.4,1761.3 516.7,1767 519.1,1771.4 521.4,1773.7 523.8,1765.7 526.1,1773.3 528.5,1766.2 530.8,1773.9 533.2,1770.2 535.5,1772.6 537.9,1779.5 540.2,1775.5 542.6,1801.3 544.9,1818.5 547.3,1833.3 549.6,1862.7 552,1867.3 554.3,1881.8 556.7,1896.2 559,1921.3 561.3,1906.9 563.7,1886.9 566,1876.7 568.4,1861.2 570.7,1853.2 573.1,1838.4 575.4,1836.3 577.8,1841.8 580.1,1823.7 582.5,1821 584.8,1808.9 587.2,1795.6 589.5,1788.1 591.9,1783.8 594.2,1776 596.6,1774.1 598.9,1759.8 601.3,1756.3 603.6,1763.3 606,1772 608.3,1769.6 610.7,1763.5 613,1771.7 615.4,1778.6 617.7,1764.5 620,1770.9 622.4,1765 624.7,1770.6 627.1,1775.5 629.4,1768.6 631.8,1766.7 634.1,1774.9 636.5,1790.1 638.8,1778.6 641.2,1789.2 643.5,1793.3 645.9,1793.3 648.2,1792.4 650.6,1781.7 652.9,1775.6 655.3,1764.4 657.6,1773.5 660,1780.9 662.3,1777 664.7,1783.2 667,1821.5 669.4,1834.3 671.7,1863.7 674.1,1849.2 676.4,1827.1 678.7,1807 681.1,1814.4 683.4,1805.5 685.8,1796.2 688.1,1781.9 690.5,1787 692.8,1789.2 695.2,1783.2 697.5,1790.1 699.9,1793.9 702.2,1795.4 704.6,1807.4 706.9,1801.8 709.3,1783.2 711.6,1765.7 714,1753.2 716.3,1748.8 718.7,1751.5 721,1762.1 723.4,1751.4 725.7,1751.3 728.1,1768.9 730.4,1758.5 732.8,1772.2 735.1,1785.4 737.4,1782.7 739.8,1774.4 742.1,1781.3 744.5,1790.9 746.8,1791.2 749.2,1782 751.5,1816.1 753.9,1856.4 756.2,1830.7 758.6,1810.1 760.9,1793.4 763.3,1781.5 765.6,1780.9 768,1759.1 770.3,1758.7 772.7,1745 775,1755.3 777.4,1752 779.7,1757.8 782.1,1784.3 784.4,1813.9 786.8,1834.6 789.1,1841.4 791.5,1853.6 793.8,1857.5 796.1,1860.8 798.5,1854.2 800.8,1840 803.2,1813.4 805.5,1804.4 807.9,1799.1 810.2,1791.2 812.6,1777.8 814.9,1787.2 817.3,1776 819.6,1773.7 822,1770.7 824.3,1751.3 826.7,1741.3 829,1758.7 831.4,1765 833.7,1757.5 836.1,1771.2 838.4,1784.5 840.8,1786 843.1,1790.2 845.5,1804 847.8,1787.3 850.2,1794.3 852.5,1791.2 854.8,1806.5 857.2,1800.4 859.5,1798.9 861.9,1816.9 864.2,1824.7 866.6,1824 868.9,1837.5 871.3,1829 873.6,1842.2 876,1852.4 878.3,1841.9 880.7,1848.1 883,1842.7 885.4,1825.5 887.7,1796.9 890.1,1781.2 892.4,1758.5 894.8,1757.5 897.1,1760.2 899.5,1746.2 901.8,1753 904.2,1738.5 906.5,1744 908.9,1749.4 911.2,1753.9 913.5,1758.2 915.9,1751.1 918.2,1757.6 920.6,1770.1 922.9,1776.7 925.3,1779 927.6,1770.5 930,1782.2 932.3,1781.3 934.7,1779.2 937,1776.5 939.4,1785.4 941.7,1775.5 944.1,1789.4 946.4,1784.1 948.8,1788.7 951.1,1784 953.5,1778.5 955.8,1776.6 958.2,1778.8 960.5,1771 962.9,1768.9 965.2,1771 967.6,1758.3 969.9,1767.1 972.2,1757.7 974.6,1751.6 976.9,1746.7 979.3,1746.2 981.6,1746 984,1743.3 986.3,1751.1 988.7,1767.6 991,1771.8 993.4,1768.6 995.7,1765.7 998.1,1757.8 1000.4,1760 1002.8,1756.1 1005.1,1753.8 1007.5,1751.3 1009.8,1761.9 1012.2,1768.4 1014.5,1767.9 1016.9,1768.6 1019.2,1759 1021.6,1763.3 1023.9,1769 1026.3,1764 1028.6,1766.4 1030.9,1766.7 1033.3,1766.2 1035.6,1791.7 1038,1802 1040.3,1830.2 1042.7,1842.9 1045,1836.6 1047.4,1831.7 1049.7,1815.1 1052.1,1796.3 1054.4,1777.3 1056.8,1774 1059.1,1785.2 1061.5,1782.8 1063.8,1783.6 1066.2,1787.1 1068.5,1774.8 1070.9,1792.4 1073.2,1797.2 1075.6,1788.1 1077.9,1790.2 1080.3,1804.1 1082.6,1790.9 1085,1793.4 1087.3,1798.6 1089.6,1791.2 1092,1802.5 1094.3,1800.5 1096.7,1819.1" fill="none" stroke="#9e2a52" stroke-width="2.6" stroke-linejoin="round"/>
</g>
<rect x="206.8" y="1186.8" width="889.5" height="843" fill="none" stroke="#8c8c8c" stroke-width="4.5"/>
<rect x="199.8" y="1929.9" width="6" height="3" fill="#333"/>
<text class="t b" x="173.7" y="1940.4" font-size="25" fill="#333" stroke="#333" textLength="23.1" lengthAdjust="spacingAndGlyphs">0.8</text>
<rect x="199.8" y="1831.5" width="6" height="3" fill="#333"/>
<text class="t b" x="173.7" y="1842" font-size="25" fill="#333" stroke="#333" textLength="23.1" lengthAdjust="spacingAndGlyphs">1.6</text>
<rect x="199.8" y="1733.1" width="6" height="3" fill="#333"/>
<text class="t b" x="173.7" y="1743.6" font-size="25" fill="#333" stroke="#333" textLength="23.1" lengthAdjust="spacingAndGlyphs">2.4</text>
<rect x="199.8" y="1634.7" width="6" height="3" fill="#333"/>
<text class="t b" x="173.7" y="1645.2" font-size="25" fill="#333" stroke="#333" textLength="23.1" lengthAdjust="spacingAndGlyphs">3.2</text>
<rect x="199.8" y="1536.3" width="6" height="3" fill="#333"/>
<text class="t b" x="173.7" y="1546.8" font-size="25" fill="#333" stroke="#333" textLength="23.1" lengthAdjust="spacingAndGlyphs">4.0</text>
<rect x="199.8" y="1437.9" width="6" height="3" fill="#333"/>
<text class="t b" x="173.7" y="1448.4" font-size="25" fill="#333" stroke="#333" textLength="23.1" lengthAdjust="spacingAndGlyphs">4.8</text>
<rect x="199.8" y="1339.5" width="6" height="3" fill="#333"/>
<text class="t b" x="173.7" y="1350" font-size="25" fill="#333" stroke="#333" textLength="23.1" lengthAdjust="spacingAndGlyphs">5.6</text>
<rect x="199.8" y="1241.1" width="6" height="3" fill="#333"/>
<text class="t b" x="173.7" y="1251.6" font-size="25" fill="#333" stroke="#333" textLength="23.1" lengthAdjust="spacingAndGlyphs">6.4</text>
<rect x="1097.3" y="1939.3" width="6" height="3" fill="#333"/>
<text class="t b" x="1107.3" y="1949.8" font-size="25" fill="#a0335c" stroke="#a0335c" textLength="32.3" lengthAdjust="spacingAndGlyphs">0.25</text>
<rect x="1097.3" y="1850.3" width="6" height="3" fill="#333"/>
<text class="t b" x="1107.3" y="1860.8" font-size="25" fill="#a0335c" stroke="#a0335c" textLength="32.3" lengthAdjust="spacingAndGlyphs">0.50</text>
<rect x="1097.3" y="1761.3" width="6" height="3" fill="#333"/>
<text class="t b" x="1107.3" y="1771.8" font-size="25" fill="#a0335c" stroke="#a0335c" textLength="32.3" lengthAdjust="spacingAndGlyphs">0.75</text>
<rect x="1097.3" y="1672.3" width="6" height="3" fill="#333"/>
<text class="t b" x="1107.3" y="1682.8" font-size="25" fill="#a0335c" stroke="#a0335c" textLength="32.3" lengthAdjust="spacingAndGlyphs">1.00</text>
<rect x="1097.3" y="1583.3" width="6" height="3" fill="#333"/>
<text class="t b" x="1107.3" y="1593.8" font-size="25" fill="#a0335c" stroke="#a0335c" textLength="32.3" lengthAdjust="spacingAndGlyphs">1.25</text>
<rect x="1097.3" y="1494.3" width="6" height="3" fill="#333"/>
<text class="t b" x="1107.3" y="1504.8" font-size="25" fill="#a0335c" stroke="#a0335c" textLength="32.3" lengthAdjust="spacingAndGlyphs">1.50</text>
<rect x="1097.3" y="1405.3" width="6" height="3" fill="#333"/>
<text class="t b" x="1107.3" y="1415.8" font-size="25" fill="#a0335c" stroke="#a0335c" textLength="32.3" lengthAdjust="spacingAndGlyphs">1.75</text>
<rect x="1097.3" y="1316.3" width="6" height="3" fill="#333"/>
<text class="t b" x="1107.3" y="1326.8" font-size="25" fill="#a0335c" stroke="#a0335c" textLength="32.3" lengthAdjust="spacingAndGlyphs">2.00</text>
<rect x="1097.3" y="1227.3" width="6" height="3" fill="#333"/>
<text class="t b" x="1107.3" y="1237.8" font-size="25" fill="#a0335c" stroke="#a0335c" textLength="32.3" lengthAdjust="spacingAndGlyphs">2.25</text>
<rect x="205.3" y="2030.8" width="3" height="6" fill="#333"/>
<text class="t b" x="202.2" y="2062.8" font-size="25" fill="#333" stroke="#333" textLength="9.2" lengthAdjust="spacingAndGlyphs">0</text>
<rect x="322.7" y="2030.8" width="3" height="6" fill="#333"/>
<text class="t b" x="315" y="2062.8" font-size="25" fill="#333" stroke="#333" textLength="18.4" lengthAdjust="spacingAndGlyphs">50</text>
<rect x="440.1" y="2030.8" width="3" height="6" fill="#333"/>
<text class="t b" x="427.8" y="2062.8" font-size="25" fill="#333" stroke="#333" textLength="27.7" lengthAdjust="spacingAndGlyphs">100</text>
<rect x="557.5" y="2030.8" width="3" height="6" fill="#333"/>
<text class="t b" x="545.2" y="2062.8" font-size="25" fill="#333" stroke="#333" textLength="27.7" lengthAdjust="spacingAndGlyphs">150</text>
<rect x="674.9" y="2030.8" width="3" height="6" fill="#333"/>
<text class="t b" x="662.6" y="2062.8" font-size="25" fill="#333" stroke="#333" textLength="27.7" lengthAdjust="spacingAndGlyphs">200</text>
<rect x="792.3" y="2030.8" width="3" height="6" fill="#333"/>
<text class="t b" x="780" y="2062.8" font-size="25" fill="#333" stroke="#333" textLength="27.7" lengthAdjust="spacingAndGlyphs">250</text>
<rect x="909.7" y="2030.8" width="3" height="6" fill="#333"/>
<text class="t b" x="897.4" y="2062.8" font-size="25" fill="#333" stroke="#333" textLength="27.7" lengthAdjust="spacingAndGlyphs">300</text>
<rect x="1027.1" y="2030.8" width="3" height="6" fill="#333"/>
<text class="t b" x="1014.8" y="2062.8" font-size="25" fill="#333" stroke="#333" textLength="27.7" lengthAdjust="spacingAndGlyphs">350</text>
<text class="t b" x="566.5" y="2102.8" font-size="36" fill="#333" stroke="#333" textLength="170" lengthAdjust="spacingAndGlyphs">Residue Index</text>
<text class="t b" font-size="23" fill="#333" stroke="#333" textLength="162" lengthAdjust="spacingAndGlyphs" transform="translate(162.8,1608.3) rotate(-90)" x="-81" y="0">RMSF (Å)</text>
<g>
<text class="t b" font-size="26" fill="#a0335c" stroke="#a0335c" textLength="144" lengthAdjust="spacingAndGlyphs" transform="translate(1152,1610.3) rotate(90)" x="-72" y="0">B factor</text>
</g>
<text class="s" x="271.6" y="1282" font-size="89" textLength="65.4" lengthAdjust="spacingAndGlyphs" fill="#000">D</text>
<clipPath id="clipC"><rect x="1257.2" y="1186.8" width="895.4" height="839.5"/></clipPath>
<g clip-path="url(#clipC)">
<rect x="1275.8" y="1186.8" width="8" height="839.5" fill="#dcf3f9"/>
<rect x="1312.7" y="1186.8" width="31.2" height="839.5" fill="#fad5cb"/>
<rect x="1432.1" y="1186.8" width="15.6" height="839.5" fill="#fad5cb"/>
<rect x="1465.6" y="1186.8" width="6.6" height="839.5" fill="#dcf3f9"/>
<rect x="1481.5" y="1186.8" width="11.8" height="839.5" fill="#fad5cb"/>
<rect x="1519.7" y="1186.8" width="6.6" height="839.5" fill="#dcf3f9"/>
<rect x="1558.4" y="1186.8" width="6.6" height="839.5" fill="#dcf3f9"/>
<rect x="1583" y="1186.8" width="17.9" height="839.5" fill="#fad5cb"/>
<rect x="1632.6" y="1186.8" width="12.7" height="839.5" fill="#c5eaf4"/>
<rect x="1663.7" y="1186.8" width="17.9" height="839.5" fill="#fad5cb"/>
<rect x="1709" y="1186.8" width="8" height="839.5" fill="#c5eaf4"/>
<rect x="1735.2" y="1186.8" width="7.3" height="839.5" fill="#fad5cb"/>
<rect x="1765.5" y="1186.8" width="11.6" height="839.5" fill="#c5eaf4"/>
<rect x="1790" y="1186.8" width="8.3" height="839.5" fill="#fad5cb"/>
<rect x="1822.6" y="1186.8" width="9.9" height="839.5" fill="#c5eaf4"/>
<rect x="1881.4" y="1186.8" width="14.4" height="839.5" fill="#c5eaf4"/>
<rect x="1908.5" y="1186.8" width="15.1" height="839.5" fill="#fad5cb"/>
<rect x="1949.8" y="1186.8" width="43.2" height="839.5" fill="#fad5cb"/>
<rect x="2009.8" y="1186.8" width="7.8" height="839.5" fill="#fad5cb"/>
<rect x="2034.3" y="1186.8" width="5.9" height="839.5" fill="#dcf3f9"/>
<rect x="2054.6" y="1186.8" width="5.9" height="839.5" fill="#c5eaf4"/>
<rect x="2083.4" y="1186.8" width="10.2" height="839.5" fill="#c5eaf4"/>
<rect x="2113.9" y="1186.8" width="12.5" height="839.5" fill="#c5eaf4"/>
<rect x="1288.4" y="1188" width="6" height="838.3" fill="#0b660b"/>
<rect x="1292.8" y="1528.9" width="6" height="497.4" fill="#0b660b"/>
<rect x="1411.5" y="1415.5" width="4" height="610.8" fill="#66a666"/>
<rect x="1481.3" y="1679.3" width="4" height="347" fill="#66a666"/>
<rect x="1531.5" y="1664.1" width="4" height="362.2" fill="#66a666"/>
<rect x="1641.8" y="1489.6" width="4" height="536.7" fill="#66a666"/>
<rect x="1645.6" y="1681.5" width="5" height="344.8" fill="#1f7a1f"/>
<rect x="1652.7" y="1454.7" width="4" height="571.6" fill="#66a666"/>
<rect x="1657" y="1677.2" width="4" height="349.1" fill="#66a666"/>
<rect x="1669.2" y="1703.3" width="4" height="323" fill="#66a666"/>
<rect x="1783.5" y="1426.4" width="4" height="599.9" fill="#66a666"/>
<rect x="1780.8" y="1629.2" width="5" height="397.1" fill="#1f7a1f"/>
<rect x="1835.8" y="1596.5" width="4" height="429.8" fill="#66a666"/>
<rect x="1838.8" y="1646.6" width="5" height="379.7" fill="#1f7a1f"/>
<rect x="1939.6" y="1574.7" width="4" height="451.6" fill="#66a666"/>
<polyline points="1256.9,1469.8 1256.7,1518.1 1259.4,1498.5 1260.7,1514.8 1262.3,1533.7 1264.5,1733.6 1266.5,1829.4 1267.6,1887.8 1268.4,1866.8 1271.2,1920.9 1273.9,1898.8 1276.1,1951 1279.1,1960.5 1277.8,1959.5 1280.2,1880.8 1280.4,1897.6 1283.2,1897.8 1285.4,1902.3 1284.9,1905.3 1287.2,1894.2 1289.5,1867.4 1292.6,1875.3 1293,1867.7 1295.7,1844 1297.6,1770.3 1297.2,1762.1 1299.1,1770 1301.8,1845.1 1303.6,1850.6 1307.4,1908.1 1306.7,1888 1308.5,1765 1308.7,1769 1311.9,1871.9 1312.6,1913.4 1313.2,1914.6 1316.4,1894.6 1318.1,1905.4 1321.3,1876.1 1322.5,1890.6 1323.4,1862.5 1325.4,1891.1 1328.3,1865.1 1329.9,1875.3 1330.3,1877.9 1332.3,1864.4 1335.1,1843.6 1338.1,1847.4 1339.1,1827.2 1340.5,1835.1 1342.9,1739.4 1344.2,1715.9 1345.4,1658.8 1346.2,1661 1348.6,1629.5 1352.2,1639.2 1352.4,1601.6 1354.4,1648.2 1356.1,1645.8 1358.2,1735.6 1359,1727 1361.7,1752.3 1363.9,1755.2 1366.4,1795.6 1368.1,1790.4 1370.5,1833.1 1370.6,1795.3 1372.4,1802.7 1375.9,1761 1376.5,1753.4 1376.9,1707.6 1378.2,1685 1380.4,1705.1 1382,1759.8 1385,1786.5 1385.6,1808 1386.7,1763.1 1388.8,1720.8 1390,1716 1392,1749.7 1394.7,1765.4 1396.9,1840 1397.7,1848.5 1398.1,1857.9 1400.7,1866.2 1404,1889.8 1406.6,1881.2 1407.8,1919 1410.6,1915.8 1410.7,1941.5 1413.4,1898.6 1415.7,1879 1417.9,1838.7 1420.1,1808.2 1419.7,1811 1422.4,1719.2 1422.1,1714 1424.2,1743 1427.7,1744.5 1428.1,1769.6 1429.1,1710.6 1431.3,1662.8 1431.8,1666 1433.5,1683.7 1436.4,1686 1437.5,1700.8 1439.6,1715.4 1440.6,1783.9 1441.4,1783.5 1443.6,1764.9 1446,1716.4 1447.7,1701.2 1450.3,1618.5 1453,1609.4 1452.8,1610 1454.9,1768.1 1457.8,1794.3 1459.3,1890.3 1459.5,1869.4 1462.9,1915.3 1464.7,1882.5 1466.8,1953.6 1467.9,1953.2 1470.4,1953.6 1471.7,1911.5 1474.2,1942.1 1476.1,1891.8 1477.1,1925 1478.8,1865 1481.2,1905.5 1483.4,1864.5 1486.6,1879.6 1487,1870 1489.3,1865.7 1490.3,1820.3 1493.8,1819.6 1494,1808 1495.2,1780.7 1497.8,1626.9 1499.3,1620.7 1500.8,1657.4 1502.8,1720.7 1505.4,1740.2 1507.8,1784.2 1507.5,1787.6 1509.1,1836 1511.5,1845.8 1512.2,1862.7 1513.9,1863.9 1516.6,1910.2 1519.2,1880.3 1521,1957.8 1522.4,1959.1 1523.8,1959.2 1526.2,1922 1528.4,1912.1 1530.7,1883.9 1531.3,1890.5 1533.2,1825.3 1536.4,1786.4 1537.4,1733.7 1538.1,1738.5 1539.7,1574.5 1542.6,1526.4 1542.4,1526.8 1545.9,1585.1 1547.1,1568.9 1548.4,1577.4 1549.5,1579.9 1550,1581 1551.9,1656.9 1555.3,1741.2 1555.2,1930.9 1557.6,1942.8 1559.4,1952.1 1559,1950.6 1562.5,1897.6 1564.6,1906.2 1564.8,1893.6 1566.3,1866.6 1568.1,1837.8 1569,1847.2 1570.5,1833.5 1572.9,1838.6 1576.5,1835.9 1575.9,1831.6 1577.9,1900.9 1578.7,1913.9 1581.1,1904.5 1582.9,1929.8 1584.6,1925.1 1586.6,1936.6 1588.2,1909.9 1589.3,1924.9 1591.9,1903.9 1594.1,1898.3 1595.6,1889.4 1597.9,1854.5 1599.7,1784.3 1600.5,1773.7 1601.7,1748.2 1602.2,1736.5 1603.6,1708.9 1606,1692 1608.3,1649.2 1609.2,1651 1611.6,1581.3 1614.1,1563.1 1616.3,1452.3 1617.4,1436 1618.9,1425.6 1620.5,1490.8 1621.9,1398.3 1623.4,1546.7 1625.5,1626.6 1626,1686.4 1627.9,1793.6 1628.7,1852 1629.8,1861.7 1632.4,1890.2 1635.3,1900.4 1636.6,1932 1636.6,1910.9 1640.3,1943.5 1642.6,1924.6 1643.1,1944 1644,1908.1 1646.9,1838.2 1647.5,1765.1 1649.6,1791.6 1650.9,1794.2 1652.6,1811.4 1653.8,1858.6 1655.4,1912.3 1655.5,1908 1658.1,1920 1660.1,1912.5 1663.6,1935.5 1663,1925 1665.3,1893.9 1667.9,1825.2 1668.7,1838.1 1670.3,1842.7 1673,1909.7 1674.9,1910.5 1674.3,1905.8 1676.9,1874.7 1679.9,1855.1 1681.3,1852.6 1681.7,1851 1684.8,1788.4 1687,1784.6 1689.9,1744.3 1688.8,1748 1691.4,1681.7 1693.5,1627.7 1693.7,1624 1696.3,1768.6 1698.2,1831.4 1698.2,1839.8 1701.7,1821.7 1702.6,1870.1 1706.5,1858.9 1707.6,1899 1710.2,1866.1 1712.1,1923.8 1713.3,1925.2 1715.6,1913.7 1718.2,1845 1720,1871.3 1719.5,1870.6 1722.9,1761.9 1724.2,1517.9 1725.3,1536.9 1727.6,1594.2 1728.9,1646.8 1728.7,1657.3 1731.4,1744.7 1733.2,1785.7 1733.6,1776.9 1735,1704.2 1736.6,1747.7 1738.2,1783.9 1741.9,1885.1 1742.2,1892.4 1743.6,1879.4 1746.6,1837.8 1749,1836.8 1750.4,1783.5 1751.2,1813 1753.2,1666.4 1754.8,1566.6 1754.6,1575.4 1757.6,1728.8 1759.9,1753.7 1762.1,1847.8 1763.1,1828 1765,1886.9 1767.6,1905 1769.9,1943.2 1770.8,1945.1 1771.8,1898.8 1771.8,1868.6 1774.5,1890.3 1776.6,1914.3 1776.8,1932 1778.5,1914.5 1781.3,1920.2 1784,1901.6 1786.1,1893.8 1787.1,1887.6 1788.2,1880.5 1790.1,1813 1792.5,1775.9 1793.7,1735 1795.7,1779.2 1797,1788.5 1798.6,1805 1799.8,1714.5 1802.1,1690.4 1805.5,1557.6 1805.9,1554.9 1807.9,1611.3 1810.3,1767 1812.2,1848.6 1812.8,1844.8 1814.5,1750.6 1814.7,1783.8 1816,1790.4 1818.3,1864.6 1820.7,1870.7 1824.1,1936.3 1824.3,1945.7 1825.8,1941 1828.9,1901.7 1831.2,1900.1 1833.7,1859.5 1833.5,1858.6 1834.9,1904.7 1835.8,1908.2 1838,1880.3 1840.3,1866.8 1843.2,1838.5 1845.1,1829.7 1846.1,1805.5 1847.8,1803.8 1849.1,1741.1 1852.2,1710.7 1852.3,1704.1 1853.8,1700 1854.8,1697.9 1856.1,1705.6 1859.9,1692.8 1860.6,1687.3 1861.2,1706.5 1862.9,1770.6 1863.6,1743.7 1865.5,1731.5 1868.3,1675.3 1869.6,1670.6 1871.7,1676.8 1872.7,1724.1 1875.4,1693.6 1876.8,1696 1878.8,1857.4 1878.1,1913.2 1881,1879.9 1882.7,1931 1885.2,1925 1885.6,1936.8 1887.3,1914.9 1889.4,1910 1893,1870.9 1893.1,1891.4 1894,1858.5 1897.7,1878.4 1899.6,1862.7 1900.6,1854.8 1902.1,1821.2 1903.5,1804.6 1904.3,1795.9 1905.8,1816.1 1908.6,1838 1911.2,1869.1 1910.9,1868.3 1913.8,1860.1 1915.8,1832.5 1915.4,1845.7 1917.9,1842.7 1920.7,1877.9 1921.4,1869.2 1922.7,1826.8 1924,1741.2 1925.6,1773.5 1927,1815 1927.9,1851 1929.4,1821.4 1933.1,1810.8 1932.4,1788.8 1935.1,1813.1 1936.9,1824 1939.3,1861.1 1941.1,1866.2 1944,1902.7 1944.1,1880.5 1946.6,1904.2 1949.1,1870.7 1950.9,1893.4 1954.1,1867 1954,1933.3 1955.7,1927.7 1958.6,1925.2 1960.3,1904.4 1962.9,1915.6 1965.5,1887.2 1964.9,1890.2 1968.4,1949.3 1968.4,1956.6 1970.5,1941.5 1972.7,1944.3 1974.4,1927.1 1976,1925.8 1976.6,1892.7 1979.9,1872.4 1981.2,1828.1 1981.9,1849.4 1985,1861.7 1985.9,1869.4 1986.8,1846.8 1989.6,1833.9 1992.2,1805.4 1991.2,1797.1 1994.4,1804.5 1996.8,1820.8 1997.8,1781 2000.8,1762.8 2003,1709.5 2005,1697.3 2006,1714 2006.3,1794 2007.6,1766.4 2009.6,1745.9 2011.7,1713.5 2012.1,1729.9 2015.6,1718.3 2018.1,1729.4 2020.4,1720.7 2019.6,1845.7 2021.9,1804.3 2023.9,1800.5 2027.2,1762.2 2027.1,1783.6 2029.2,1906.9 2029.5,1912.7 2031.3,1869.6 2033.2,1881.5 2036.6,1834.1 2038.4,1829.8 2040.5,1822.5 2041.5,1874.9 2042,1914.3 2043.3,1915.8 2045.5,1865 2047.3,1862.8 2050.4,1829.9 2052.3,1812.9 2052.2,1809.4 2055.6,1885.7 2054.4,1879.4 2057.5,1874.5 2059.3,1825.5 2062.7,1818.1 2063.8,1788.8 2064.9,1834.8 2067.6,1877.6 2067.9,1934.2 2069.4,1911.2 2071.3,1930.3 2074.5,1914.6 2076.5,1919.1 2078.5,1899.3 2081.4,1914.1 2080.3,1910.3 2084.1,1890.7 2086.3,1834.6 2088.3,1850.2 2090.9,1788.7 2091.4,1810.9 2092.4,1770.4 2094.5,1727.1 2098.4,1627.7 2098.7,1609.4 2100,1641.2 2102.7,1756.7 2103.6,1764.4 2104.9,1747.2 2107.2,1681.3 2107.1,1676.8 2110,1690.5 2111.8,1700.9 2112.2,1692.5 2114.7,1792.6 2115.3,1849.3 2117.3,1850.1 2119,1812.6 2120.3,1800.6 2121.9,1797.7 2124.3,1855.7 2125.2,1871.3 2126.6,1905 2128.6,1858.5 2130.7,1839.7 2133.5,1746.7 2133.3,1747.4 2135.5,1783.9 2137.1,1874.6 2138.4,1877.2 2140.5,1844 2142,1791.4 2142.5,1807.8 2145.1,1789.3 2146.9,1810.5 2146.8,1777.7 2149.4,1700.6 2150.2,1628.6 2151.7,1640.4" fill="none" stroke="#4a6f8f" stroke-width="2.6" stroke-linejoin="round"/>
<polyline points="1257,1448.7 1257.3,1485.8 1259.5,1470.9 1261.6,1485.2 1262.2,1503.5 1263.8,1719.6 1267.4,1828.4 1268,1883.7 1269,1862.8 1271.8,1917.7 1274.4,1903.3 1276.1,1947.2 1278.5,1952.8 1278.7,1963.4 1280.2,1874.6 1281.4,1895.6 1283.4,1893.2 1285.6,1903.2 1285.2,1902.1 1287.3,1891.4 1290,1869.8 1292.7,1871.5 1293.5,1868.2 1295,1835.3 1297.7,1760.2 1297.8,1750.4 1299.7,1766.5 1302.8,1837 1304,1837.7 1306.6,1903.3 1306.3,1873.7 1309.4,1753.3 1308.4,1754.8 1312,1865 1312.7,1902.2 1314.6,1904.1 1316.1,1888.6 1318.1,1894.1 1321.7,1867.4 1321.5,1884.1 1324,1860.8 1325.4,1884.6 1328.7,1855.2 1331,1877.5 1330.1,1868.4 1332.1,1860.9 1335.8,1836.7 1338.2,1836.7 1339,1818.6 1340.1,1823 1341.7,1725.9 1343.8,1703.4 1346.2,1645.9 1347,1651.7 1349.5,1616.9 1352.2,1615.8 1353.1,1581.7 1354.2,1639.5 1356.6,1632.3 1359.2,1726.1 1359.8,1716.6 1361.4,1746.9 1363.8,1754.2 1365.3,1787.4 1368,1785 1370.2,1831.6 1370.5,1791.4 1372.7,1795.7 1375.7,1750.6 1375.7,1738.9 1377.6,1698.3 1378.4,1668.9 1380.3,1687.3 1382.9,1748.2 1384.2,1777.7 1384.9,1802.5 1387.4,1749.8 1389.2,1710.5 1390.1,1698.1 1391.3,1735.9 1394.6,1751 1397.3,1829.7 1398,1846.5 1398.3,1847.7 1401.2,1855.8 1403.3,1882.9 1405.1,1875.9 1408.9,1922.5 1410.6,1915.3 1412.1,1933 1413.1,1894.9 1415.8,1881.6 1418.2,1836 1420.2,1804.2 1420.3,1802 1422.5,1704.6 1423,1699.7 1425.5,1737.3 1427.2,1736.9 1429.6,1758.4 1429.2,1702.4 1431.7,1641.3 1432.2,1646.1 1434.5,1668.7 1436.9,1675 1437.3,1678.7 1438.8,1707 1440.8,1772.6 1441.3,1776.1 1443.5,1747.1 1446.2,1705.4 1447.9,1689 1451.5,1599.5 1452.2,1590.4 1453.6,1586.2 1455,1760.2 1458.1,1780.1 1460,1882.5 1460.3,1863.6 1462.6,1916 1465.7,1869.7 1467.7,1952.9 1468.7,1956.9 1470.2,1957 1472.1,1910.2 1473.8,1934.3 1476.9,1889.2 1476.6,1922.7 1479.4,1853.8 1482.2,1907.6 1484,1855.1 1486.5,1879 1487.4,1865.7 1487.9,1856 1490.9,1819.1 1492.7,1812.2 1494.4,1800.9 1495.9,1782 1498.6,1611.3 1498.6,1597.9 1499.8,1631.6 1503.3,1707.2 1505.4,1734.2 1506.7,1775.4 1508.1,1779.8 1509.4,1831.8 1511.9,1846.9 1512.9,1852.8 1515,1855.3 1517,1903.9 1518.7,1878.5 1522,1952.4 1522.3,1956.3 1523.2,1954.7 1525.5,1919.5 1528.6,1911 1531.1,1870 1530.9,1886.6 1533.4,1820.7 1536,1778.4 1537.6,1717.8 1538.7,1724.6 1540.4,1560.3 1542.8,1497 1543.5,1508.8 1544.7,1563.7 1547.8,1545 1548.2,1559.6 1550.7,1565.7 1550.7,1559.3 1552,1635 1554.3,1722.4 1554.8,1925.3 1556.4,1942.7 1559.4,1950.6 1558.8,1953.2 1562.3,1895.2 1564,1899.2 1565.3,1886.2 1566.4,1860.5 1568.1,1834.3 1568.3,1840 1571.5,1824.8 1573.1,1832 1575.2,1824.4 1575.5,1826.2 1579,1895.4 1578,1908.7 1580.6,1905.1 1582.4,1927.5 1586.1,1919.4 1586.3,1931.8 1588,1905.2 1590.2,1921.3 1592.8,1901.6 1595.5,1898.1 1595.6,1883.9 1597.2,1849.6 1599.2,1772.9 1600.8,1765.2 1601.4,1734.6 1602.4,1729.2 1603.8,1704.4 1606.5,1683.6 1609.6,1631.4 1608.3,1627.6 1611.5,1554.5 1613.3,1543.4 1615.6,1428.4 1616.9,1402.6 1619,1390 1620.5,1464.4 1621.3,1363.5 1622.5,1527.2 1625.8,1607 1625.8,1672.1 1627.8,1781.4 1629.3,1839.3 1630.9,1850.1 1631.9,1881.7 1635.6,1898.2 1636.9,1923.5 1636.8,1903.6 1639.2,1939 1642.5,1914.1 1643.2,1945.5 1644,1896.3 1646.1,1826.6 1648.5,1751.7 1649,1782.6 1651,1784.1 1653,1801.5 1653.8,1858.6 1653.9,1904 1656.2,1909.2 1659.3,1921 1661.3,1904.4 1662.8,1933.5 1663,1929.7 1665.7,1885 1667.5,1819.1 1667.9,1825.9 1670.7,1834.3 1672.1,1897.7 1674.4,1907.8 1674.6,1907.9 1677.3,1870.6 1680.3,1854.1 1680.7,1842.2 1682.7,1843.8 1683.9,1779.5 1686.6,1776.2 1688.6,1731.7 1689.2,1731.7 1691,1670 1693.9,1607.5 1693.9,1600 1697,1761.3 1699,1818.9 1699.4,1833.3 1700.8,1814.2 1703.2,1865.4 1705.1,1852.7 1708.8,1888.9 1710.6,1862.3 1712.8,1926.4 1713.8,1924.2 1715,1911.4 1717.7,1835.9 1719.9,1868.6 1720.5,1865.3 1722,1752.7 1724.7,1491 1724.3,1515.1 1726.7,1576.5 1728.6,1627.4 1728.8,1643.4 1732,1741.5 1733.1,1778.8 1733.4,1766.3 1735.8,1696.6 1736.9,1739.9 1738.5,1776.5 1741.8,1885.6 1742.5,1887.9 1743.3,1876.3 1746.6,1830 1747.5,1830.4 1750.8,1772.5 1751.1,1799.7 1753.5,1650.6 1755.7,1550.6 1754.6,1552.1 1756.9,1714 1760.1,1739.3 1760.9,1844.6 1762.4,1813.1 1764.1,1881.4 1766.8,1893.4 1768.7,1943.3 1770.1,1941.9 1771.4,1895.4 1771.8,1859.3 1773.6,1885.4 1775.8,1910.3 1776.7,1926.9 1779.2,1907.8 1780.5,1914 1783.6,1894 1786.6,1898.7 1787.1,1885.1 1789,1877 1790,1805.8 1792.9,1763 1793.6,1721.4 1795.5,1770.9 1797.8,1780.8 1798.4,1798.7 1799.6,1701.9 1803.2,1672.7 1805.2,1539.1 1805.6,1535.3 1807.1,1594.4 1809,1762.3 1811.4,1842.2 1811.6,1842.8 1813.5,1732.9 1814.1,1768.2 1816.4,1783.8 1818.3,1862.5 1822.1,1871.9 1824,1938.6 1825.2,1943.5 1826.5,1936.5 1828.6,1896.6 1830.2,1891.4 1832.6,1844.7 1833.8,1854.1 1836.2,1895.9 1836.3,1906.6 1837.9,1881 1839.8,1862.4 1841.9,1829.5 1844.4,1814.8 1846.1,1802.3 1846.7,1793.4 1850.2,1732.1 1852,1701.3 1852.6,1686 1852.6,1683.7 1855.2,1679.3 1856.6,1685.2 1859.1,1676.4 1861.3,1679 1862.2,1692.4 1862.5,1756.9 1863.1,1731.3 1866.4,1712.7 1867.9,1661.1 1869.4,1659.3 1870.8,1659.3 1872.8,1708.4 1875.6,1681.7 1875.4,1681.1 1877.3,1844.7 1877.9,1909.4 1880.2,1869.5 1882.5,1923 1884.2,1930.1 1884.9,1928 1888.1,1910.3 1890.7,1910.5 1892.5,1860.3 1893.1,1883 1894,1851.4 1896.6,1871.5 1899.6,1852.3 1899.9,1847.6 1902.2,1814.7 1904.4,1794.6 1904.2,1784.9 1905.8,1812.7 1908.4,1828.9 1911.6,1871.3 1911.8,1858.5 1912.7,1852.4 1916,1831.6 1916,1834.9 1918.4,1835.3 1920,1867.7 1922.2,1859.9 1922.7,1817.7 1924.8,1722 1924.8,1770.3 1927.7,1814.4 1928.9,1844.1 1929.4,1816.9 1933.1,1805 1932.8,1779.6 1934.6,1812.4 1937.1,1814.4 1939.3,1861.5 1941.6,1857.4 1944,1890.9 1944.3,1880.1 1947,1898.5 1949.3,1865.9 1951.2,1884.4 1954,1856.9 1954.3,1935.2 1955.5,1922.2 1957.9,1921.7 1961.1,1896.6 1962.5,1907.7 1965.8,1883.7 1966.3,1882.8 1967.5,1951.2 1968,1952.7 1969.8,1931.8 1973,1943.8 1974.1,1931.5 1976.3,1921.7 1977.7,1894.7 1979.1,1867 1980.2,1822.7 1982.6,1837.6 1984.2,1854.7 1984.6,1864.6 1987,1841.9 1989.4,1821.4 1991.1,1796.3 1991,1795.7 1994.1,1802.7 1996.9,1821.8 1998.5,1771 2000.5,1755.5 2003.2,1703.2 2004.4,1683.8 2005.7,1706.2 2007.3,1782.9 2007.5,1762.7 2010.7,1736.6 2011.6,1707.8 2011.9,1726.3 2015.6,1705.3 2017.6,1714 2019.2,1708.1 2020.6,1841.4 2022.5,1798.2 2023.8,1791.2 2026.1,1754.9 2027.5,1770.2 2028.3,1897.8 2029.3,1911.2 2031.7,1861.6 2033.5,1879 2035.7,1829.5 2037.8,1821.7 2039.6,1815 2041.5,1876.7 2041.2,1902.1 2043.9,1906.6 2044.9,1854.5 2047.4,1853.4 2050.9,1818.1 2052.8,1797.6 2053.2,1798.2 2054.7,1887.7 2055.5,1877 2057.5,1862.4 2060.5,1816.8 2061.9,1808.5 2063.9,1777.3 2064.9,1823.8 2066.4,1877.3 2067.5,1934.1 2069.7,1909.7 2072.4,1928.3 2074.7,1908.6 2077,1918.5 2078.5,1890.1 2081.4,1908.5 2081,1906.7 2083.2,1889.4 2086.4,1827.8 2088.6,1843.8 2090.3,1774.9 2092.6,1798 2093.2,1758.9 2095.6,1720.2 2098.1,1604.2 2099.4,1590.1 2099.8,1622 2102.6,1752.1 2103.2,1759.4 2104.6,1740.7 2106.4,1660.8 2108,1665.4 2108.9,1673.8 2111,1687.3 2112.2,1678.3 2114.6,1779.2 2116.2,1844.9 2116.8,1847.7 2119.5,1797.4 2120.1,1787.6 2121.9,1792.4 2122.8,1841.6 2126.3,1861.7 2127.4,1898.1 2128.6,1853.1 2130.9,1829 2132.7,1728.1 2132.8,1734.4 2134.8,1771.6 2137.8,1872.1 2137.9,1872.4 2139.3,1839.7 2142.3,1781 2142.8,1790.9 2145.6,1783.5 2146.5,1797.5 2146.4,1769.5 2148.9,1686.5 2151.3,1609.8 2151.3,1619.4" fill="none" stroke="#4e7b2e" stroke-width="2.6" stroke-linejoin="round"/>
<polyline points="1257.6,1261.7 1258.2,1320.9 1260.1,1298.2 1261.1,1322 1262.8,1341.1 1264.6,1637.4 1267,1793.9 1268.4,1876.5 1269.6,1834.8 1271.9,1909.4 1274.7,1885 1276.8,1943.4 1279.5,1955.7 1279.2,1957.2 1281.2,1849.3 1281.5,1867.9 1283.6,1870.9 1285.5,1895.4 1285.8,1890.6 1288.9,1888.7 1291.3,1851.2 1293.2,1863.4 1293.9,1854.4 1295.3,1816.5 1298,1702.7 1298.9,1693.5 1300.3,1704.8 1302.6,1811.3 1305.2,1805.3 1307.1,1896.9 1307.4,1864.3 1309.8,1684.8 1310,1684.6 1312.4,1848 1314.2,1900 1314.5,1904.6 1317,1873.8 1318.8,1888.5 1321.7,1850 1322.3,1874.3 1324.4,1842.6 1326,1872.9 1328.4,1849.7 1330.8,1867.1 1330.9,1859.2 1333.5,1851.7 1336.2,1815.8 1338.2,1825.7 1339.9,1814.4 1340.4,1814.6 1343,1689.5 1345,1650 1346.9,1572 1347.8,1585.4 1350.3,1532.8 1352.6,1543.9 1353.3,1497.6 1354.2,1574.1 1356.7,1576.5 1359.6,1705 1359.2,1701.1 1362.2,1729 1364.1,1729.4 1366,1778 1369,1762.8 1370.8,1818.9 1371.3,1765.4 1373.2,1780.4 1376.4,1738.1 1376.8,1727 1378.2,1663.3 1379.1,1614 1380.9,1644.2 1382.8,1724.2 1385.1,1760.4 1385.7,1793.4 1387.9,1715.3 1390,1656.9 1389.9,1637.8 1392.2,1696.7 1394.6,1710 1397,1819.2 1398.8,1833.8 1399.1,1844.9 1401.9,1843.9 1404,1875.1 1406.6,1863.1 1409.4,1910.1 1411.6,1904.1 1411.6,1933.9 1413.5,1877.3 1415.8,1871.5 1418.1,1818.4 1421.2,1788.7 1420.3,1788.4 1423,1655.5 1423.6,1649.7 1425.3,1700.9 1427.5,1709.7 1429.2,1743.2 1430,1663.3 1432,1582.2 1432.4,1589.2 1435.1,1610.1 1437.6,1622.3 1438.6,1636.8 1439.8,1659.8 1442.2,1768.7 1442.8,1758 1444.2,1725.2 1446.6,1649.8 1449.6,1616.9 1451.9,1497.8 1453.1,1481.3 1453.4,1479.4 1456.2,1710.1 1458.2,1727.5 1460.5,1881.4 1461,1855.1 1463.5,1909.5 1466.1,1839.8 1468.1,1949.9 1469,1955.5 1470.1,1952.6 1473.1,1892.9 1475.5,1933.1 1477.9,1859.9 1477.9,1920.7 1479.9,1826 1481.7,1902.8 1484.2,1835.1 1486.5,1874 1488.3,1856.7 1489.1,1849.7 1491.7,1801.2 1494,1805.2 1495,1789.4 1496.6,1755.7 1498.5,1514.3 1498.9,1504.3 1501.1,1549.9 1503.7,1646.3 1505.3,1682.1 1507.9,1746.2 1508.3,1741.4 1510.6,1821 1512.4,1836.7 1512.9,1842.6 1515.3,1839.4 1517.2,1895.7 1519.7,1857.4 1522.3,1953.6 1523.2,1960.2 1524.9,1952.6 1527.4,1902.8 1529.4,1909.9 1531.4,1859.1 1532.4,1881 1533.9,1805.1 1536.7,1765.6 1538.6,1704.2 1538.8,1709.5 1541.4,1462 1543.1,1372.5 1543.8,1382.8 1545.5,1455.8 1548.3,1417.5 1549.1,1432.8 1550.6,1431.3 1551,1429 1553.3,1524.1 1555.7,1644 1556.2,1923.5 1557.5,1941.9 1559.4,1945.2 1559.7,1948.5 1562.5,1883.4 1565.2,1893.6 1565.7,1878.4 1567,1845.1 1568.6,1805.6 1569.7,1818 1572.4,1791.3 1574.7,1803.6 1576.2,1787.3 1577.1,1786.9 1579,1888.6 1578.7,1897.8 1581.4,1895.3 1583.3,1920.9 1586,1916.2 1587.4,1926.4 1588.3,1887 1590.3,1919.5 1593.4,1888.5 1595.1,1889.8 1596.8,1879.5 1597.5,1844.4 1600.3,1756.3 1600.4,1745.5 1602.2,1709.4 1603.1,1704.5 1605.1,1657.2 1607.7,1626.6 1609.8,1552 1609.8,1556.9 1611.9,1448.9 1614.5,1422.4 1616.4,1260.3 1617,1228.2 1619.3,1208 1621.8,1301.6 1622.5,1171.1 1623.4,1391 1625.8,1509.1 1626.6,1590.6 1629,1740.9 1628.8,1836.2 1631.2,1842.5 1633.7,1884.5 1636,1885.3 1638.1,1919.6 1638.3,1890.6 1640.2,1930.4 1642.6,1900.4 1644.5,1935.1 1645.2,1882.2 1647.8,1782.4 1649,1679.2 1649.4,1714.3 1652.5,1729.4 1652.8,1744.4 1654.6,1823.4 1655.9,1902.5 1656.4,1896.3 1659.3,1915.8 1661.9,1896.9 1663.7,1925.8 1664.4,1919 1666.8,1866 1668.6,1764.2 1668.8,1791 1670.6,1795.6 1673.3,1895.5 1674.5,1898.3 1675.6,1900.6 1677.6,1858 1680.3,1842.2 1682,1832.7 1682.7,1833 1684.8,1750.5 1687.2,1738.3 1690.3,1677.9 1689.8,1681.4 1692.5,1598.3 1695.1,1504.2 1694.7,1501.2 1696.9,1724.7 1698.5,1814.4 1699.6,1818.9 1701.4,1788.1 1704.4,1851.6 1706.7,1832 1708.4,1886.1 1710.8,1844.6 1713.9,1916.1 1714.3,1917.2 1716.3,1909.1 1718.4,1806.5 1720.9,1867.5 1720.3,1852.7 1722.6,1702.3 1725,1343.7 1725,1380.6 1727.5,1464.3 1729.5,1545.3 1730.2,1557.1 1732.8,1706.7 1733.7,1769.1 1734.5,1740.5 1736.1,1632.5 1737.4,1686.5 1739.4,1731.6 1742.3,1870.4 1742.9,1875.2 1744.6,1868.8 1746.5,1819 1749.1,1816.9 1751.6,1750.5 1751.2,1791.7 1753.6,1570.5 1755.3,1431.8 1755.9,1432.2 1758.8,1658.8 1760.6,1694.9 1762.6,1836 1763.2,1789.3 1765.5,1876.6 1767.3,1890.8 1770.6,1936.3 1770.6,1941.3 1772.2,1875.5 1772.6,1824.6 1774.4,1865.8 1776.9,1897.8 1777.1,1920.5 1779.3,1897.2 1782.4,1907 1783.9,1887.2 1786.5,1889.8 1788.6,1880.8 1789.5,1871.8 1791.2,1771.3 1793.8,1716.4 1794.5,1666.5 1796.5,1738.2 1798.9,1752.2 1799.2,1787.2 1800.8,1643.2 1803.7,1605.1 1805.2,1417.2 1805.8,1413.4 1807.6,1482.8 1810.8,1718.9 1812,1830.6 1812.6,1823 1814.9,1673 1814.8,1719.5 1817.2,1729.4 1820,1842.7 1822,1840.2 1824.9,1936.6 1825.3,1937.4 1826.9,1937.3 1829.1,1874.1 1832,1872.9 1834.4,1817 1834,1821.8 1835.8,1888.1 1836.4,1900.3 1838.3,1866.3 1840.9,1856.4 1843.3,1812.4 1845.8,1811.2 1847,1792.1 1848.2,1783 1850.5,1690.8 1852.5,1646.1 1853.3,1632.8 1853.4,1627.5 1854.9,1623.5 1857.9,1635.6 1860.1,1623.5 1861.9,1622.5 1862.6,1643.6 1864.1,1749.3 1864.8,1699.6 1866.5,1673.5 1869.7,1584.5 1870.6,1581.1 1871.3,1583.1 1873.9,1640 1876.6,1594.5 1876.7,1597 1878.4,1817.8 1879.1,1898.2 1880.9,1851.7 1883.4,1918.9 1885.9,1924.3 1886,1922.5 1888.2,1897 1890.3,1906.3 1893.2,1839.2 1894.8,1878 1895.6,1840.7 1897.3,1868.6 1900.1,1843.1 1901.3,1841.4 1902.7,1791.6 1904.3,1759.7 1904.8,1747 1907.3,1782 1909,1809.1 1911.4,1861.2 1911.9,1845.3 1914.1,1834.1 1916,1799.5 1916.3,1814.7 1919,1824.4 1921.7,1858.9 1922.4,1853.8 1924,1789.8 1924.9,1659 1925.7,1719.3 1928,1789.9 1929.3,1832.2 1930.5,1788.8 1933.2,1766.5 1933.5,1741.4 1935.5,1773.6 1938.3,1778.4 1939.8,1841.5 1942.4,1845 1944.6,1882.7 1944.4,1863.3 1947.2,1886 1949.2,1849.1 1952.2,1863.8 1953.8,1820.2 1955.8,1925.7 1956.9,1913.9 1958.8,1914.6 1961,1868.6 1963.4,1889.1 1965.6,1855.7 1965.8,1858.1 1968.2,1940.1 1968.6,1949.8 1970.6,1925 1973,1936.8 1975.1,1925.6 1977,1922.8 1978.1,1875.6 1980.5,1842.6 1981.3,1790.5 1982.8,1812.5 1984.7,1835 1985.5,1852.7 1987.5,1829.3 1989.5,1804.1 1992,1768.2 1992.4,1765.1 1994.4,1778.9 1997.1,1810.2 1998.7,1744.7 2001.1,1723.3 2003.8,1648 2005.8,1635.6 2006.2,1655.6 2007.2,1765.4 2008.3,1735.5 2011.3,1693.5 2012.4,1646.5 2012.9,1674.4 2015.7,1644.6 2018.1,1659.6 2020.7,1642.1 2020.5,1836 2023.2,1754.5 2025.2,1757.1 2026.8,1684.9 2027,1709.1 2029.5,1894.5 2029.5,1899 2032.2,1841.8 2034.1,1864.5 2037,1789.1 2039.3,1788.2 2040.2,1768.5 2042,1851 2042.3,1903.1 2044.1,1901.9 2045.9,1829.6 2048.8,1832.6 2051.5,1779.1 2053.9,1760.4 2053.1,1756.2 2055.8,1874.1 2056.3,1866.6 2057.8,1844.9 2060.7,1771.9 2062.7,1761.1 2064.6,1715.5 2065.2,1780.2 2068.1,1850.3 2068.5,1922.7 2070.4,1899.6 2072.1,1920.6 2074.5,1898.4 2077.1,1913.7 2079.1,1871.5 2081.5,1903.7 2082.2,1897.2 2084.4,1884.1 2086.5,1812.9 2088.9,1838 2091.2,1753.5 2093,1792.5 2094,1726.7 2095.8,1676.3 2098.2,1519.2 2099.4,1498.5 2100.7,1547.1 2103.2,1733.6 2103.2,1745.9 2105.6,1712.5 2108.2,1598.3 2107.9,1606.5 2110.5,1604.9 2112.1,1616.3 2112.3,1613.6 2114.4,1750.2 2116.7,1835 2117.3,1832.8 2119.7,1766.2 2120.7,1752.8 2122.1,1748.1 2124,1826.6 2126.3,1841.2 2127.3,1896.3 2129.4,1833.4 2131.6,1801.9 2134.1,1664.5 2133.9,1661.5 2136.3,1723.2 2138.5,1868.2 2138.2,1860 2140.8,1817 2142.6,1741.9 2142.7,1768.1 2145.6,1753.6 2147.4,1790.8 2148.1,1739.4 2150.6,1630 2152,1526.5 2152.3,1538.6" fill="none" stroke="#57523d" stroke-width="2.8" stroke-linejoin="round"/>
<polyline points="1256.3,1303.7 1256.9,1365.5 1259.1,1341 1260.2,1366.4 1261.2,1388.8 1263.9,1674.9 1266.3,1800.8 1267.3,1875.6 1268.6,1846.2 1270.8,1910.3 1273.4,1887.3 1275.3,1938.2 1277.7,1951.4 1277.6,1954.6 1279.8,1858.1 1280.5,1876.1 1282.4,1883.9 1284.5,1898.2 1284.8,1891.5 1287.1,1887.9 1289.6,1854.1 1292.2,1870.3 1293,1858.7 1294.5,1824.5 1296.4,1728.2 1297.5,1719.9 1299.3,1724.2 1302,1826.8 1304.2,1824.8 1306.6,1901.3 1306.2,1863.5 1308.2,1718.4 1308.9,1713.3 1311.3,1856.8 1312.8,1895.5 1313.6,1899.9 1315.7,1879.6 1318.1,1891.8 1320.4,1850.4 1321.2,1874.5 1322.4,1846.2 1325.4,1876.4 1327.9,1845.8 1330.1,1866.1 1329.8,1858.4 1331.8,1858.2 1334.8,1817.8 1336.5,1832.4 1339.2,1814 1339,1813.8 1342,1698.7 1343.6,1665.9 1345.2,1605.6 1346.6,1608.8 1348.6,1563 1351.4,1573.3 1351.8,1531.8 1353.1,1597.4 1356,1593.9 1358.3,1711.9 1358.3,1705.1 1360.2,1733.8 1363,1733.2 1364.8,1781.7 1367.4,1773.8 1369.9,1814.9 1369.7,1769.7 1372.8,1781.2 1374.5,1735.1 1376.2,1726.8 1377.1,1670.2 1378,1630.8 1379.3,1655.6 1382.2,1731.2 1384.3,1762.2 1384.7,1790.2 1387,1723.9 1388.5,1682.6 1389.1,1665.2 1391.5,1705.6 1393.6,1725.8 1396.4,1822.5 1398.2,1837 1398.5,1845.9 1400.9,1842.7 1403.3,1882.9 1405.5,1867 1407.6,1910.2 1410.5,1908.1 1410.6,1928.6 1412.2,1886.2 1415.2,1869.2 1417.3,1825 1419.5,1786.7 1419.7,1790.5 1421.6,1675.6 1421.9,1671.3 1424.7,1711.8 1426.7,1710.6 1428.4,1747.2 1429.4,1677.8 1430.3,1601.7 1431,1604.8 1433.7,1628.6 1436.5,1646.4 1437.2,1654.3 1438.5,1671.2 1440.4,1770.2 1441.8,1762.7 1442.8,1730.3 1445.9,1667.5 1448.4,1647.6 1450.5,1543.5 1452.2,1527.9 1452.7,1519.6 1455.4,1727.5 1457.8,1753.7 1459,1879.4 1459.7,1855.4 1462.2,1907.9 1464.7,1857.5 1467.1,1947.6 1468,1947.3 1468.7,1956.7 1471.1,1898.1 1473.6,1940.6 1476.6,1868.9 1476.4,1924.1 1478.6,1839 1480.9,1900.6 1483.7,1837.1 1485.5,1872.9 1487.4,1855.1 1488.2,1851.5 1490,1805.2 1493.1,1806.4 1493.5,1789.2 1495,1761.5 1497.2,1551.1 1497.7,1547.1 1500,1585.5 1502,1673 1504.9,1698.6 1507.2,1751.3 1506.7,1753.5 1508.9,1821 1511.6,1838.9 1511.4,1847.6 1513.8,1836.5 1516.7,1900.6 1518.9,1866.8 1520.7,1955.8 1522,1957.4 1523.6,1947.6 1525.7,1904.4 1528,1904.6 1530.9,1865.7 1530.7,1879.3 1532.7,1805.9 1534.9,1763.1 1537.1,1704.1 1537.9,1710.6 1539.9,1498.4 1542,1419.1 1542.4,1428.1 1545.1,1500.6 1547.1,1465 1548.1,1480.8 1549.6,1471.1 1549.6,1475.4 1552.3,1568.3 1554.3,1673.8 1555,1926.1 1556.1,1943.8 1557.8,1948.7 1558.7,1945.6 1561.5,1886.7 1563.2,1899 1564.9,1873.3 1566.4,1849.1 1566.6,1815.7 1568.5,1831.8 1570.6,1802.7 1573.2,1813.6 1575.4,1799.8 1575.3,1805.9 1578.1,1891.4 1577.9,1898.5 1579.9,1897.6 1582.9,1920.2 1584.8,1917.3 1586.8,1933.5 1586.9,1890.6 1589.9,1920.2 1592.3,1892.8 1594.7,1892 1595.3,1877.3 1596.7,1843.2 1598.9,1754.5 1599.4,1746.6 1601.1,1714.3 1601.6,1709.4 1603.9,1666.6 1606.2,1642.9 1608,1584.4 1608.7,1585.7 1611,1495.4 1613.7,1474.1 1615.5,1307.9 1616.2,1272.9 1617.8,1257 1620.5,1353.6 1621.6,1211.8 1622.2,1430 1625.4,1546.9 1625.7,1630.8 1627.7,1758.8 1628.3,1835.7 1629.6,1845.7 1632.1,1879.5 1634.3,1881.5 1636.8,1916.4 1636.9,1897.9 1639.4,1934.9 1641.7,1905 1643.5,1942.4 1643.9,1890.8 1646.1,1805.4 1647.8,1707.3 1648.5,1746.4 1651.4,1746.9 1652.4,1764.6 1653.8,1835.3 1654.2,1897.8 1656.1,1892.6 1658.1,1916.9 1660.1,1896.9 1662.3,1923.3 1663.4,1921.7 1664.9,1875.3 1667.1,1784 1667,1810 1669.8,1810.5 1672.1,1898.9 1674,1901.8 1674.9,1896.7 1676.4,1855.2 1679.6,1846.3 1680.5,1837.7 1681.7,1834.6 1684.3,1761 1686.6,1746.4 1688.5,1697.8 1688.8,1693.9 1690.6,1622.1 1693.2,1545.7 1693,1546.4 1695.4,1732.7 1697.6,1808.1 1698.4,1820.1 1700,1793.5 1702.4,1854.2 1705.5,1839.9 1707.4,1883 1709.9,1852.7 1712.1,1916.9 1713.4,1917.4 1714.3,1911.2 1716.7,1821.4 1719.1,1860.7 1719.2,1854.4 1721.3,1723.7 1724.1,1394 1724.5,1423.8 1726.3,1501.6 1728.2,1584.7 1729.3,1586.8 1731,1712.1 1732.5,1771.4 1733.6,1745.6 1735.3,1657.3 1735.7,1701.1 1738,1749.6 1741.1,1879.1 1741.7,1874.5 1743.2,1865 1745.9,1815.8 1747.4,1824.4 1749.7,1755.6 1750.5,1790.9 1752,1600.3 1754.9,1472.4 1755,1477.4 1757.2,1681.1 1759.6,1705.6 1761.5,1834.9 1762,1796.2 1764.7,1882.4 1766.2,1885.5 1768.6,1938.1 1770,1943.3 1771.6,1887.9 1772.2,1837.5 1774.1,1876.2 1776,1896.7 1776.1,1916.5 1778.1,1899.3 1780.5,1910 1783.1,1886.7 1785.8,1891.3 1787.6,1877.1 1787.9,1873.4 1790.6,1784.2 1792.8,1737 1793.6,1683.3 1794.6,1744.6 1797.6,1754 1798.2,1795.3 1799.5,1662.1 1802.1,1626.8 1804.7,1463.9 1804.7,1458.5 1806.4,1531.5 1809.5,1731 1811.1,1831.5 1811.4,1825.7 1813.7,1698.2 1814,1742.3 1816.5,1746 1818.7,1846.8 1820.5,1851.2 1823.4,1931.6 1824.2,1938.9 1825.8,1938.6 1827.5,1876.7 1830.4,1878.3 1833,1833.9 1833.2,1829.8 1835.6,1890.8 1835.4,1896.9 1837.6,1871.8 1840.2,1857.6 1841.9,1821.9 1844.9,1809.8 1846.3,1785.6 1846.4,1777.8 1848.8,1707.2 1851.6,1666.6 1851.7,1650.1 1852.6,1651.4 1853.5,1649.8 1856.1,1658.6 1859.2,1638.6 1860.2,1645 1861.3,1658.5 1862.8,1746.3 1863.8,1710.7 1865.3,1683 1868.5,1609.9 1868.9,1617.3 1870.4,1619.5 1873.1,1672.5 1874.9,1629.3 1875.7,1636.7 1877.9,1829.4 1877.7,1894.9 1879.5,1857 1882.2,1919.8 1884.4,1925.9 1884.8,1927.7 1886.8,1900.5 1889,1900 1891.7,1851.5 1892.7,1875.9 1894.1,1847.8 1896.7,1866.7 1898.8,1839.5 1899.9,1840 1900.9,1800 1904,1776.5 1904.3,1755.2 1905.5,1789.9 1908.3,1811.1 1910.7,1863.9 1910.2,1844.5 1913.1,1839.7 1915.4,1808.1 1915.8,1821 1917.4,1830 1920,1866.1 1921,1856.7 1922.5,1799.5 1923.5,1683.8 1924.5,1740.4 1926.8,1795.4 1927.7,1832.3 1929.5,1793.9 1932,1774.9 1932.7,1759.2 1934.5,1785.2 1936.7,1791.6 1939,1841.3 1940.8,1843.2 1943.5,1887 1943.9,1866.8 1946.1,1889.6 1948.3,1851.5 1951,1867.4 1953.3,1835.6 1954.4,1929 1955.3,1920.9 1957.4,1910.9 1960.3,1876.1 1962.3,1899.1 1964.8,1866.8 1965.3,1868.2 1966.9,1948 1967.4,1944.9 1969.3,1929.4 1972.2,1941.4 1974.1,1924.2 1976.1,1919.3 1976.3,1882.8 1979.2,1849.6 1980.2,1801.1 1981.4,1825.1 1983.3,1836.5 1984.8,1856.2 1986.2,1827.4 1988.4,1809.1 1990.7,1772.4 1991.5,1770.7 1992.9,1787.7 1995.6,1806.8 1998.4,1752.8 2000.1,1735 2002.7,1660.9 2004.6,1652.3 2005.2,1668.9 2006.2,1764 2007.8,1741.4 2009.4,1704.5 2010.9,1673.7 2011.6,1695.8 2014.4,1667.7 2016.4,1679.1 2018.8,1668.7 2019.4,1835 2021.9,1773.1 2023.7,1768.5 2026.1,1715.1 2026.4,1733.8 2028.5,1891.3 2028.5,1904.1 2031.2,1846.3 2033.3,1874.5 2036.2,1810.5 2038.4,1800.2 2039.2,1782.4 2040.1,1859.8 2041.8,1901.4 2043.2,1901.8 2044.9,1838 2047.8,1843.5 2049.8,1792.1 2052.5,1778.1 2052.2,1776.9 2054.5,1874.2 2054.9,1862.1 2056.5,1849.6 2059,1789.5 2061.8,1775.3 2063.5,1744.6 2064,1797.8 2066.1,1857.7 2067.6,1929.1 2068.9,1904.1 2071.6,1921.7 2073.2,1903.1 2076,1917.7 2077.7,1876.4 2080.6,1900.7 2081.1,1904.4 2083.4,1877.7 2085.6,1818.7 2087.5,1835.3 2089.6,1761.2 2091.8,1795.5 2092.3,1741.5 2094.7,1695.1 2097,1549.5 2098.3,1529.7 2099.1,1575.4 2101.5,1728 2102.8,1744.1 2104.1,1723.4 2106.7,1624.7 2106.9,1630.9 2108.9,1636.5 2111,1642 2111.1,1645 2113.9,1754.7 2115.5,1830.1 2115.8,1830.2 2117.9,1776.7 2119.7,1764.3 2120.3,1762.9 2122.6,1832.6 2125.7,1843.3 2126.2,1895.1 2127.9,1839.5 2130.3,1812.8 2133,1688.2 2132.7,1692.1 2134.4,1738 2137.7,1870.8 2137.4,1856.4 2140.1,1822.6 2141.8,1753.5 2142.2,1774.2 2144.3,1766.7 2146,1788.9 2146.7,1742.5 2148.7,1654.5 2149.9,1561.5 2151.4,1572" fill="none" stroke="#8b5e12" stroke-width="2.6" stroke-linejoin="round"/>
<polyline points="1257.2,1841.7 1259.6,1839.1 1261.9,1834.4 1264.3,1831.5 1266.6,1827.5 1269,1818.9 1271.4,1824.8 1273.7,1821 1276.1,1836.2 1278.4,1829.6 1280.8,1836.2 1283.2,1838.4 1285.5,1838.1 1287.9,1827.6 1290.2,1825.9 1292.6,1830.3 1295,1836 1297.3,1834.5 1299.7,1836.1 1302.1,1847.1 1304.4,1832.1 1306.8,1828.5 1309.1,1828.7 1311.5,1817.5 1313.9,1825.7 1316.2,1817 1318.6,1817.6 1320.9,1801.8 1323.3,1801.3 1325.7,1801.1 1328,1810.5 1330.4,1805.9 1332.7,1815.6 1335.1,1827.3 1337.5,1823.9 1339.8,1824.2 1342.2,1846.5 1344.5,1849.6 1346.9,1862 1349.3,1865.9 1351.6,1861.9 1354,1845.9 1356.3,1842.5 1358.7,1855.3 1361.1,1842.5 1363.4,1839.2 1365.8,1858.7 1368.2,1869.6 1370.5,1890.7 1372.9,1897.1 1375.2,1915 1377.6,1925 1380,1921.6 1382.3,1913.4 1384.7,1890.3 1387,1881.7 1389.4,1872.7 1391.8,1857.8 1394.1,1857.3 1396.5,1842.2 1398.8,1846.4 1401.2,1829.2 1403.6,1834 1405.9,1836.9 1408.3,1849.8 1410.6,1849.2 1413,1848.4 1415.4,1855.9 1417.7,1858.9 1420.1,1867.2 1422.4,1851.1 1424.8,1856.4 1427.2,1848.8 1429.5,1844.9 1431.9,1856.4 1434.3,1851.3 1436.6,1839 1439,1849 1441.3,1838.7 1443.7,1839.5 1446.1,1842 1448.4,1855.2 1450.8,1849.6 1453.1,1842 1455.5,1829.2 1457.9,1835.4 1460.2,1826.3 1462.6,1812.6 1464.9,1821.8 1467.3,1807.8 1469.7,1811.4 1472,1795.7 1474.4,1813.5 1476.7,1802.4 1479.1,1815 1481.5,1814.1 1483.8,1809.1 1486.2,1820.6 1488.5,1826.4 1490.9,1836.3 1493.3,1830 1495.6,1816.6 1498,1819.9 1500.4,1828.2 1502.7,1821 1505.1,1814.7 1507.4,1810.2 1509.8,1821 1512.2,1805.1 1514.5,1806 1516.9,1803.4 1519.2,1802 1521.6,1802.6 1524,1803.1 1526.3,1806.9 1528.7,1817.5 1531,1823.2 1533.4,1821.7 1535.8,1816 1538.1,1828.3 1540.5,1822.5 1542.8,1810.9 1545.2,1814.5 1547.6,1814.9 1549.9,1821.9 1552.3,1814.1 1554.6,1820.3 1557,1807.2 1559.4,1799 1561.7,1802.6 1564.1,1804.3 1566.5,1817 1568.8,1807.8 1571.2,1807.7 1573.5,1825 1575.9,1816.5 1578.3,1812.7 1580.6,1822.6 1583,1816.3 1585.3,1814.7 1587.7,1816.6 1590.1,1818.8 1592.4,1815 1594.8,1849.7 1597.1,1857.8 1599.5,1873.9 1601.9,1889.1 1604.2,1897.7 1606.6,1897.9 1608.9,1921.4 1611.3,1926.7 1613.7,1936.2 1616,1924.4 1618.4,1895.5 1620.7,1879.8 1623.1,1869.8 1625.5,1877.8 1627.8,1864.4 1630.2,1858.3 1632.6,1856 1634.9,1853.3 1637.3,1848.2 1639.6,1829.2 1642,1840 1644.4,1837.1 1646.7,1824.2 1649.1,1813.6 1651.4,1823.8 1653.8,1812.7 1656.2,1807.9 1658.5,1814.1 1660.9,1819.3 1663.2,1802.6 1665.6,1808.7 1668,1816.1 1670.3,1812.6 1672.7,1821.5 1675,1823 1677.4,1809.9 1679.8,1813.7 1682.1,1823.6 1684.5,1814.7 1686.8,1825.2 1689.2,1833.4 1691.6,1829.6 1693.9,1840.5 1696.3,1843.9 1698.7,1840.4 1701,1825.7 1703.4,1812.6 1705.7,1811.1 1708.1,1811.4 1710.5,1824.3 1712.8,1827.4 1715.2,1823.4 1717.5,1834 1719.9,1849 1722.3,1844.3 1724.6,1857.8 1727,1874.6 1729.3,1878.5 1731.7,1863.5 1734.1,1860.1 1736.4,1840.9 1738.8,1841.6 1741.1,1829.9 1743.5,1829.9 1745.9,1835.3 1748.2,1835.8 1750.6,1831.6 1752.9,1839.7 1755.3,1835.6 1757.7,1832.7 1760,1828.6 1762.4,1830 1764.8,1813 1767.1,1806.5 1769.5,1791.4 1771.8,1802.9 1774.2,1804.1 1776.6,1812.8 1778.9,1803.5 1781.3,1813.5 1783.6,1818.6 1786,1824.2 1788.4,1826.6 1790.7,1827.1 1793.1,1826.5 1795.4,1831.5 1797.8,1842.9 1800.2,1832.9 1802.5,1842.7 1804.9,1844.4 1807.2,1832 1809.6,1838.3 1812,1827.8 1814.3,1834 1816.7,1821.3 1819,1818.4 1821.4,1798.9 1823.8,1792.4 1826.1,1806.8 1828.5,1813.3 1830.9,1815.5 1833.2,1819.9 1835.6,1817.8 1837.9,1835 1840.3,1858.8 1842.7,1863.5 1845,1878.1 1847.4,1875.6 1849.7,1879.6 1852.1,1887.9 1854.5,1886.5 1856.8,1884.7 1859.2,1880.4 1861.5,1872.5 1863.9,1859.7 1866.3,1843.6 1868.6,1828 1871,1824.4 1873.3,1810.9 1875.7,1810.6 1878.1,1803.3 1880.4,1796.9 1882.8,1807.2 1885.1,1796.2 1887.5,1804.7 1889.9,1807.2 1892.2,1813.9 1894.6,1827.3 1896.9,1832.5 1899.3,1841.7 1901.7,1840.8 1904,1842 1906.4,1845.6 1908.8,1845.6 1911.1,1838.4 1913.5,1831.2 1915.8,1830 1918.2,1838.3 1920.6,1845.5 1922.9,1844.7 1925.3,1866.2 1927.6,1864.4 1930,1858.9 1932.4,1868.3 1934.7,1879.6 1937.1,1862.4 1939.4,1855 1941.8,1841 1944.2,1835 1946.5,1807.1 1948.9,1803.2 1951.2,1803.9 1953.6,1809.7 1956,1797.7 1958.3,1794.5 1960.7,1801.7 1963,1804.8 1965.4,1802.7 1967.8,1804.6 1970.1,1799.4 1972.5,1798.9 1974.9,1802.9 1977.2,1802.2 1979.6,1812.8 1981.9,1808.5 1984.3,1818 1986.7,1818 1989,1812.1 1991.4,1824.4 1993.7,1823.8 1996.1,1830.7 1998.5,1838.6 2000.8,1841.4 2003.2,1831.9 2005.5,1835.5 2007.9,1841.1 2010.3,1837.7 2012.6,1821.1 2015,1817.3 2017.3,1811.5 2019.7,1823.5 2022.1,1813.8 2024.4,1806.7 2026.8,1816.3 2029.1,1814.6 2031.5,1801.4 2033.9,1804.4 2036.2,1798.3 2038.6,1807.4 2041,1814 2043.3,1818.2 2045.7,1811.2 2048,1806.8 2050.4,1807.3 2052.8,1811.1 2055.1,1812.6 2057.5,1808.2 2059.8,1814.7 2062.2,1805.5 2064.6,1809.1 2066.9,1810.8 2069.3,1819.5 2071.6,1817.3 2074,1814.5 2076.4,1810.4 2078.7,1818.7 2081.1,1807.1 2083.4,1797.2 2085.8,1812 2088.2,1823 2090.5,1827.9 2092.9,1830.6 2095.2,1845.4 2097.6,1847.6 2100,1862.4 2102.3,1879.9 2104.7,1869.6 2107.1,1857.8 2109.4,1845 2111.8,1827 2114.1,1824.1 2116.5,1831.7 2118.9,1822.8 2121.2,1824.8 2123.6,1852.6 2125.9,1861.4 2128.3,1869.3 2130.7,1873.8 2133,1845 2135.4,1840.7 2137.7,1816.1 2140.1,1820.3 2142.5,1826.1 2144.8,1826.4 2147.2,1834.3 2149.5,1825.7 2151.9,1825.6" fill="none" stroke="#9e2a52" stroke-width="2.6" stroke-linejoin="round"/>
</g>
<rect x="1257.2" y="1186.8" width="895.4" height="839.5" fill="none" stroke="#8c8c8c" stroke-width="4.5"/>
<rect x="1250.2" y="1917.7" width="6" height="3" fill="#333"/>
<text class="t b" x="1224.1" y="1928.2" font-size="25" fill="#333" stroke="#333" textLength="23.1" lengthAdjust="spacingAndGlyphs">0.8</text>
<rect x="1250.2" y="1810.6" width="6" height="3" fill="#333"/>
<text class="t b" x="1224.1" y="1821.1" font-size="25" fill="#333" stroke="#333" textLength="23.1" lengthAdjust="spacingAndGlyphs">1.6</text>
<rect x="1250.2" y="1703.4" width="6" height="3" fill="#333"/>
<text class="t b" x="1224.1" y="1713.9" font-size="25" fill="#333" stroke="#333" textLength="23.1" lengthAdjust="spacingAndGlyphs">2.4</text>
<rect x="1250.2" y="1596.3" width="6" height="3" fill="#333"/>
<text class="t b" x="1224.1" y="1606.8" font-size="25" fill="#333" stroke="#333" textLength="23.1" lengthAdjust="spacingAndGlyphs">3.2</text>
<rect x="1250.2" y="1489.2" width="6" height="3" fill="#333"/>
<text class="t b" x="1224.1" y="1499.7" font-size="25" fill="#333" stroke="#333" textLength="23.1" lengthAdjust="spacingAndGlyphs">4.0</text>
<rect x="1250.2" y="1382.1" width="6" height="3" fill="#333"/>
<text class="t b" x="1224.1" y="1392.6" font-size="25" fill="#333" stroke="#333" textLength="23.1" lengthAdjust="spacingAndGlyphs">4.8</text>
<rect x="1250.2" y="1275" width="6" height="3" fill="#333"/>
<text class="t b" x="1224.1" y="1285.5" font-size="25" fill="#333" stroke="#333" textLength="23.1" lengthAdjust="spacingAndGlyphs">5.6</text>
<rect x="2153.6" y="1938.8" width="6" height="3" fill="#333"/>
<text class="t b" x="2163.6" y="1949.3" font-size="25" fill="#a0335c" stroke="#a0335c" textLength="23.1" lengthAdjust="spacingAndGlyphs">0.3</text>
<rect x="2153.6" y="1852.8" width="6" height="3" fill="#333"/>
<text class="t b" x="2163.6" y="1863.3" font-size="25" fill="#a0335c" stroke="#a0335c" textLength="23.1" lengthAdjust="spacingAndGlyphs">0.6</text>
<rect x="2153.6" y="1766.8" width="6" height="3" fill="#333"/>
<text class="t b" x="2163.6" y="1777.3" font-size="25" fill="#a0335c" stroke="#a0335c" textLength="23.1" lengthAdjust="spacingAndGlyphs">0.9</text>
<rect x="2153.6" y="1680.8" width="6" height="3" fill="#333"/>
<text class="t b" x="2163.6" y="1691.3" font-size="25" fill="#a0335c" stroke="#a0335c" textLength="23.1" lengthAdjust="spacingAndGlyphs">1.2</text>
<rect x="2153.6" y="1594.8" width="6" height="3" fill="#333"/>
<text class="t b" x="2163.6" y="1605.2" font-size="25" fill="#a0335c" stroke="#a0335c" textLength="23.1" lengthAdjust="spacingAndGlyphs">1.5</text>
<rect x="2153.6" y="1508.7" width="6" height="3" fill="#333"/>
<text class="t b" x="2163.6" y="1519.2" font-size="25" fill="#a0335c" stroke="#a0335c" textLength="23.1" lengthAdjust="spacingAndGlyphs">1.8</text>
<rect x="2153.6" y="1422.7" width="6" height="3" fill="#333"/>
<text class="t b" x="2163.6" y="1433.2" font-size="25" fill="#a0335c" stroke="#a0335c" textLength="23.1" lengthAdjust="spacingAndGlyphs">2.1</text>
<rect x="2153.6" y="1336.7" width="6" height="3" fill="#333"/>
<text class="t b" x="2163.6" y="1347.2" font-size="25" fill="#a0335c" stroke="#a0335c" textLength="23.1" lengthAdjust="spacingAndGlyphs">2.4</text>
<rect x="2153.6" y="1250.7" width="6" height="3" fill="#333"/>
<text class="t b" x="2163.6" y="1261.2" font-size="25" fill="#a0335c" stroke="#a0335c" textLength="23.1" lengthAdjust="spacingAndGlyphs">2.7</text>
<rect x="1255.7" y="2027.3" width="3" height="6" fill="#333"/>
<text class="t b" x="1252.6" y="2059.3" font-size="25" fill="#333" stroke="#333" textLength="9.2" lengthAdjust="spacingAndGlyphs">0</text>
<rect x="1373.7" y="2027.3" width="3" height="6" fill="#333"/>
<text class="t b" x="1366" y="2059.3" font-size="25" fill="#333" stroke="#333" textLength="18.4" lengthAdjust="spacingAndGlyphs">50</text>
<rect x="1491.8" y="2027.3" width="3" height="6" fill="#333"/>
<text class="t b" x="1479.4" y="2059.3" font-size="25" fill="#333" stroke="#333" textLength="27.7" lengthAdjust="spacingAndGlyphs">100</text>
<rect x="1609.8" y="2027.3" width="3" height="6" fill="#333"/>
<text class="t b" x="1597.5" y="2059.3" font-size="25" fill="#333" stroke="#333" textLength="27.7" lengthAdjust="spacingAndGlyphs">150</text>
<rect x="1727.8" y="2027.3" width="3" height="6" fill="#333"/>
<text class="t b" x="1715.5" y="2059.3" font-size="25" fill="#333" stroke="#333" textLength="27.7" lengthAdjust="spacingAndGlyphs">200</text>
<rect x="1845.9" y="2027.3" width="3" height="6" fill="#333"/>
<text class="t b" x="1833.5" y="2059.3" font-size="25" fill="#333" stroke="#333" textLength="27.7" lengthAdjust="spacingAndGlyphs">250</text>
<rect x="1963.9" y="2027.3" width="3" height="6" fill="#333"/>
<text class="t b" x="1951.6" y="2059.3" font-size="25" fill="#333" stroke="#333" textLength="27.7" lengthAdjust="spacingAndGlyphs">300</text>
<rect x="2081.9" y="2027.3" width="3" height="6" fill="#333"/>
<text class="t b" x="2069.6" y="2059.3" font-size="25" fill="#333" stroke="#333" textLength="27.7" lengthAdjust="spacingAndGlyphs">350</text>
<text class="t b" x="1619.9" y="2099.3" font-size="36" fill="#333" stroke="#333" textLength="170" lengthAdjust="spacingAndGlyphs">Residue Index</text>
<text class="t b" font-size="23" fill="#333" stroke="#333" textLength="162" lengthAdjust="spacingAndGlyphs" transform="translate(1213.2,1606.5) rotate(-90)" x="-81" y="0">RMSF (Å)</text>
<clipPath id="cbf"><rect x="2150" y="1400" width="64" height="400"/></clipPath>
<g clip-path="url(#cbf)">
<text class="t b" font-size="26" fill="#a0335c" stroke="#a0335c" textLength="144" lengthAdjust="spacingAndGlyphs" transform="translate(2199.6,1608.5) rotate(90)" x="-72" y="0">B factor</text>
</g>
<text class="s" x="1326" y="1282" font-size="89" textLength="64.4" lengthAdjust="spacingAndGlyphs" fill="#000">C</text>
<rect x="187" y="2213" width="1982" height="73.5" rx="9" fill="#fff" stroke="#c8c8c8" stroke-width="3"/>
<rect x="179.6" y="2225.5" width="81.4" height="41" fill="#4a6f8f"/>
<text class="t" x="255.7" y="2265.5" font-size="55" fill="#111" textLength="57.1" lengthAdjust="spacingAndGlyphs">C<tspan font-style="italic">α</tspan></text>
<rect x="317" y="2225.5" width="81.4" height="41" fill="#4e7b2e"/>
<text class="t" x="393" y="2265.5" font-size="55" fill="#111" textLength="225" lengthAdjust="spacingAndGlyphs">Backbone</text>
<rect x="621.3" y="2225.5" width="80.6" height="41" fill="#4f4a34"/>
<text class="t" x="698" y="2265.5" font-size="55" fill="#111" textLength="260" lengthAdjust="spacingAndGlyphs">Side chains</text>
<rect x="959.4" y="2225.5" width="83.2" height="41" fill="#8b5f14"/>
<text class="t" x="1040.7" y="2265.5" font-size="55" fill="#111" textLength="297.3" lengthAdjust="spacingAndGlyphs">Heavy atoms</text>
<rect x="1342.8" y="2225.5" width="79.9" height="41" fill="#932840"/>
<text class="t" x="1421" y="2265.5" font-size="55" fill="#111" textLength="343.4" lengthAdjust="spacingAndGlyphs">(Lig) fit on Prot</text>
<rect x="1765.5" y="2225.5" width="80.3" height="41" fill="#cc3fb8"/>
<text class="t" x="1845" y="2265.5" font-size="55" fill="#111" textLength="313.3" lengthAdjust="spacingAndGlyphs">(Lig) fit on Lig</text>
</svg></body></html>
